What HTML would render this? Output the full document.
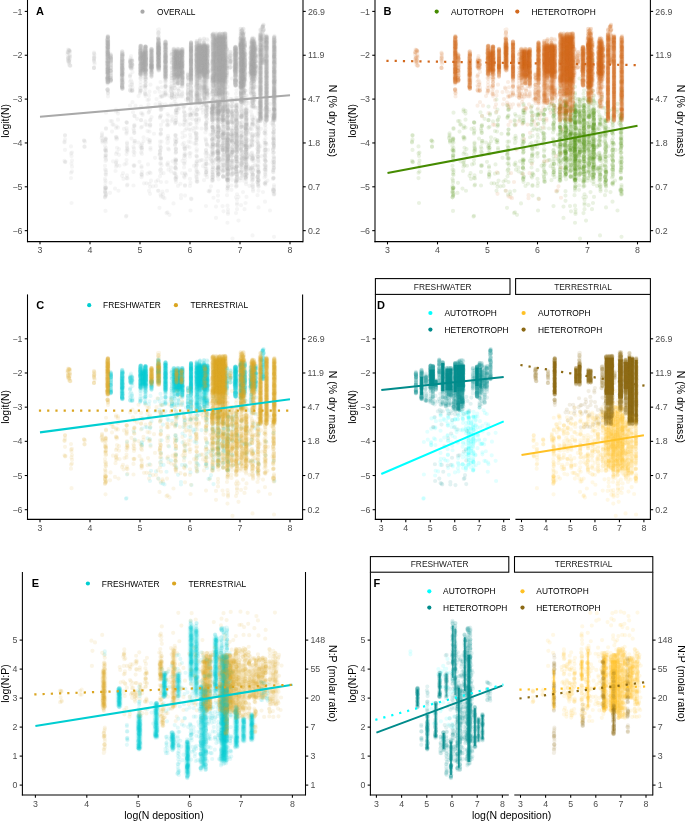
<!DOCTYPE html>
<html><head><meta charset="utf-8"><style>
html,body{margin:0;padding:0;background:#fff;}
svg{display:block;will-change:transform;}
text{font-family:"Liberation Sans", sans-serif;}
</style></head><body>
<svg width="685" height="821" viewBox="0 0 685 821">
<rect width="685" height="821" fill="#fff"/>
<defs><filter id="soft" x="-5%" y="-5%" width="110%" height="110%"><feGaussianBlur stdDeviation="0.9"/></filter><path id="nTH0" vector-effect="non-scaling-stroke" d="M360 224h0M358 213h0M356 212h0M357 206h0M360 191h0M358 211h0M408 229h0M436 223h0M435 231h0M435 198h0M436 259h0M436 158h0M435 187h0M435 242h0M435 186h0M436 263h0M435 258h0M436 208h0M436 213h0M435 253h0M436 286h0M523 192h0M523 190h0M523 186h0M537 232h0M537 181h0M538 229h0M537 213h0M537 222h0M538 212h0M537 228h0M536 181h0M536 232h0M537 174h0M537 228h0M583 200h0M583 228h0M583 217h0M631 189h0M628 234h0M630 238h0M629 220h0M629 216h0M645 153h0M660 228h0M647 276h0M658 227h0M669 208h0M653 222h0M658 189h0M667 230h0M646 278h0M659 184h0M647 150h0M654 253h0M646 164h0M671 178h0M645 213h0M646 235h0M670 176h0M671 168h0M666 172h0M659 156h0M666 288h0M646 189h0M671 164h0M659 188h0M645 173h0M660 217h0M666 204h0M660 259h0M652 245h0M659 177h0M670 289h0M659 261h0M665 173h0M646 179h0M664 201h0M665 194h0M666 231h0M658 210h0M670 246h0M645 254h0M670 220h0M660 214h0M660 174h0M666 244h0M669 214h0M669 271h0M671 205h0M645 216h0M647 275h0M645 270h0M660 203h0M671 175h0M659 195h0M659 287h0M659 227h0M652 278h0M670 184h0M660 243h0M658 177h0M667 240h0M666 260h0M664 158h0M669 170h0M645 259h0M654 192h0M671 157h0M646 218h0M671 187h0M646 196h0M659 196h0M666 197h0M646 282h0M665 267h0M659 274h0M654 180h0M671 213h0M660 239h0M647 267h0M665 258h0M658 282h0M665 224h0M665 303h0M664 306h0M660 326h0M653 320h0M666 298h0M646 319h0M652 292h0M671 307h0M646 300h0M654 307h0M653 293h0M651 334h0M658 324h0M653 329h0M666 338h0M644 334h0M704 275h0M705 222h0M702 181h0M704 216h0M704 196h0M707 171h0M706 269h0M702 179h0M703 166h0M706 221h0M704 243h0M708 237h0M708 266h0M701 195h0M707 264h0M708 176h0M705 228h0M703 241h0M704 175h0M705 147h0M702 264h0M705 141h0M707 195h0M703 258h0M702 248h0M706 236h0M706 168h0M701 284h0M708 242h0M707 148h0M708 226h0M704 174h0M706 153h0M705 168h0M706 285h0M704 224h0M702 271h0M703 214h0M703 218h0M702 288h0M726 218h0M728 170h0M724 196h0M729 191h0M728 238h0M723 211h0M727 229h0M728 242h0M725 240h0M726 249h0M728 238h0M728 239h0M728 222h0M728 248h0M729 188h0M725 278h0M728 265h0M726 316h0M729 300h0M728 267h0M725 305h0M741 152h0M741 310h0M741 159h0M741 182h0M741 336h0M741 261h0M741 185h0M741 228h0M741 260h0M741 163h0M741 155h0M741 185h0M741 262h0M741 271h0M741 281h0M741 240h0M741 274h0M741 282h0M741 286h0M741 275h0M741 323h0M741 207h0M741 312h0M741 192h0M741 229h0M741 216h0M741 277h0M741 196h0M741 202h0M753 219h0M753 341h0M753 251h0M753 266h0M753 234h0M753 162h0M753 346h0M753 305h0M753 313h0M753 334h0M753 161h0M753 215h0M753 228h0M753 260h0M753 218h0M753 243h0M753 305h0M753 324h0M753 225h0M753 296h0M753 173h0M753 341h0M753 332h0M753 202h0M753 234h0M769 207h0M769 220h0M769 160h0M769 221h0M769 222h0M769 168h0M768 262h0M769 212h0M769 192h0M769 200h0M769 280h0M769 197h0M769 278h0M768 276h0M768 218h0M768 324h0M768 239h0M769 190h0M769 164h0M769 207h0M769 209h0M769 277h0M768 201h0M768 290h0M768 227h0M769 249h0M680 207h0M606 337h0M647 340h0M604 298h0M605 346h0"/>
<path id="nTH1" vector-effect="non-scaling-stroke" d="M359 216h0M356 208h0M359 189h0M358 202h0M356 204h0M358 188h0M408 202h0M436 205h0M435 162h0M436 202h0M435 167h0M436 261h0M436 232h0M435 228h0M436 192h0M436 205h0M435 174h0M435 180h0M436 205h0M436 166h0M436 260h0M435 214h0M436 183h0M436 227h0M436 237h0M436 261h0M436 206h0M436 233h0M435 257h0M436 175h0M523 212h0M523 211h0M523 208h0M523 228h0M523 188h0M523 233h0M538 196h0M537 200h0M537 179h0M538 205h0M537 214h0M537 199h0M573 193h0M573 220h0M573 210h0M573 196h0M573 206h0M583 217h0M583 199h0M583 194h0M583 215h0M583 198h0M632 196h0M629 216h0M629 221h0M630 212h0M628 218h0M630 190h0M632 227h0M647 204h0M646 211h0M659 197h0M665 225h0M646 250h0M670 240h0M659 207h0M646 224h0M659 275h0M670 235h0M665 218h0M659 219h0M652 175h0M664 279h0M666 163h0M660 284h0M660 277h0M646 230h0M652 230h0M671 243h0M671 251h0M665 253h0M658 220h0M653 154h0M654 222h0M659 222h0M660 183h0M658 202h0M666 247h0M669 180h0M671 212h0M658 189h0M652 267h0M658 185h0M665 157h0M665 290h0M659 177h0M670 174h0M666 166h0M660 168h0M646 201h0M652 182h0M660 229h0M666 177h0M665 159h0M659 204h0M658 174h0M665 267h0M667 210h0M659 187h0M666 159h0M665 218h0M671 151h0M670 213h0M653 235h0M666 172h0M666 169h0M645 283h0M646 225h0M659 178h0M671 283h0M665 151h0M670 268h0M671 217h0M669 174h0M658 281h0M665 256h0M665 231h0M666 231h0M671 277h0M670 182h0M659 212h0M666 286h0M652 207h0M666 252h0M666 167h0M670 315h0M670 299h0M653 309h0M667 305h0M654 308h0M646 323h0M671 308h0M666 295h0M660 312h0M670 301h0M665 291h0M645 335h0M657 331h0M665 349h0M703 181h0M706 164h0M708 253h0M708 262h0M705 165h0M703 245h0M701 248h0M702 264h0M705 152h0M705 169h0M708 264h0M704 143h0M707 230h0M704 208h0M705 150h0M704 191h0M706 234h0M703 232h0M706 225h0M707 225h0M703 243h0M703 226h0M707 153h0M702 195h0M707 287h0M704 216h0M707 154h0M702 188h0M729 179h0M724 195h0M724 221h0M729 184h0M724 242h0M724 224h0M729 193h0M723 198h0M726 208h0M723 197h0M729 185h0M725 205h0M729 255h0M724 222h0M725 163h0M725 254h0M726 193h0M724 242h0M723 196h0M724 192h0M723 269h0M728 294h0M741 186h0M741 180h0M741 276h0M741 281h0M741 269h0M741 187h0M741 224h0M741 253h0M741 157h0M741 235h0M741 264h0M741 318h0M741 241h0M741 250h0M741 207h0M741 259h0M741 202h0M753 274h0M753 173h0M753 176h0M753 323h0M753 273h0M753 336h0M753 322h0M753 258h0M753 226h0M753 268h0M753 166h0M753 194h0M753 226h0M753 263h0M753 327h0M753 169h0M753 213h0M753 295h0M753 161h0M753 172h0M753 283h0M753 285h0M753 238h0M753 246h0M769 301h0M769 281h0M769 244h0M768 248h0M768 183h0M769 191h0M768 234h0M768 297h0M768 304h0M768 256h0M768 345h0M769 298h0M769 234h0M768 251h0M768 198h0M768 236h0M769 260h0M769 217h0M768 187h0M768 159h0M768 249h0M769 209h0M769 169h0M768 233h0M769 271h0M581 270h0M600 244h0M489 339h0"/>
<path id="nTH2" vector-effect="non-scaling-stroke" d="M357 206h0M408 196h0M409 216h0M436 247h0M435 257h0M435 241h0M435 238h0M436 176h0M435 252h0M436 180h0M436 231h0M435 170h0M435 183h0M436 196h0M435 193h0M435 257h0M436 172h0M435 255h0M436 218h0M436 231h0M435 165h0M435 220h0M435 279h0M523 204h0M523 213h0M537 198h0M537 184h0M537 174h0M536 189h0M538 219h0M537 231h0M538 234h0M536 223h0M537 224h0M538 210h0M536 219h0M536 231h0M537 182h0M538 226h0M536 235h0M573 226h0M573 206h0M573 194h0M573 204h0M573 202h0M573 212h0M583 221h0M583 219h0M583 222h0M629 203h0M631 188h0M631 206h0M630 188h0M670 265h0M665 229h0M652 240h0M666 182h0M671 214h0M670 223h0M671 214h0M671 258h0M647 269h0M666 170h0M645 267h0M653 168h0M659 218h0M671 193h0M658 266h0M647 172h0M670 159h0M646 266h0M670 280h0M645 220h0M660 160h0M670 234h0M646 289h0M659 227h0M670 180h0M658 244h0M653 282h0M670 271h0M664 203h0M666 241h0M646 195h0M665 207h0M669 249h0M664 244h0M660 180h0M660 167h0M646 258h0M671 240h0M659 290h0M666 270h0M670 150h0M652 151h0M646 186h0M659 219h0M645 249h0M666 256h0M671 268h0M653 270h0M671 283h0M658 162h0M652 236h0M658 233h0M665 179h0M647 244h0M659 185h0M665 252h0M666 227h0M654 187h0M665 242h0M670 274h0M665 203h0M647 165h0M666 304h0M652 305h0M666 322h0M666 327h0M665 322h0M665 317h0M666 298h0M666 324h0M660 307h0M647 328h0M646 313h0M666 314h0M657 330h0M652 340h0M658 321h0M644 330h0M658 336h0M665 345h0M665 334h0M652 323h0M705 288h0M705 203h0M702 235h0M707 191h0M705 177h0M701 154h0M707 251h0M706 185h0M704 276h0M703 217h0M707 201h0M701 196h0M706 264h0M703 206h0M705 208h0M701 159h0M704 182h0M704 272h0M702 264h0M702 163h0M701 223h0M708 260h0M705 270h0M707 151h0M705 209h0M702 156h0M703 222h0M702 293h0M702 300h0M702 282h0M702 303h0M708 308h0M723 206h0M727 206h0M727 212h0M728 236h0M728 188h0M725 260h0M726 241h0M724 162h0M728 173h0M724 248h0M727 246h0M725 215h0M723 216h0M724 169h0M726 190h0M723 223h0M726 168h0M729 252h0M727 230h0M727 214h0M728 289h0M729 292h0M727 304h0M725 310h0M725 303h0M726 265h0M741 195h0M741 201h0M741 294h0M741 278h0M741 163h0M741 274h0M741 340h0M741 218h0M741 163h0M741 205h0M741 240h0M741 230h0M741 166h0M741 330h0M741 200h0M741 312h0M741 191h0M741 274h0M741 305h0M741 344h0M753 159h0M753 249h0M753 335h0M753 211h0M753 252h0M753 248h0M753 326h0M753 184h0M753 307h0M753 253h0M753 216h0M753 261h0M753 311h0M753 198h0M753 300h0M753 331h0M753 304h0M753 167h0M753 244h0M753 182h0M753 337h0M753 185h0M753 162h0M768 275h0M768 287h0M769 314h0M769 184h0M768 204h0M769 255h0M769 194h0M768 175h0M768 191h0M769 281h0M769 293h0M768 294h0M768 252h0M769 257h0M769 333h0M768 219h0M769 283h0M768 205h0M769 173h0M769 328h0M769 255h0M768 321h0M768 237h0M563 350h0M629 309h0M639 290h0M634 315h0"/>
<path id="nTH3" vector-effect="non-scaling-stroke" d="M356 187h0M356 194h0M358 192h0M409 205h0M435 232h0M435 254h0M436 160h0M436 240h0M436 217h0M435 217h0M435 222h0M436 195h0M436 198h0M436 259h0M436 261h0M436 168h0M436 287h0M523 185h0M523 214h0M523 199h0M523 222h0M523 207h0M523 229h0M523 186h0M523 226h0M523 200h0M523 218h0M523 200h0M523 203h0M538 234h0M538 171h0M536 197h0M537 200h0M538 181h0M538 183h0M538 195h0M536 161h0M538 157h0M573 221h0M573 224h0M573 228h0M573 206h0M573 202h0M583 222h0M629 230h0M631 237h0M630 190h0M665 267h0M665 160h0M658 214h0M659 198h0M666 250h0M660 156h0M660 256h0M665 208h0M665 281h0M645 284h0M654 267h0M645 210h0M669 178h0M665 197h0M646 186h0M659 230h0M665 253h0M646 201h0M646 176h0M647 270h0M654 280h0M665 176h0M647 284h0M665 189h0M665 264h0M658 166h0M659 213h0M660 152h0M666 187h0M665 240h0M666 267h0M646 253h0M659 216h0M659 284h0M666 261h0M670 286h0M653 269h0M666 214h0M665 268h0M647 263h0M665 178h0M671 206h0M665 175h0M645 177h0M646 281h0M659 182h0M665 272h0M653 170h0M665 238h0M647 205h0M647 242h0M666 173h0M666 165h0M665 269h0M659 288h0M666 275h0M666 160h0M646 157h0M670 154h0M666 170h0M659 156h0M666 249h0M645 200h0M646 195h0M665 241h0M667 274h0M670 161h0M659 279h0M659 163h0M671 169h0M666 250h0M666 201h0M666 197h0M646 172h0M670 230h0M658 185h0M652 265h0M670 205h0M665 269h0M659 153h0M665 171h0M666 280h0M646 195h0M645 237h0M665 220h0M645 232h0M666 313h0M670 326h0M666 313h0M645 328h0M645 319h0M659 323h0M660 290h0M659 309h0M647 300h0M659 314h0M645 338h0M665 337h0M645 335h0M645 328h0M667 327h0M706 187h0M702 161h0M706 149h0M705 196h0M703 174h0M704 187h0M704 144h0M704 159h0M701 224h0M705 185h0M704 229h0M705 234h0M705 202h0M706 219h0M702 260h0M707 186h0M707 254h0M704 287h0M707 195h0M707 200h0M702 146h0M706 237h0M705 229h0M705 287h0M705 277h0M706 149h0M703 215h0M703 153h0M705 302h0M704 294h0M705 288h0M703 308h0M707 284h0M703 288h0M727 244h0M724 176h0M728 235h0M725 254h0M724 181h0M729 236h0M726 199h0M725 225h0M728 228h0M729 206h0M724 201h0M726 224h0M724 206h0M728 184h0M728 227h0M726 219h0M728 174h0M726 213h0M726 172h0M727 183h0M726 251h0M724 232h0M725 187h0M725 220h0M726 287h0M729 306h0M727 288h0M741 204h0M741 297h0M741 305h0M741 244h0M741 310h0M741 339h0M741 318h0M741 178h0M741 172h0M741 339h0M753 221h0M753 238h0M753 228h0M753 178h0M753 277h0M753 166h0M753 165h0M753 178h0M753 247h0M753 284h0M753 253h0M753 265h0M753 165h0M753 337h0M753 168h0M753 219h0M753 209h0M753 250h0M753 320h0M753 234h0M753 277h0M753 211h0M753 175h0M753 227h0M753 249h0M753 164h0M768 315h0M769 285h0M769 307h0M769 236h0M768 162h0M769 203h0M768 160h0M768 237h0M769 180h0M769 339h0M769 259h0M769 164h0M768 168h0M768 323h0M769 318h0M768 293h0M768 319h0M768 278h0M768 340h0M768 309h0M769 349h0M769 187h0M570 357h0M627 314h0M626 331h0M649 331h0M547 319h0M582 294h0M517 312h0"/>
<path id="nTH4" vector-effect="non-scaling-stroke" d="M408 229h0M408 213h0M435 233h0M436 174h0M436 165h0M435 221h0M436 239h0M435 189h0M436 252h0M436 250h0M435 265h0M436 161h0M435 189h0M435 218h0M435 164h0M435 161h0M523 196h0M523 186h0M523 221h0M523 218h0M538 174h0M537 183h0M536 173h0M537 209h0M536 172h0M537 148h0M573 215h0M573 201h0M583 211h0M583 220h0M583 192h0M583 195h0M583 227h0M629 182h0M628 183h0M630 214h0M631 188h0M632 206h0M630 199h0M629 196h0M630 198h0M671 211h0M665 212h0M659 187h0M665 181h0M665 163h0M671 208h0M653 286h0M658 207h0M670 247h0M660 206h0M646 205h0M660 264h0M658 182h0M670 170h0M666 255h0M645 246h0M652 198h0M659 180h0M646 181h0M665 187h0M666 267h0M653 289h0M670 174h0M646 276h0M665 172h0M660 150h0M671 207h0M666 171h0M659 247h0M658 179h0M665 182h0M666 248h0M665 258h0M660 211h0M665 263h0M670 155h0M671 203h0M660 283h0M646 155h0M666 165h0M653 229h0M660 268h0M660 198h0M660 188h0M665 238h0M660 259h0M670 161h0M665 155h0M670 180h0M647 178h0M666 226h0M669 172h0M660 172h0M665 244h0M659 205h0M670 251h0M646 190h0M666 276h0M659 175h0M666 154h0M653 166h0M652 273h0M665 251h0M646 193h0M645 185h0M670 176h0M660 279h0M647 176h0M646 216h0M659 236h0M667 150h0M659 186h0M665 206h0M670 161h0M659 154h0M653 182h0M666 264h0M653 156h0M666 182h0M665 180h0M666 256h0M659 286h0M665 284h0M666 220h0M666 184h0M666 284h0M666 213h0M660 305h0M647 316h0M665 319h0M671 316h0M665 327h0M667 349h0M652 331h0M645 329h0M665 327h0M645 341h0M665 322h0M665 346h0M666 324h0M657 336h0M644 332h0M646 345h0M708 258h0M702 267h0M703 195h0M703 171h0M704 203h0M707 176h0M702 185h0M701 174h0M707 210h0M702 216h0M704 250h0M703 188h0M708 162h0M708 268h0M702 190h0M706 161h0M703 166h0M708 168h0M704 150h0M704 201h0M706 234h0M702 219h0M703 204h0M703 164h0M703 204h0M703 300h0M702 285h0M707 303h0M704 302h0M729 215h0M726 163h0M726 253h0M725 241h0M727 207h0M723 236h0M728 247h0M727 184h0M724 179h0M725 191h0M725 172h0M727 226h0M727 184h0M727 162h0M726 239h0M725 175h0M724 224h0M728 175h0M727 184h0M726 250h0M727 259h0M725 182h0M725 185h0M724 293h0M741 245h0M741 192h0M741 263h0M741 216h0M741 335h0M741 255h0M741 217h0M741 289h0M741 270h0M741 290h0M741 316h0M741 290h0M741 341h0M741 187h0M741 232h0M741 173h0M741 253h0M741 221h0M741 289h0M741 306h0M741 201h0M741 208h0M741 321h0M741 161h0M753 350h0M753 323h0M753 172h0M753 277h0M753 189h0M753 227h0M753 173h0M753 175h0M753 329h0M753 183h0M753 227h0M753 232h0M753 300h0M753 178h0M753 223h0M753 240h0M753 284h0M753 263h0M753 237h0M753 325h0M753 316h0M753 266h0M769 259h0M769 344h0M768 321h0M768 342h0M769 261h0M768 165h0M769 265h0M769 196h0M769 323h0M768 171h0M768 246h0M768 259h0M769 215h0M769 200h0M768 192h0M768 283h0M768 168h0M768 203h0M768 244h0M768 265h0M769 181h0M769 298h0M681 214h0M682 201h0M625 306h0M580 358h0M608 327h0M563 315h0"/>
<path id="nTH5" vector-effect="non-scaling-stroke" d="M356 193h0M356 208h0M436 231h0M435 168h0M436 172h0M436 219h0M436 237h0M436 178h0M436 246h0M435 208h0M435 241h0M435 185h0M436 220h0M436 175h0M435 241h0M436 192h0M435 164h0M436 229h0M435 193h0M436 202h0M435 278h0M523 194h0M523 210h0M523 198h0M523 216h0M523 224h0M523 214h0M523 222h0M523 222h0M523 201h0M523 193h0M537 190h0M537 171h0M538 184h0M537 205h0M538 206h0M573 197h0M573 205h0M573 200h0M583 207h0M583 216h0M583 209h0M583 218h0M583 220h0M628 229h0M629 206h0M659 266h0M660 196h0M645 154h0M666 235h0M665 203h0M659 252h0M671 174h0M660 163h0M646 164h0M670 151h0M647 227h0M665 269h0M666 173h0M652 203h0M645 261h0M647 195h0M645 232h0M659 268h0M660 204h0M659 166h0M659 212h0M667 283h0M666 259h0M671 150h0M670 186h0M658 191h0M658 257h0M669 252h0M646 164h0M659 263h0M670 231h0M659 217h0M658 279h0M669 224h0M647 204h0M658 286h0M665 189h0M658 262h0M645 160h0M658 254h0M666 161h0M660 194h0M660 277h0M658 224h0M653 214h0M654 199h0M665 170h0M669 194h0M659 261h0M645 247h0M659 239h0M670 277h0M670 155h0M666 263h0M659 182h0M660 244h0M666 188h0M654 277h0M665 288h0M659 234h0M646 203h0M660 263h0M670 207h0M664 250h0M645 322h0M646 310h0M670 319h0M665 313h0M669 329h0M665 304h0M647 298h0M645 314h0M657 335h0M658 329h0M644 321h0M644 334h0M644 328h0M657 325h0M653 320h0M658 326h0M658 347h0M652 335h0M705 252h0M706 208h0M704 150h0M706 207h0M704 198h0M708 278h0M702 263h0M707 178h0M702 283h0M706 196h0M707 252h0M707 160h0M702 146h0M702 221h0M701 173h0M706 271h0M701 176h0M706 266h0M706 186h0M705 190h0M706 245h0M707 248h0M704 220h0M701 304h0M703 301h0M704 298h0M704 309h0M705 310h0M729 228h0M726 257h0M726 196h0M724 223h0M724 163h0M723 234h0M725 256h0M728 248h0M728 192h0M725 213h0M728 219h0M725 215h0M726 168h0M726 181h0M727 241h0M726 284h0M727 276h0M724 261h0M729 295h0M741 334h0M741 249h0M741 333h0M741 176h0M741 283h0M741 219h0M741 334h0M741 251h0M741 308h0M741 310h0M741 191h0M741 269h0M741 201h0M741 275h0M741 263h0M741 286h0M741 269h0M741 265h0M741 141h0M753 223h0M753 250h0M753 321h0M753 349h0M753 231h0M753 347h0M753 326h0M753 230h0M753 342h0M753 183h0M753 320h0M753 275h0M753 340h0M753 330h0M753 225h0M753 282h0M753 191h0M753 321h0M753 322h0M753 283h0M753 323h0M753 188h0M753 337h0M753 300h0M753 295h0M753 163h0M768 216h0M769 311h0M768 215h0M768 172h0M769 348h0M768 204h0M769 188h0M769 338h0M768 230h0M769 178h0M769 314h0M768 273h0M768 298h0M768 227h0M769 342h0M768 324h0M769 255h0M768 282h0M679 208h0M575 325h0M562 277h0M540 313h0M644 252h0M574 253h0M626 244h0M658 233h0M612 308h0"/>
<path id="nTH6" vector-effect="non-scaling-stroke" d="M359 195h0M360 199h0M359 191h0M358 195h0M358 217h0M409 220h0M436 228h0M436 158h0M436 194h0M436 171h0M436 198h0M435 234h0M436 252h0M435 216h0M436 156h0M436 207h0M436 224h0M435 223h0M435 175h0M436 242h0M435 200h0M436 182h0M435 261h0M523 231h0M523 203h0M523 221h0M523 193h0M537 206h0M537 183h0M538 189h0M538 197h0M573 191h0M573 227h0M573 217h0M573 220h0M573 192h0M573 220h0M573 201h0M583 227h0M583 225h0M583 206h0M629 225h0M630 180h0M659 186h0M665 222h0M666 154h0M664 175h0M652 196h0M647 215h0M660 245h0M646 181h0M667 221h0M658 157h0M666 279h0M670 234h0M647 178h0M645 256h0M659 222h0M665 181h0M665 248h0M646 175h0M665 281h0M665 169h0M666 162h0M666 238h0M659 268h0M652 288h0M645 219h0M666 247h0M645 181h0M647 281h0M647 241h0M666 231h0M665 162h0M670 249h0M671 200h0M653 194h0M666 276h0M659 212h0M659 260h0M665 211h0M645 230h0M670 159h0M665 186h0M660 192h0M654 194h0M646 243h0M660 165h0M654 222h0M658 231h0M667 277h0M665 202h0M670 200h0M645 256h0M666 234h0M659 235h0M660 280h0M653 225h0M665 252h0M653 178h0M645 235h0M659 234h0M658 182h0M652 248h0M654 215h0M660 205h0M659 237h0M660 159h0M670 242h0M659 257h0M665 182h0M671 266h0M654 239h0M666 252h0M646 151h0M669 260h0M659 210h0M647 197h0M666 249h0M645 228h0M665 231h0M659 246h0M652 317h0M671 304h0M646 312h0M658 316h0M646 325h0M670 290h0M670 305h0M654 323h0M647 327h0M665 329h0M669 300h0M657 340h0M645 349h0M665 343h0M652 328h0M645 339h0M703 208h0M703 262h0M708 255h0M707 239h0M706 250h0M707 155h0M702 215h0M704 220h0M704 149h0M706 261h0M701 161h0M705 253h0M705 256h0M707 140h0M708 260h0M702 186h0M706 276h0M704 171h0M704 218h0M703 275h0M706 271h0M703 200h0M708 218h0M727 222h0M724 172h0M724 178h0M724 243h0M728 188h0M727 238h0M728 197h0M726 243h0M727 169h0M725 163h0M724 207h0M728 192h0M726 167h0M728 174h0M725 167h0M725 234h0M726 195h0M724 222h0M727 182h0M729 177h0M723 217h0M728 189h0M724 191h0M725 181h0M729 214h0M727 228h0M729 180h0M728 258h0M729 172h0M729 302h0M725 309h0M727 320h0M741 225h0M741 349h0M741 160h0M741 185h0M741 336h0M741 290h0M741 309h0M741 315h0M741 312h0M741 193h0M741 184h0M741 162h0M741 299h0M741 341h0M741 251h0M741 270h0M741 302h0M741 248h0M741 307h0M741 196h0M741 350h0M741 330h0M741 317h0M753 287h0M753 189h0M753 347h0M753 171h0M753 294h0M753 290h0M753 237h0M753 266h0M753 202h0M753 258h0M753 275h0M753 346h0M753 317h0M753 310h0M753 183h0M753 239h0M753 233h0M769 334h0M768 241h0M768 285h0M769 228h0M768 310h0M768 244h0M769 209h0M769 279h0M768 200h0M769 230h0M769 339h0M769 158h0M768 322h0M768 203h0M768 290h0M768 209h0M769 292h0M769 264h0M768 206h0M769 182h0M657 262h0M652 303h0M618 345h0M578 322h0"/>
<path id="nTH7" vector-effect="non-scaling-stroke" d="M435 210h0M435 157h0M436 242h0M436 261h0M435 165h0M435 157h0M436 262h0M435 217h0M435 262h0M435 181h0M436 227h0M436 188h0M436 178h0M435 234h0M436 248h0M435 253h0M436 230h0M436 260h0M436 186h0M435 202h0M436 193h0M435 226h0M436 210h0M435 214h0M523 196h0M523 208h0M523 214h0M523 190h0M523 224h0M523 209h0M523 210h0M538 225h0M537 212h0M538 231h0M538 213h0M537 216h0M536 185h0M536 202h0M538 184h0M537 203h0M537 151h0M537 148h0M573 223h0M573 228h0M573 204h0M573 190h0M583 223h0M583 225h0M583 207h0M632 239h0M646 289h0M646 160h0M671 223h0M659 226h0M665 215h0M658 275h0M654 193h0M646 247h0M666 158h0M666 159h0M654 242h0M659 166h0M647 172h0M647 257h0M647 228h0M659 205h0M665 201h0M670 210h0M669 251h0M671 180h0M647 259h0M645 249h0M647 277h0M666 269h0M670 217h0M658 204h0M665 267h0M659 163h0M658 157h0M658 214h0M660 202h0M646 156h0M658 178h0M645 170h0M659 218h0M660 173h0M665 152h0M647 268h0M659 244h0M670 256h0M647 219h0M646 268h0M653 173h0M652 232h0M665 284h0M646 189h0M665 224h0M647 236h0M670 202h0M660 235h0M671 264h0M645 286h0M659 262h0M670 217h0M669 164h0M660 151h0M646 236h0M646 208h0M646 160h0M671 220h0M659 191h0M659 285h0M665 171h0M660 154h0M665 168h0M645 159h0M666 163h0M666 202h0M659 209h0M653 222h0M654 203h0M664 217h0M665 192h0M666 205h0M671 324h0M669 316h0M659 300h0M659 299h0M646 311h0M665 322h0M670 326h0M659 308h0M645 304h0M659 325h0M646 303h0M665 300h0M665 326h0M644 331h0M657 322h0M644 321h0M645 344h0M707 225h0M707 161h0M704 177h0M707 253h0M708 260h0M702 275h0M703 271h0M704 228h0M703 220h0M705 259h0M707 285h0M704 274h0M704 182h0M702 189h0M705 200h0M706 235h0M708 287h0M702 152h0M703 209h0M702 291h0M702 292h0M702 282h0M704 295h0M724 252h0M723 192h0M724 191h0M724 202h0M724 242h0M725 167h0M727 231h0M724 192h0M726 215h0M727 193h0M723 225h0M725 235h0M728 234h0M728 239h0M729 238h0M725 225h0M727 172h0M726 173h0M726 242h0M729 262h0M724 305h0M729 289h0M725 304h0M728 272h0M727 317h0M728 265h0M728 314h0M726 311h0M729 317h0M726 270h0M741 330h0M741 233h0M741 283h0M741 259h0M741 290h0M741 346h0M741 185h0M741 243h0M741 233h0M741 235h0M741 198h0M741 328h0M741 151h0M741 228h0M741 326h0M741 328h0M741 232h0M741 274h0M741 289h0M741 149h0M753 294h0M753 163h0M753 201h0M753 178h0M753 215h0M753 160h0M753 321h0M753 332h0M753 186h0M753 233h0M753 328h0M753 168h0M753 270h0M753 346h0M753 156h0M753 291h0M753 347h0M753 339h0M753 256h0M753 340h0M753 251h0M753 268h0M753 215h0M753 348h0M753 163h0M753 162h0M753 155h0M753 319h0M768 252h0M769 292h0M768 193h0M768 303h0M768 252h0M769 286h0M768 165h0M769 330h0M769 252h0M768 295h0M769 219h0M769 256h0M769 217h0M769 325h0M768 216h0M679 204h0M681 196h0M679 229h0M618 349h0M542 359h0M541 295h0M564 285h0"/>
<path id="nTH8" vector-effect="non-scaling-stroke" d="M358 189h0M360 203h0M359 210h0M408 207h0M408 209h0M408 194h0M435 237h0M435 229h0M436 255h0M435 231h0M435 238h0M436 159h0M435 194h0M436 246h0M435 196h0M436 255h0M436 183h0M435 254h0M435 279h0M436 278h0M436 294h0M523 207h0M523 217h0M523 190h0M523 212h0M523 211h0M538 224h0M537 213h0M538 180h0M538 189h0M536 208h0M537 222h0M536 184h0M537 227h0M536 192h0M537 180h0M538 208h0M538 176h0M537 232h0M537 173h0M536 225h0M537 180h0M537 170h0M537 221h0M537 182h0M536 142h0M536 162h0M538 141h0M537 148h0M536 152h0M573 204h0M583 224h0M583 218h0M583 227h0M583 223h0M583 219h0M628 221h0M631 225h0M631 206h0M669 198h0M660 181h0M665 181h0M670 166h0M659 175h0M659 256h0M669 230h0M654 245h0M666 227h0M669 241h0M666 270h0M660 228h0M669 279h0M647 203h0M653 173h0M660 195h0M665 186h0M670 159h0M670 173h0M665 230h0M671 177h0M665 238h0M646 173h0M666 266h0M665 271h0M658 211h0M659 275h0M666 159h0M647 160h0M647 167h0M654 204h0M647 215h0M653 195h0M665 151h0M658 286h0M659 151h0M660 176h0M658 195h0M659 178h0M666 227h0M646 185h0M654 198h0M669 170h0M670 164h0M659 230h0M645 222h0M666 250h0M658 198h0M665 282h0M647 178h0M645 251h0M660 216h0M653 208h0M665 270h0M654 166h0M670 241h0M660 186h0M669 170h0M646 189h0M670 245h0M665 267h0M666 265h0M658 309h0M646 293h0M660 327h0M666 292h0M670 297h0M645 317h0M665 328h0M665 302h0M653 345h0M653 323h0M666 339h0M657 326h0M657 340h0M665 322h0M656 327h0M704 211h0M702 201h0M706 275h0M703 159h0M708 194h0M704 181h0M707 231h0M707 256h0M702 284h0M702 269h0M705 288h0M705 152h0M702 196h0M701 178h0M707 167h0M703 207h0M707 199h0M702 158h0M708 228h0M704 284h0M706 169h0M705 283h0M701 255h0M704 148h0M706 234h0M706 202h0M705 204h0M703 294h0M702 293h0M702 293h0M724 198h0M728 214h0M728 204h0M725 227h0M725 216h0M726 184h0M724 167h0M727 248h0M729 228h0M726 220h0M724 217h0M727 195h0M726 250h0M723 186h0M724 239h0M724 247h0M725 284h0M725 285h0M727 278h0M741 192h0M741 319h0M741 253h0M741 201h0M741 177h0M741 183h0M741 215h0M741 301h0M741 333h0M741 267h0M741 346h0M741 345h0M741 341h0M741 344h0M753 274h0M753 242h0M753 170h0M753 311h0M753 274h0M753 204h0M753 210h0M753 161h0M753 207h0M753 282h0M753 289h0M753 207h0M753 195h0M753 218h0M753 245h0M753 269h0M753 211h0M753 158h0M753 304h0M768 204h0M769 257h0M768 307h0M769 198h0M768 258h0M768 337h0M769 243h0M769 170h0M769 287h0M769 213h0M768 246h0M768 290h0M768 238h0M768 273h0M769 293h0M769 295h0M769 263h0M768 244h0M769 332h0M769 323h0M769 268h0M768 284h0M769 212h0M769 183h0M681 206h0M679 200h0M659 257h0M631 272h0M545 294h0M635 324h0M628 245h0M633 316h0M511 293h0"/>
<path id="nTH9" vector-effect="non-scaling-stroke" d="M356 215h0M359 209h0M361 224h0M360 205h0M358 222h0M408 211h0M436 177h0M435 194h0M436 158h0M435 191h0M436 256h0M436 215h0M435 213h0M436 257h0M435 167h0M436 177h0M436 165h0M435 165h0M436 183h0M436 239h0M435 178h0M436 216h0M436 158h0M435 220h0M436 259h0M436 255h0M436 160h0M523 222h0M523 213h0M523 191h0M523 234h0M536 228h0M537 225h0M537 192h0M537 199h0M537 225h0M537 182h0M537 195h0M538 235h0M536 228h0M583 194h0M583 195h0M629 214h0M630 236h0M660 217h0M654 153h0M659 231h0M669 208h0M671 245h0M645 288h0M666 167h0M659 154h0M659 183h0M666 153h0M666 235h0M665 208h0M660 161h0M666 163h0M658 233h0M660 277h0M646 268h0M666 160h0M665 277h0M671 195h0M667 278h0M666 226h0M669 181h0M670 286h0M646 211h0M671 214h0M671 215h0M658 202h0M671 185h0M665 196h0M658 268h0M659 230h0M646 248h0M646 256h0M665 181h0M647 199h0M659 209h0M665 162h0M646 153h0M660 237h0M666 156h0M645 265h0M670 213h0M658 234h0M665 195h0M666 303h0M665 328h0M653 322h0M653 310h0M666 317h0M654 328h0M665 300h0M670 306h0M653 305h0M645 302h0M659 306h0M645 338h0M645 349h0M652 323h0M644 343h0M644 342h0M666 349h0M658 331h0M644 328h0M701 140h0M706 194h0M702 196h0M701 187h0M705 253h0M706 220h0M705 271h0M708 188h0M703 207h0M704 183h0M702 288h0M707 224h0M703 288h0M705 227h0M705 248h0M702 210h0M702 213h0M706 152h0M704 233h0M707 269h0M706 222h0M703 289h0M704 208h0M704 233h0M701 195h0M702 203h0M707 224h0M707 297h0M707 305h0M708 283h0M724 254h0M723 180h0M727 197h0M726 233h0M725 205h0M724 221h0M725 180h0M724 172h0M727 205h0M727 195h0M727 169h0M726 217h0M726 254h0M725 200h0M724 178h0M726 308h0M727 293h0M728 285h0M741 312h0M741 343h0M741 273h0M741 321h0M741 188h0M741 153h0M741 154h0M741 347h0M741 166h0M741 296h0M741 315h0M741 316h0M741 324h0M741 220h0M741 253h0M741 154h0M741 343h0M741 242h0M741 274h0M741 341h0M741 260h0M741 177h0M741 334h0M741 239h0M741 229h0M741 308h0M753 306h0M753 169h0M753 162h0M753 271h0M753 212h0M753 310h0M753 159h0M753 289h0M753 170h0M753 270h0M753 221h0M753 204h0M753 181h0M753 261h0M753 248h0M753 160h0M753 255h0M753 176h0M753 168h0M769 333h0M768 228h0M769 221h0M769 169h0M768 281h0M769 239h0M769 163h0M769 223h0M768 303h0M768 274h0M768 181h0M768 227h0M768 266h0M769 226h0M769 220h0M769 156h0M769 250h0M769 161h0M769 156h0M769 291h0M769 236h0M768 250h0M769 189h0M769 276h0M768 326h0M768 224h0M682 210h0M598 257h0M584 283h0M497 293h0M515 319h0"/>
<path id="nTH10" vector-effect="non-scaling-stroke" d="M355 193h0M358 189h0M358 214h0M408 229h0M436 230h0M436 166h0M435 172h0M435 250h0M435 240h0M435 194h0M436 202h0M436 231h0M436 172h0M436 198h0M436 250h0M436 159h0M436 164h0M436 176h0M523 215h0M523 212h0M523 228h0M523 222h0M523 221h0M523 202h0M538 182h0M537 216h0M538 188h0M536 212h0M536 182h0M573 214h0M573 192h0M573 208h0M573 205h0M573 219h0M583 199h0M629 187h0M631 238h0M671 273h0M665 226h0M659 251h0M665 185h0M646 187h0M658 165h0M659 185h0M660 193h0M659 195h0M671 229h0M666 164h0M646 168h0M645 217h0M653 167h0M671 287h0M646 283h0M666 171h0M646 190h0M652 278h0M659 181h0M660 279h0M667 209h0M660 160h0M653 275h0M654 246h0M669 162h0M666 275h0M671 153h0M646 180h0M660 194h0M647 207h0M665 235h0M645 192h0M666 177h0M659 247h0M670 160h0M646 252h0M660 289h0M659 209h0M665 168h0M660 274h0M665 175h0M659 231h0M647 152h0M658 153h0M658 174h0M645 231h0M659 161h0M666 194h0M659 234h0M665 172h0M665 249h0M653 271h0M653 289h0M670 256h0M665 191h0M659 253h0M671 180h0M659 279h0M646 258h0M646 255h0M664 270h0M659 207h0M665 158h0M646 254h0M670 218h0M666 234h0M660 232h0M671 259h0M671 200h0M652 197h0M666 243h0M665 165h0M666 320h0M659 294h0M665 330h0M666 324h0M659 327h0M671 298h0M671 296h0M660 301h0M654 305h0M671 323h0M665 307h0M644 348h0M644 346h0M666 335h0M645 329h0M645 321h0M653 344h0M645 347h0M706 222h0M702 185h0M701 216h0M702 140h0M703 173h0M708 284h0M701 262h0M702 190h0M706 214h0M702 179h0M702 209h0M706 235h0M705 149h0M701 151h0M704 238h0M701 238h0M705 190h0M705 185h0M708 187h0M707 200h0M702 261h0M701 207h0M705 178h0M705 163h0M707 257h0M707 207h0M702 157h0M705 284h0M703 167h0M704 158h0M707 298h0M705 303h0M723 248h0M726 182h0M723 229h0M727 163h0M725 160h0M723 246h0M723 242h0M728 219h0M727 221h0M725 187h0M727 229h0M725 224h0M724 215h0M725 185h0M729 208h0M724 179h0M724 232h0M728 234h0M728 163h0M726 225h0M723 196h0M728 253h0M723 250h0M724 259h0M723 234h0M727 239h0M724 251h0M724 219h0M729 255h0M728 232h0M727 242h0M725 215h0M727 259h0M723 166h0M726 203h0M727 317h0M723 260h0M726 303h0M728 314h0M725 307h0M725 274h0M724 318h0M741 223h0M741 154h0M741 215h0M741 347h0M741 164h0M741 259h0M741 161h0M741 345h0M741 235h0M741 277h0M741 156h0M741 349h0M741 198h0M741 231h0M741 151h0M741 315h0M741 237h0M741 215h0M741 189h0M741 281h0M741 169h0M741 188h0M741 304h0M741 166h0M741 342h0M741 154h0M741 196h0M741 300h0M741 144h0M753 308h0M753 228h0M753 180h0M753 165h0M753 279h0M753 240h0M753 249h0M753 187h0M753 339h0M753 347h0M753 319h0M753 213h0M753 180h0M753 284h0M769 228h0M769 319h0M769 208h0M769 273h0M768 292h0M768 174h0M768 295h0M768 263h0M769 238h0M769 212h0M769 269h0M768 183h0M768 180h0M768 197h0M768 278h0M768 213h0M768 291h0M593 351h0M597 252h0M651 282h0M533 300h0"/>
<path id="nTH11" vector-effect="non-scaling-stroke" d="M436 261h0M436 174h0M435 238h0M436 175h0M435 202h0M435 207h0M436 217h0M435 188h0M435 183h0M436 168h0M436 197h0M436 225h0M436 177h0M436 188h0M436 203h0M435 278h0M523 200h0M523 208h0M523 210h0M523 187h0M523 208h0M523 204h0M523 191h0M537 217h0M538 175h0M537 204h0M537 228h0M537 225h0M537 191h0M536 194h0M538 166h0M573 210h0M573 216h0M573 195h0M583 228h0M583 200h0M583 196h0M628 183h0M630 183h0M645 153h0M665 158h0M665 190h0M660 277h0M646 216h0M658 287h0M666 182h0M665 284h0M671 192h0M665 259h0M658 256h0M666 253h0M652 263h0M646 215h0M646 203h0M671 250h0M666 213h0M665 164h0M647 155h0M666 241h0M647 177h0M665 285h0M660 196h0M659 250h0M665 269h0M666 257h0M654 215h0M666 236h0M671 229h0M670 172h0M665 163h0M670 252h0M654 169h0M659 190h0M670 214h0M647 230h0M665 174h0M652 183h0M660 167h0M669 217h0M646 274h0M670 221h0M646 228h0M658 283h0M666 163h0M645 158h0M669 279h0M659 158h0M660 246h0M669 264h0M671 174h0M646 212h0M665 244h0M669 151h0M659 183h0M660 231h0M660 221h0M666 218h0M658 230h0M665 202h0M654 184h0M647 245h0M646 274h0M669 240h0M670 236h0M645 256h0M666 257h0M670 312h0M659 329h0M659 303h0M659 314h0M670 295h0M671 309h0M646 316h0M659 296h0M645 348h0M658 332h0M644 323h0M645 331h0M658 346h0M703 194h0M704 155h0M708 287h0M707 184h0M701 240h0M707 249h0M705 262h0M705 154h0M706 202h0M702 198h0M707 234h0M707 286h0M707 266h0M702 184h0M707 200h0M702 288h0M701 229h0M702 198h0M707 140h0M708 286h0M706 288h0M708 162h0M703 278h0M706 265h0M706 153h0M703 200h0M701 162h0M703 263h0M702 292h0M704 295h0M705 294h0M707 292h0M705 294h0M702 284h0M706 302h0M727 243h0M728 192h0M726 257h0M729 223h0M727 232h0M729 175h0M723 171h0M723 212h0M724 219h0M724 197h0M727 192h0M728 258h0M725 253h0M725 255h0M725 184h0M727 221h0M729 168h0M723 255h0M729 177h0M726 177h0M729 194h0M725 179h0M726 196h0M726 301h0M724 314h0M729 286h0M726 276h0M727 316h0M741 217h0M741 302h0M741 217h0M741 331h0M741 157h0M741 323h0M741 319h0M741 280h0M741 201h0M741 289h0M741 344h0M741 285h0M741 317h0M741 186h0M741 164h0M741 257h0M741 258h0M741 212h0M741 307h0M741 226h0M753 342h0M753 285h0M753 287h0M753 249h0M753 230h0M753 200h0M753 171h0M753 313h0M753 349h0M753 249h0M753 204h0M753 158h0M753 343h0M753 248h0M769 250h0M768 291h0M769 185h0M769 297h0M769 235h0M768 178h0M768 165h0M768 260h0M768 234h0M768 162h0M768 287h0M768 311h0M768 324h0M768 243h0M768 349h0M768 338h0M768 236h0M769 240h0M769 201h0M768 310h0M680 214h0M557 358h0M644 259h0M535 274h0M502 332h0"/>
<path id="nTH12" vector-effect="non-scaling-stroke" d="M436 173h0M435 204h0M436 179h0M436 205h0M436 199h0M436 233h0M436 183h0M435 251h0M435 199h0M435 173h0M436 282h0M523 186h0M523 189h0M523 221h0M523 209h0M523 213h0M523 187h0M523 188h0M523 214h0M523 207h0M523 199h0M523 191h0M523 208h0M523 215h0M523 227h0M538 176h0M538 192h0M538 227h0M537 195h0M537 219h0M537 227h0M536 212h0M538 185h0M538 204h0M536 176h0M536 164h0M573 201h0M573 209h0M583 195h0M583 219h0M583 195h0M631 200h0M632 208h0M666 247h0M671 180h0M665 271h0M653 253h0M665 178h0M652 178h0M652 289h0M664 153h0M670 215h0M665 232h0M664 218h0M670 151h0M670 278h0M659 265h0M666 166h0M671 283h0M665 168h0M659 211h0M671 225h0M654 278h0M658 173h0M670 262h0M652 164h0M646 255h0M645 214h0M670 275h0M670 195h0M646 255h0M646 218h0M665 251h0M647 206h0M647 203h0M647 200h0M666 238h0M652 270h0M653 155h0M660 280h0M646 200h0M665 260h0M658 191h0M658 175h0M660 237h0M671 216h0M659 283h0M659 213h0M646 228h0M645 239h0M671 232h0M671 251h0M645 235h0M652 243h0M670 195h0M660 245h0M670 290h0M665 238h0M645 223h0M652 272h0M665 252h0M671 285h0M647 248h0M653 150h0M664 193h0M670 263h0M647 197h0M666 238h0M658 312h0M647 296h0M665 316h0M666 300h0M646 327h0M653 328h0M658 305h0M653 313h0M666 312h0M670 316h0M652 307h0M666 306h0M647 316h0M666 306h0M653 323h0M658 291h0M653 297h0M660 321h0M656 329h0M658 327h0M644 323h0M652 322h0M656 327h0M704 158h0M706 218h0M701 145h0M702 245h0M707 203h0M707 162h0M705 270h0M702 175h0M703 276h0M702 241h0M707 245h0M703 183h0M701 263h0M702 262h0M703 275h0M704 222h0M703 158h0M705 267h0M706 280h0M702 152h0M708 148h0M705 251h0M704 191h0M703 269h0M704 240h0M704 217h0M701 306h0M703 288h0M729 221h0M727 199h0M727 167h0M724 202h0M723 198h0M729 246h0M728 162h0M727 213h0M726 194h0M728 182h0M727 186h0M725 165h0M729 215h0M723 206h0M724 210h0M729 200h0M728 247h0M726 240h0M727 192h0M728 235h0M724 218h0M723 169h0M725 243h0M726 210h0M726 295h0M725 283h0M741 154h0M741 169h0M741 231h0M741 301h0M741 285h0M741 236h0M741 324h0M741 298h0M741 313h0M741 240h0M741 311h0M741 279h0M741 336h0M741 164h0M741 287h0M741 277h0M741 306h0M741 250h0M741 153h0M741 325h0M741 166h0M741 228h0M741 342h0M741 301h0M741 333h0M741 240h0M741 211h0M741 262h0M741 142h0M753 182h0M753 174h0M753 219h0M753 174h0M753 255h0M753 172h0M753 318h0M753 238h0M753 308h0M753 289h0M753 340h0M753 261h0M753 273h0M753 185h0M753 300h0M753 319h0M753 280h0M753 241h0M753 216h0M753 158h0M753 282h0M753 280h0M753 292h0M768 175h0M768 217h0M768 184h0M768 264h0M768 186h0M768 343h0M768 270h0M768 289h0M768 200h0M769 223h0M769 338h0M769 208h0M769 325h0M768 232h0M769 220h0M562 312h0M600 285h0M485 307h0"/>
<path id="nTH13" vector-effect="non-scaling-stroke" d="M360 223h0M355 198h0M409 198h0M408 206h0M435 170h0M435 159h0M435 209h0M435 201h0M435 207h0M435 179h0M435 214h0M435 181h0M435 254h0M435 261h0M435 251h0M435 208h0M436 247h0M523 206h0M523 220h0M523 199h0M523 215h0M523 231h0M523 203h0M538 215h0M536 172h0M537 187h0M537 210h0M537 206h0M536 222h0M537 222h0M536 181h0M573 224h0M573 221h0M583 193h0M583 208h0M583 215h0M629 194h0M631 228h0M645 283h0M659 189h0M666 259h0M646 179h0M659 261h0M666 282h0M646 175h0M653 201h0M671 246h0M645 260h0M669 215h0M646 254h0M645 283h0M665 183h0M646 266h0M671 182h0M666 197h0M665 247h0M658 267h0M659 171h0M658 194h0M660 259h0M669 246h0M670 273h0M659 273h0M660 173h0M670 268h0M660 165h0M670 243h0M645 154h0M659 182h0M646 199h0M645 169h0M658 289h0M665 256h0M647 172h0M670 225h0M645 238h0M660 178h0M658 273h0M659 183h0M671 266h0M653 231h0M660 256h0M645 225h0M658 153h0M665 248h0M666 201h0M645 214h0M670 276h0M659 227h0M645 236h0M654 163h0M659 206h0M647 292h0M647 306h0M660 298h0M647 307h0M669 313h0M670 327h0M666 299h0M671 307h0M660 313h0M664 292h0M660 324h0M658 322h0M670 315h0M645 307h0M657 331h0M665 338h0M658 321h0M657 345h0M665 348h0M657 350h0M705 265h0M701 215h0M703 195h0M705 252h0M705 181h0M708 279h0M704 271h0M706 155h0M704 144h0M705 204h0M703 230h0M707 166h0M708 288h0M708 253h0M707 235h0M702 223h0M706 268h0M706 237h0M706 243h0M701 194h0M704 245h0M707 248h0M701 269h0M703 157h0M704 298h0M702 290h0M707 293h0M706 288h0M728 221h0M725 204h0M729 243h0M728 170h0M727 166h0M728 179h0M728 181h0M725 236h0M728 206h0M726 251h0M727 221h0M725 171h0M724 207h0M723 183h0M728 243h0M725 190h0M728 195h0M725 198h0M727 254h0M727 190h0M724 255h0M725 186h0M729 272h0M725 307h0M724 302h0M726 309h0M741 317h0M741 326h0M741 235h0M741 341h0M741 192h0M741 247h0M741 279h0M741 341h0M741 347h0M741 343h0M741 347h0M741 288h0M741 232h0M741 240h0M741 177h0M741 212h0M741 238h0M741 327h0M741 341h0M741 340h0M741 350h0M741 329h0M741 255h0M741 197h0M753 221h0M753 303h0M753 319h0M753 208h0M753 270h0M753 323h0M753 274h0M753 216h0M753 331h0M753 200h0M753 181h0M753 293h0M753 278h0M753 185h0M753 338h0M753 326h0M753 238h0M753 197h0M753 341h0M753 298h0M769 346h0M769 290h0M769 338h0M768 160h0M769 344h0M769 262h0M769 285h0M768 262h0M769 238h0M769 302h0M769 217h0M769 193h0M769 218h0M769 244h0M768 178h0M769 311h0M769 226h0M769 246h0M768 287h0M768 227h0M768 203h0M769 326h0M769 257h0M768 259h0M768 218h0M768 191h0M769 287h0M680 219h0M658 237h0M636 330h0M558 292h0M515 302h0M491 315h0M570 300h0M480 315h0"/>
<path id="nFH0" vector-effect="non-scaling-stroke" d="M441 201h0M442 248h0M442 247h0M465 218h0M464 263h0M464 252h0M464 215h0M465 261h0M464 244h0M465 209h0M464 212h0M464 273h0M465 239h0M464 264h0M465 201h0M465 205h0M465 273h0M482 218h0M483 213h0M480 214h0M485 229h0M484 222h0M480 228h0M484 281h0M481 272h0M501 230h0M500 196h0M502 217h0M501 205h0M510 181h0M512 213h0M501 178h0M510 224h0M512 224h0M510 211h0M512 210h0M510 233h0M511 200h0M501 181h0M510 192h0M502 190h0M510 217h0M501 230h0M512 210h0M510 187h0M500 201h0M510 184h0M510 219h0M512 289h0M511 255h0M511 276h0M523 229h0M523 228h0M523 238h0M537 175h0M536 205h0M537 221h0M536 195h0M538 229h0M538 193h0M551 181h0M551 233h0M551 172h0M551 180h0M551 205h0M551 236h0M551 174h0M551 227h0M551 206h0M551 170h0M551 270h0M564 208h0M564 234h0M564 209h0M563 264h0M583 254h0M576 221h0M585 250h0M585 204h0M585 243h0M575 217h0M577 214h0M575 216h0M584 261h0M569 255h0M567 222h0M569 199h0M568 194h0M569 217h0M585 189h0M569 201h0M585 235h0M575 251h0M584 226h0M576 189h0M567 229h0M568 230h0M585 186h0M575 249h0M567 264h0M569 198h0M569 289h0M576 260h0M584 266h0M596 254h0M596 291h0M596 267h0M602 219h0M602 255h0M602 226h0M602 239h0M602 242h0M602 211h0M602 177h0M602 216h0M602 237h0M602 249h0M602 247h0M602 200h0M602 231h0M602 190h0M602 242h0M602 182h0M602 225h0M602 253h0M602 178h0M602 250h0M602 294h0M614 176h0M634 225h0M619 202h0M620 233h0M628 225h0M635 221h0M628 178h0M619 214h0M619 247h0M634 195h0M635 223h0M635 180h0M614 219h0M614 184h0M629 208h0M628 236h0M619 194h0M634 184h0M613 177h0M613 221h0M619 227h0M618 237h0M620 212h0M613 201h0M628 212h0M619 206h0M613 199h0M629 211h0M620 247h0M618 243h0M629 201h0M614 227h0M620 240h0M629 224h0M635 209h0M620 179h0M629 248h0M613 179h0M614 186h0M634 244h0M619 222h0M619 188h0M628 207h0M634 246h0M628 212h0M614 262h0M627 274h0M634 288h0M615 288h0M619 293h0M620 167h0M628 172h0M690 202h0M691 200h0M691 230h0M691 233h0M691 228h0M691 205h0M692 224h0M692 260h0M691 261h0M690 190h0M691 200h0M692 210h0M691 242h0M691 226h0M690 259h0M690 258h0M674 239h0M702 252h0M711 239h0M701 252h0M703 183h0M702 221h0M702 245h0M709 231h0M701 230h0M701 180h0M701 187h0M701 186h0M701 234h0M709 232h0M701 272h0M722 202h0M723 229h0M723 210h0M723 214h0M723 232h0M722 218h0M722 222h0M732 205h0M730 244h0M731 210h0M721 218h0M731 214h0M732 180h0M732 255h0M722 287h0M747 153h0M746 143h0M744 148h0M744 160h0M747 209h0M745 134h0M747 196h0M511 358h0M571 471h0M520 516h0M646 424h0M521 267h0M647 270h0M604 281h0M668 272h0"/>
<path id="nFH1" vector-effect="non-scaling-stroke" d="M441 235h0M441 251h0M442 234h0M442 212h0M464 267h0M464 231h0M465 197h0M464 272h0M465 216h0M464 219h0M464 209h0M464 216h0M464 246h0M465 229h0M464 191h0M482 224h0M484 213h0M482 231h0M485 238h0M501 193h0M502 185h0M511 180h0M501 188h0M512 205h0M502 230h0M512 201h0M501 221h0M512 194h0M512 245h0M512 195h0M511 216h0M512 204h0M502 245h0M501 237h0M500 195h0M510 245h0M502 201h0M500 235h0M510 195h0M511 233h0M501 179h0M512 201h0M510 194h0M501 278h0M511 269h0M511 244h0M523 249h0M523 228h0M538 172h0M537 166h0M537 188h0M536 198h0M551 192h0M551 215h0M551 218h0M551 212h0M551 235h0M551 232h0M551 204h0M551 253h0M551 230h0M551 234h0M551 193h0M551 247h0M551 246h0M551 217h0M551 238h0M551 177h0M551 218h0M551 243h0M551 258h0M551 272h0M551 286h0M563 198h0M575 208h0M569 227h0M575 218h0M584 186h0M584 240h0M577 240h0M577 242h0M584 229h0M575 226h0M584 189h0M569 258h0M575 254h0M576 230h0M567 186h0M569 206h0M575 209h0M577 221h0M585 251h0M569 275h0M569 265h0M602 242h0M602 225h0M602 259h0M602 210h0M602 188h0M602 174h0M602 236h0M602 208h0M602 196h0M602 254h0M602 173h0M602 234h0M602 238h0M602 245h0M602 209h0M602 236h0M602 305h0M629 250h0M634 183h0M627 243h0M628 215h0M615 195h0M629 226h0M635 196h0M620 237h0M619 222h0M635 232h0M619 213h0M634 211h0M635 200h0M634 213h0M620 176h0M634 181h0M628 178h0M614 201h0M629 236h0M634 225h0M628 205h0M619 200h0M628 241h0M627 190h0M614 176h0M614 211h0M620 211h0M628 180h0M629 200h0M629 198h0M620 208h0M620 197h0M618 181h0M619 220h0M634 175h0M628 192h0M614 175h0M614 231h0M620 193h0M635 221h0M620 178h0M627 224h0M614 195h0M620 234h0M634 221h0M619 244h0M620 239h0M635 224h0M620 214h0M633 241h0M615 190h0M614 226h0M629 294h0M620 266h0M613 291h0M620 251h0M614 258h0M629 298h0M620 285h0M619 304h0M634 163h0M628 167h0M691 258h0M690 263h0M690 181h0M690 187h0M690 236h0M691 237h0M691 182h0M690 234h0M692 217h0M691 194h0M692 188h0M692 232h0M691 186h0M691 189h0M692 188h0M674 225h0M711 198h0M701 227h0M710 171h0M711 243h0M710 230h0M709 210h0M709 214h0M711 246h0M709 207h0M710 196h0M710 216h0M702 243h0M702 198h0M701 177h0M702 262h0M710 281h0M702 294h0M731 239h0M721 239h0M722 247h0M723 217h0M721 195h0M731 201h0M721 221h0M731 231h0M721 193h0M732 235h0M723 287h0M721 278h0M744 165h0M747 140h0M745 213h0M747 140h0M747 218h0M745 142h0M746 146h0M747 141h0M744 212h0M747 197h0M746 204h0M748 170h0M747 131h0M748 165h0M640 508h0M503 274h0M519 283h0"/>
<path id="nFH2" vector-effect="non-scaling-stroke" d="M441 215h0M441 204h0M441 235h0M441 203h0M464 240h0M464 220h0M464 228h0M464 269h0M464 268h0M464 238h0M465 197h0M465 268h0M465 276h0M464 196h0M484 228h0M485 222h0M480 225h0M484 262h0M480 260h0M511 207h0M511 210h0M511 223h0M501 190h0M511 194h0M510 243h0M501 206h0M512 240h0M511 191h0M512 189h0M511 192h0M511 210h0M510 219h0M510 215h0M510 189h0M500 238h0M510 196h0M512 231h0M512 205h0M510 197h0M501 240h0M512 214h0M502 179h0M500 242h0M510 227h0M511 180h0M502 239h0M502 218h0M510 215h0M511 239h0M502 254h0M501 268h0M502 252h0M523 243h0M523 245h0M523 238h0M536 167h0M537 194h0M536 176h0M536 161h0M537 197h0M538 212h0M536 172h0M551 195h0M551 244h0M551 227h0M551 211h0M551 224h0M551 171h0M551 176h0M551 218h0M551 193h0M551 289h0M551 271h0M564 297h0M563 217h0M564 252h0M564 275h0M583 248h0M585 220h0M568 190h0M568 221h0M577 224h0M585 239h0M568 242h0M569 220h0M584 263h0M584 224h0M568 228h0M584 223h0M568 187h0M585 216h0M576 249h0M568 252h0M584 258h0M585 196h0M568 235h0M583 219h0M577 226h0M576 223h0M576 258h0M585 196h0M568 206h0M584 218h0M585 191h0M596 303h0M596 299h0M602 202h0M602 182h0M602 224h0M602 171h0M602 201h0M602 239h0M602 209h0M602 224h0M602 188h0M602 243h0M602 222h0M602 199h0M602 244h0M602 217h0M602 277h0M602 274h0M602 293h0M602 296h0M602 300h0M635 236h0M618 243h0M619 237h0M629 202h0M629 210h0M613 198h0M614 236h0M613 206h0M634 191h0M628 188h0M628 239h0M635 191h0M635 204h0M628 202h0M628 177h0M629 230h0M619 197h0M620 177h0M619 222h0M620 241h0M634 195h0M620 210h0M628 245h0M628 223h0M615 185h0M627 185h0M629 182h0M613 209h0M620 215h0M628 194h0M628 217h0M635 234h0M619 226h0M629 188h0M615 235h0M619 202h0M614 178h0M619 231h0M619 202h0M633 229h0M634 241h0M629 203h0M620 249h0M634 221h0M628 207h0M620 209h0M634 242h0M628 199h0M619 269h0M628 258h0M618 288h0M620 270h0M613 171h0M681 212h0M681 200h0M681 215h0M692 199h0M691 219h0M692 242h0M691 224h0M692 202h0M692 218h0M691 238h0M692 226h0M691 215h0M692 256h0M692 202h0M690 234h0M691 186h0M691 256h0M691 230h0M692 184h0M691 192h0M692 244h0M691 209h0M674 241h0M674 229h0M710 230h0M709 247h0M709 244h0M703 240h0M701 176h0M702 249h0M703 249h0M702 272h0M732 226h0M722 232h0M731 188h0M730 222h0M731 207h0M722 227h0M730 238h0M722 273h0M746 205h0M748 214h0M746 217h0M747 189h0M747 216h0M584 469h0M539 308h0M637 430h0M543 273h0M510 289h0M551 312h0"/>
<path id="nFH3" vector-effect="non-scaling-stroke" d="M442 219h0M441 256h0M442 207h0M464 228h0M464 269h0M464 195h0M464 211h0M464 256h0M464 228h0M481 216h0M482 217h0M484 219h0M483 223h0M483 226h0M484 213h0M485 274h0M482 202h0M481 282h0M501 187h0M500 188h0M511 234h0M510 190h0M511 222h0M511 185h0M501 242h0M500 223h0M500 227h0M501 236h0M511 188h0M500 224h0M500 204h0M510 233h0M512 196h0M511 189h0M501 187h0M510 191h0M511 235h0M511 191h0M510 238h0M512 205h0M512 210h0M512 197h0M511 215h0M511 207h0M511 184h0M500 197h0M510 240h0M512 233h0M501 213h0M511 189h0M510 203h0M502 244h0M511 261h0M511 269h0M523 227h0M523 224h0M523 225h0M538 179h0M538 165h0M537 187h0M551 233h0M551 238h0M551 201h0M551 176h0M551 181h0M551 235h0M551 214h0M551 214h0M551 190h0M551 220h0M551 210h0M551 221h0M551 235h0M551 176h0M551 184h0M551 243h0M551 196h0M584 244h0M575 222h0M584 216h0M584 252h0M576 236h0M585 190h0M576 197h0M585 257h0M576 201h0M568 207h0M585 214h0M577 255h0M575 213h0M584 247h0M585 199h0M585 198h0M576 228h0M585 193h0M575 262h0M584 245h0M585 228h0M584 200h0M585 224h0M577 280h0M585 271h0M569 268h0M596 245h0M596 252h0M596 268h0M596 300h0M596 250h0M596 281h0M602 173h0M602 180h0M602 197h0M602 175h0M602 245h0M602 235h0M602 234h0M602 229h0M602 197h0M602 179h0M602 171h0M602 198h0M602 211h0M602 186h0M602 191h0M602 307h0M602 290h0M602 265h0M635 178h0M619 233h0M619 188h0M614 188h0M629 226h0M634 229h0M628 194h0M620 192h0M614 242h0M613 192h0M615 238h0M620 236h0M619 232h0M620 209h0M635 179h0M629 203h0M621 218h0M619 195h0M635 249h0M615 218h0M613 193h0M634 232h0M628 234h0M620 246h0M629 184h0M628 175h0M619 193h0M620 239h0M629 190h0M614 198h0M614 209h0M619 209h0M613 212h0M634 187h0M615 247h0M627 183h0M634 238h0M620 211h0M629 247h0M628 218h0M634 227h0M629 209h0M613 196h0M628 177h0M619 187h0M619 206h0M619 184h0M629 196h0M620 213h0M635 239h0M620 187h0M629 191h0M619 224h0M613 222h0M619 220h0M634 283h0M619 298h0M635 296h0M620 309h0M620 305h0M613 286h0M629 299h0M620 164h0M619 171h0M681 227h0M692 226h0M691 225h0M690 240h0M690 200h0M692 257h0M691 199h0M691 247h0M692 196h0M691 241h0M674 217h0M674 232h0M674 231h0M674 245h0M710 208h0M709 253h0M701 207h0M701 179h0M703 206h0M701 258h0M702 252h0M702 258h0M702 172h0M702 173h0M710 177h0M711 221h0M702 184h0M702 236h0M709 202h0M709 254h0M722 220h0M723 240h0M723 193h0M722 229h0M722 200h0M721 207h0M730 184h0M723 193h0M723 227h0M723 209h0M732 200h0M731 236h0M731 185h0M731 228h0M722 194h0M723 228h0M748 183h0M745 146h0M745 218h0M745 146h0M744 163h0M547 469h0M549 526h0M578 289h0M595 287h0M547 285h0"/>
<path id="nFH4" vector-effect="non-scaling-stroke" d="M442 219h0M441 220h0M442 222h0M441 260h0M442 216h0M442 256h0M464 268h0M465 245h0M465 200h0M464 200h0M465 222h0M465 274h0M465 233h0M465 241h0M464 245h0M480 216h0M482 227h0M482 224h0M484 223h0M480 279h0M502 239h0M510 191h0M500 209h0M510 238h0M510 183h0M511 199h0M512 221h0M501 203h0M510 228h0M502 201h0M501 244h0M501 230h0M510 209h0M510 222h0M501 194h0M510 237h0M512 235h0M511 209h0M501 189h0M511 208h0M510 193h0M510 231h0M500 193h0M510 229h0M500 244h0M502 222h0M501 227h0M502 201h0M510 212h0M510 251h0M501 261h0M510 245h0M500 275h0M523 227h0M523 242h0M537 161h0M537 200h0M537 208h0M551 250h0M551 176h0M551 249h0M551 227h0M551 205h0M551 213h0M551 231h0M551 216h0M551 268h0M551 259h0M563 252h0M564 197h0M585 243h0M585 258h0M584 219h0M585 265h0M567 255h0M575 229h0M576 218h0M584 186h0M575 193h0M568 256h0M577 245h0M577 247h0M568 212h0M569 252h0M568 250h0M584 201h0M584 258h0M584 225h0M584 191h0M567 207h0M584 261h0M583 204h0M584 192h0M596 251h0M596 278h0M596 282h0M596 267h0M596 309h0M602 253h0M602 257h0M602 240h0M602 257h0M602 219h0M602 227h0M602 217h0M602 185h0M602 243h0M602 249h0M602 235h0M602 224h0M602 310h0M602 287h0M620 178h0M614 207h0M613 233h0M629 183h0M628 235h0M628 229h0M634 220h0M619 239h0M619 217h0M613 196h0M614 221h0M629 212h0M613 229h0M629 202h0M615 197h0M614 222h0M619 191h0M627 184h0M615 187h0M629 201h0M628 231h0M619 205h0M627 214h0M620 238h0M628 209h0M629 191h0M629 231h0M629 244h0M613 201h0M620 246h0M614 185h0M614 249h0M613 191h0M613 212h0M619 191h0M620 197h0M614 189h0M619 183h0M629 230h0M614 216h0M620 209h0M613 247h0M619 222h0M635 202h0M619 205h0M628 283h0M635 279h0M619 270h0M613 254h0M619 271h0M628 298h0M614 303h0M635 166h0M614 171h0M681 228h0M681 192h0M692 194h0M690 230h0M691 228h0M690 222h0M692 237h0M691 248h0M690 225h0M692 199h0M692 188h0M691 235h0M691 264h0M690 257h0M691 235h0M691 267h0M691 235h0M691 240h0M691 236h0M691 182h0M692 259h0M690 200h0M691 221h0M690 208h0M691 222h0M692 233h0M691 260h0M674 251h0M674 260h0M674 259h0M703 225h0M702 210h0M710 227h0M709 201h0M709 210h0M710 193h0M703 192h0M710 190h0M710 212h0M702 197h0M702 233h0M702 202h0M703 221h0M702 176h0M721 230h0M731 213h0M731 184h0M722 265h0M744 136h0M744 189h0M747 179h0M747 155h0M746 163h0M589 448h0M642 499h0M624 287h0M550 292h0M542 319h0"/>
<path id="nFH5" vector-effect="non-scaling-stroke" d="M442 259h0M442 256h0M442 201h0M441 201h0M441 229h0M442 207h0M464 271h0M464 205h0M465 200h0M465 210h0M465 272h0M464 224h0M464 249h0M465 265h0M464 258h0M480 215h0M482 229h0M485 213h0M483 266h0M501 185h0M502 207h0M501 230h0M510 189h0M502 244h0M502 184h0M501 210h0M511 220h0M501 209h0M511 215h0M501 224h0M510 197h0M502 189h0M501 233h0M511 185h0M510 228h0M501 185h0M510 215h0M511 207h0M500 189h0M511 209h0M511 236h0M510 220h0M510 212h0M502 196h0M510 238h0M502 179h0M511 227h0M510 204h0M500 252h0M501 240h0M502 281h0M523 229h0M523 229h0M523 241h0M523 239h0M523 222h0M536 203h0M536 193h0M538 224h0M551 191h0M551 210h0M551 169h0M551 223h0M551 214h0M551 203h0M551 215h0M551 186h0M551 173h0M551 200h0M551 237h0M551 225h0M551 234h0M551 255h0M551 250h0M551 235h0M551 209h0M563 258h0M576 191h0M585 249h0M568 246h0M577 186h0M575 218h0M584 236h0M584 192h0M585 226h0M583 230h0M576 241h0M569 229h0M575 209h0M584 257h0M569 250h0M584 192h0M584 213h0M577 241h0M568 232h0M584 201h0M585 232h0M569 222h0M577 242h0M567 227h0M585 207h0M568 185h0M583 218h0M577 250h0M585 253h0M584 222h0M585 238h0M568 186h0M575 265h0M583 229h0M585 203h0M585 226h0M584 214h0M585 247h0M577 196h0M569 269h0M577 281h0M585 266h0M575 290h0M596 297h0M596 295h0M602 212h0M602 204h0M602 220h0M602 216h0M602 235h0M602 187h0M602 232h0M602 211h0M602 178h0M602 231h0M602 191h0M602 211h0M602 181h0M602 215h0M602 214h0M602 255h0M602 176h0M602 222h0M602 262h0M602 275h0M602 280h0M602 274h0M629 194h0M619 176h0M620 238h0M619 216h0M614 248h0M619 203h0M615 232h0M619 199h0M628 249h0M634 225h0M628 239h0M635 188h0M620 204h0M629 187h0M620 176h0M618 228h0M619 225h0M628 178h0M635 220h0M629 204h0M614 186h0M619 202h0M628 245h0M628 198h0M628 189h0M628 209h0M634 234h0M619 209h0M629 208h0M628 192h0M629 236h0M628 239h0M620 199h0M619 204h0M615 242h0M619 184h0M629 239h0M620 218h0M629 228h0M635 228h0M635 212h0M635 179h0M629 230h0M618 244h0M614 279h0M634 291h0M628 274h0M635 253h0M620 290h0M629 299h0M613 304h0M614 167h0M681 212h0M681 198h0M681 201h0M681 193h0M690 208h0M691 268h0M691 206h0M691 241h0M691 257h0M690 224h0M691 226h0M691 197h0M692 195h0M691 188h0M691 207h0M690 235h0M690 230h0M691 211h0M692 248h0M691 235h0M690 262h0M690 185h0M690 246h0M692 216h0M701 236h0M701 176h0M701 193h0M710 249h0M702 200h0M702 199h0M701 252h0M710 180h0M702 183h0M709 249h0M709 217h0M702 252h0M709 210h0M709 268h0M702 261h0M711 291h0M710 267h0M701 287h0M732 199h0M723 221h0M722 212h0M732 214h0M746 180h0M747 184h0M745 199h0M748 187h0M660 311h0M635 287h0M536 276h0M573 295h0M623 280h0M577 320h0M626 272h0"/>
<path id="nFH6" vector-effect="non-scaling-stroke" d="M441 249h0M441 197h0M442 200h0M442 237h0M441 259h0M442 244h0M441 235h0M442 208h0M442 236h0M442 212h0M442 248h0M464 210h0M464 204h0M465 234h0M465 229h0M464 233h0M465 210h0M465 263h0M464 205h0M464 271h0M464 226h0M465 237h0M464 244h0M465 271h0M481 225h0M482 223h0M480 225h0M484 220h0M483 222h0M480 280h0M501 232h0M501 229h0M500 184h0M501 215h0M501 198h0M512 220h0M511 184h0M502 232h0M511 181h0M510 221h0M511 186h0M510 212h0M510 244h0M502 236h0M512 210h0M511 225h0M510 244h0M501 206h0M510 189h0M502 196h0M511 212h0M510 227h0M511 214h0M510 220h0M511 232h0M511 192h0M511 199h0M512 254h0M502 243h0M523 221h0M523 222h0M537 174h0M538 216h0M537 196h0M536 189h0M536 228h0M551 198h0M551 202h0M551 226h0M551 244h0M551 186h0M551 224h0M551 217h0M551 214h0M551 249h0M564 288h0M564 292h0M568 213h0M584 236h0M575 214h0M575 211h0M569 262h0M584 202h0M584 264h0M569 256h0M575 222h0M576 206h0M575 185h0M568 225h0M585 188h0M569 221h0M585 250h0M569 294h0M575 288h0M596 300h0M596 286h0M596 245h0M596 280h0M596 242h0M602 199h0M602 206h0M602 244h0M602 207h0M602 210h0M602 218h0M602 193h0M602 182h0M602 247h0M602 210h0M602 211h0M602 238h0M602 204h0M602 189h0M602 247h0M602 174h0M602 246h0M602 232h0M602 200h0M602 219h0M614 194h0M635 250h0M635 219h0M634 192h0M635 193h0M629 177h0M620 184h0M635 196h0M629 220h0M613 188h0M620 222h0M629 200h0M634 239h0M628 214h0M614 212h0M614 241h0M627 187h0M614 206h0M620 179h0M628 189h0M613 180h0M629 218h0M619 197h0M634 203h0M628 244h0M613 201h0M628 187h0M620 230h0M627 192h0M629 206h0M619 210h0M628 205h0M628 217h0M614 224h0M629 235h0M628 206h0M614 216h0M627 245h0M628 244h0M613 221h0M628 190h0M614 189h0M619 198h0M614 265h0M619 299h0M613 271h0M620 308h0M628 306h0M628 295h0M614 275h0M619 251h0M628 280h0M620 304h0M614 289h0M614 174h0M620 164h0M681 215h0M681 217h0M692 234h0M691 225h0M692 188h0M691 270h0M690 237h0M692 189h0M690 191h0M691 183h0M692 229h0M691 193h0M691 242h0M692 237h0M690 262h0M691 249h0M690 192h0M690 218h0M691 267h0M691 186h0M692 262h0M690 258h0M690 197h0M691 261h0M690 213h0M692 246h0M674 186h0M674 217h0M674 226h0M709 218h0M710 242h0M701 218h0M710 206h0M709 237h0M710 229h0M701 207h0M710 255h0M702 301h0M731 207h0M732 235h0M722 218h0M732 247h0M732 214h0M731 205h0M723 238h0M732 204h0M730 233h0M721 216h0M723 257h0M746 176h0M746 214h0M746 205h0M519 467h0M546 351h0M597 359h0M574 319h0M592 301h0"/>
<path id="nFH7" vector-effect="non-scaling-stroke" d="M442 238h0M442 228h0M442 210h0M441 251h0M441 236h0M464 232h0M464 248h0M465 233h0M465 200h0M464 224h0M464 253h0M465 232h0M465 241h0M482 218h0M481 211h0M480 247h0M481 207h0M482 217h0M510 186h0M511 242h0M511 236h0M502 180h0M512 201h0M511 192h0M501 186h0M501 240h0M501 221h0M511 207h0M511 219h0M511 224h0M510 199h0M511 205h0M510 228h0M501 208h0M501 229h0M512 244h0M510 207h0M502 228h0M510 212h0M511 228h0M512 242h0M511 269h0M523 234h0M537 224h0M536 174h0M537 171h0M538 201h0M536 168h0M537 163h0M551 215h0M551 204h0M551 173h0M551 180h0M551 171h0M551 202h0M551 192h0M551 205h0M551 208h0M551 211h0M551 204h0M551 197h0M551 169h0M551 260h0M551 262h0M564 277h0M563 274h0M564 290h0M564 229h0M569 242h0M577 256h0M567 206h0M568 235h0M568 226h0M577 245h0M568 232h0M585 254h0M585 263h0M568 215h0M576 222h0M584 239h0M568 219h0M585 186h0M585 237h0M583 259h0M576 223h0M576 264h0M575 262h0M585 294h0M596 244h0M596 289h0M602 200h0M602 202h0M602 184h0M602 240h0M602 197h0M602 215h0M602 231h0M602 188h0M602 242h0M602 174h0M602 179h0M602 283h0M602 291h0M602 292h0M628 243h0M619 197h0M628 200h0M619 182h0M614 178h0M620 224h0M619 212h0M634 227h0M619 184h0M634 180h0M628 208h0M619 188h0M629 186h0M614 177h0M619 228h0M613 186h0M629 241h0M627 206h0M614 215h0M629 240h0M620 185h0M619 244h0M629 189h0M613 250h0M627 229h0M629 248h0M628 226h0M628 178h0M619 180h0M613 209h0M628 232h0M613 200h0M633 233h0M620 239h0M613 227h0M628 241h0M619 218h0M628 209h0M620 202h0M634 214h0M628 203h0M614 205h0M618 219h0M628 187h0M614 202h0M629 243h0M619 280h0M613 293h0M634 293h0M614 265h0M620 302h0M615 308h0M635 287h0M619 279h0M627 171h0M613 171h0M681 215h0M690 218h0M691 255h0M691 235h0M692 194h0M691 235h0M691 266h0M692 200h0M692 211h0M691 181h0M691 239h0M690 252h0M691 206h0M691 214h0M690 193h0M691 230h0M691 240h0M702 228h0M701 207h0M709 213h0M709 194h0M701 234h0M703 255h0M710 221h0M709 189h0M702 244h0M701 263h0M709 282h0M711 281h0M702 264h0M730 204h0M721 220h0M722 181h0M721 217h0M722 182h0M721 239h0M731 240h0M732 202h0M723 225h0M722 213h0M732 224h0M732 272h0M722 276h0M747 143h0M745 137h0M747 211h0M603 528h0M613 442h0M612 319h0M561 282h0"/>
<path id="nFH8" vector-effect="non-scaling-stroke" d="M441 201h0M442 257h0M442 215h0M442 208h0M465 197h0M464 276h0M465 226h0M465 269h0M464 214h0M465 267h0M465 224h0M464 237h0M465 198h0M464 230h0M464 202h0M464 217h0M464 240h0M465 223h0M465 228h0M464 242h0M465 195h0M464 192h0M464 192h0M465 230h0M510 206h0M502 220h0M512 182h0M512 197h0M501 204h0M501 182h0M511 196h0M510 203h0M502 220h0M510 186h0M512 221h0M501 237h0M511 189h0M502 241h0M512 181h0M511 206h0M511 199h0M511 212h0M512 221h0M511 210h0M512 221h0M510 211h0M511 237h0M500 180h0M501 281h0M512 251h0M523 226h0M537 167h0M537 187h0M551 201h0M551 204h0M551 249h0M551 244h0M551 247h0M551 183h0M551 200h0M551 241h0M551 188h0M551 239h0M551 191h0M551 214h0M551 205h0M551 231h0M551 184h0M551 170h0M551 221h0M551 215h0M551 169h0M551 272h0M564 292h0M563 247h0M568 197h0M576 194h0M585 252h0M575 218h0M568 227h0M575 189h0M583 231h0M584 191h0M584 214h0M577 263h0M585 208h0M585 204h0M576 186h0M584 235h0M568 239h0M585 229h0M577 217h0M577 234h0M585 210h0M569 260h0M576 250h0M569 244h0M585 235h0M584 290h0M602 258h0M602 237h0M602 192h0M602 223h0M602 218h0M602 235h0M602 252h0M602 201h0M602 219h0M602 210h0M602 213h0M602 172h0M602 244h0M602 232h0M602 188h0M602 241h0M602 245h0M602 239h0M602 200h0M602 285h0M602 265h0M602 284h0M602 289h0M629 235h0M619 180h0M620 214h0M636 237h0M620 227h0M614 214h0M635 238h0M619 202h0M629 179h0M620 193h0M620 204h0M634 228h0M635 245h0M613 197h0M629 187h0M614 204h0M629 208h0M614 216h0M615 200h0M618 175h0M620 220h0M634 239h0M619 184h0M613 239h0M620 177h0M613 190h0M629 214h0M620 206h0M634 211h0M628 209h0M628 208h0M634 242h0M628 201h0M635 224h0M628 236h0M629 202h0M628 246h0M628 177h0M619 184h0M620 211h0M614 240h0M628 221h0M619 230h0M619 238h0M620 195h0M614 257h0M619 251h0M627 292h0M615 254h0M628 163h0M690 182h0M691 254h0M690 207h0M690 187h0M691 181h0M691 214h0M691 262h0M691 229h0M690 212h0M692 225h0M691 248h0M691 208h0M692 227h0M691 209h0M692 219h0M692 248h0M691 256h0M691 236h0M692 203h0M691 184h0M692 260h0M692 268h0M690 183h0M674 235h0M701 173h0M710 208h0M710 242h0M702 252h0M710 196h0M709 200h0M701 172h0M709 179h0M710 215h0M702 236h0M709 258h0M710 221h0M709 236h0M709 174h0M710 224h0M731 189h0M723 233h0M730 184h0M731 199h0M731 249h0M721 242h0M721 251h0M744 165h0M747 172h0M744 186h0M746 167h0M746 192h0M747 211h0M745 160h0M747 159h0M746 168h0M745 185h0M746 135h0M746 217h0M619 441h0M570 275h0M530 284h0M544 294h0"/>
<path id="nFH9" vector-effect="non-scaling-stroke" d="M442 199h0M442 224h0M441 205h0M442 204h0M442 214h0M441 248h0M441 247h0M442 248h0M465 262h0M464 265h0M464 272h0M465 201h0M465 194h0M465 246h0M464 216h0M464 237h0M465 191h0M464 215h0M465 203h0M464 223h0M464 221h0M464 230h0M485 221h0M480 221h0M485 221h0M480 211h0M481 223h0M482 225h0M484 280h0M481 244h0M501 242h0M502 212h0M510 182h0M511 212h0M511 179h0M511 184h0M502 236h0M510 191h0M511 194h0M502 206h0M511 206h0M511 197h0M500 195h0M510 230h0M510 239h0M511 220h0M501 209h0M510 255h0M511 252h0M523 246h0M523 226h0M538 224h0M537 224h0M537 198h0M536 222h0M551 170h0M551 226h0M551 222h0M551 169h0M551 218h0M551 176h0M551 203h0M551 184h0M551 252h0M551 204h0M551 172h0M551 174h0M551 212h0M551 208h0M551 170h0M551 212h0M551 209h0M551 241h0M551 200h0M551 278h0M563 228h0M563 228h0M563 297h0M584 199h0M585 245h0M569 219h0M575 200h0M584 209h0M584 251h0M576 263h0M585 213h0M585 212h0M583 247h0M569 193h0M576 234h0M576 206h0M569 200h0M575 228h0M585 225h0M576 211h0M584 234h0M569 224h0M585 242h0M584 257h0M583 250h0M577 224h0M569 192h0M569 231h0M584 233h0M575 212h0M584 249h0M577 235h0M584 226h0M596 290h0M596 260h0M602 217h0M602 231h0M602 189h0M602 245h0M602 255h0M602 213h0M602 251h0M602 249h0M602 209h0M602 219h0M602 171h0M602 214h0M602 245h0M602 302h0M602 310h0M620 184h0M628 236h0M613 226h0M620 207h0M615 198h0M614 227h0M628 189h0M615 241h0M620 189h0M619 238h0M614 243h0M628 238h0M619 198h0M628 184h0M634 184h0M614 198h0M615 237h0M634 245h0M614 191h0M629 242h0M629 234h0M634 200h0M628 222h0M620 250h0M614 217h0M619 215h0M634 215h0M620 248h0M634 240h0M614 187h0M620 234h0M619 197h0M628 180h0M620 208h0M618 221h0M629 198h0M620 302h0M633 288h0M619 251h0M629 299h0M627 262h0M620 305h0M620 257h0M628 275h0M620 305h0M613 168h0M681 219h0M690 228h0M691 185h0M691 248h0M691 244h0M691 250h0M690 185h0M691 248h0M692 205h0M692 269h0M691 251h0M691 196h0M692 222h0M691 210h0M691 224h0M691 263h0M674 223h0M674 186h0M710 256h0M710 177h0M711 199h0M709 249h0M702 221h0M701 206h0M710 255h0M701 182h0M702 254h0M703 172h0M702 176h0M710 235h0M709 236h0M701 247h0M702 181h0M702 185h0M722 208h0M730 194h0M721 239h0M722 223h0M732 228h0M721 244h0M722 243h0M721 245h0M722 231h0M732 188h0M731 216h0M721 283h0M747 143h0M745 152h0M744 160h0M746 133h0M746 215h0M748 213h0M744 210h0M746 175h0M553 489h0M573 391h0M590 338h0M650 369h0M542 292h0"/>
<path id="nFH10" vector-effect="non-scaling-stroke" d="M441 206h0M441 235h0M442 257h0M464 219h0M464 235h0M465 243h0M465 211h0M464 260h0M465 277h0M465 244h0M464 205h0M464 203h0M465 205h0M464 272h0M465 213h0M465 233h0M481 211h0M480 249h0M484 210h0M512 235h0M502 238h0M511 223h0M501 188h0M511 190h0M501 207h0M512 215h0M510 222h0M511 234h0M501 199h0M511 218h0M511 242h0M511 200h0M511 209h0M512 227h0M512 182h0M511 189h0M510 213h0M511 186h0M511 231h0M501 193h0M511 185h0M511 187h0M502 200h0M501 219h0M502 225h0M501 182h0M510 223h0M510 238h0M510 194h0M501 244h0M500 209h0M501 244h0M502 249h0M502 248h0M511 241h0M500 286h0M510 287h0M523 243h0M523 244h0M523 239h0M537 163h0M536 177h0M538 190h0M536 186h0M537 205h0M551 200h0M551 234h0M551 239h0M551 232h0M551 229h0M551 244h0M551 247h0M551 214h0M551 183h0M551 231h0M551 176h0M551 185h0M551 210h0M551 230h0M551 206h0M563 209h0M563 211h0M564 239h0M564 192h0M584 256h0M584 209h0M568 203h0M577 231h0M585 221h0M568 219h0M585 261h0M577 257h0M568 220h0M576 265h0M568 238h0M585 239h0M576 198h0M568 230h0M576 249h0M575 244h0M583 231h0M568 251h0M568 192h0M568 191h0M576 226h0M576 217h0M575 209h0M577 276h0M577 294h0M568 293h0M585 261h0M596 273h0M596 245h0M596 299h0M602 189h0M602 211h0M602 219h0M602 180h0M602 247h0M602 246h0M602 191h0M602 253h0M602 174h0M602 240h0M602 231h0M602 190h0M602 200h0M602 231h0M602 241h0M602 198h0M602 174h0M602 190h0M602 259h0M602 249h0M602 305h0M602 284h0M602 264h0M602 275h0M628 219h0M629 175h0M629 190h0M613 217h0M620 243h0M615 199h0M619 193h0M634 244h0M628 181h0M620 243h0M620 192h0M636 250h0M615 224h0M620 240h0M619 184h0M636 185h0M627 213h0M628 235h0M629 176h0M628 221h0M634 217h0M629 235h0M629 236h0M629 188h0M636 238h0M614 220h0M620 249h0M628 227h0M619 224h0M635 193h0M614 184h0M629 236h0M634 198h0M619 194h0M628 246h0M629 233h0M613 218h0M620 299h0M613 290h0M615 290h0M614 272h0M634 281h0M619 294h0M613 270h0M634 288h0M615 298h0M620 269h0M620 276h0M619 267h0M619 257h0M614 285h0M635 298h0M614 173h0M628 173h0M619 172h0M690 198h0M691 267h0M692 181h0M691 251h0M692 190h0M692 183h0M691 221h0M692 222h0M690 205h0M690 223h0M692 241h0M692 194h0M691 246h0M690 199h0M690 246h0M691 269h0M691 248h0M690 225h0M692 255h0M691 199h0M691 208h0M691 221h0M690 268h0M692 183h0M690 259h0M691 247h0M691 198h0M674 245h0M674 208h0M674 200h0M702 200h0M702 182h0M702 210h0M701 181h0M710 215h0M709 198h0M710 180h0M710 205h0M710 201h0M701 184h0M701 182h0M710 223h0M703 236h0M723 200h0M722 235h0M723 218h0M730 187h0M721 240h0M723 220h0M731 224h0M731 224h0M722 229h0M722 237h0M723 263h0M744 212h0M747 130h0M747 169h0M748 141h0M744 141h0M745 207h0M558 415h0M647 525h0M582 526h0M582 519h0M539 283h0M618 309h0"/>
<path id="nFH11" vector-effect="non-scaling-stroke" d="M441 253h0M442 254h0M442 221h0M441 242h0M442 229h0M464 242h0M465 276h0M465 195h0M465 257h0M464 199h0M465 263h0M464 208h0M464 276h0M482 229h0M483 231h0M482 257h0M512 244h0M501 216h0M510 233h0M511 243h0M510 183h0M511 232h0M501 194h0M510 206h0M501 199h0M501 210h0M501 194h0M502 183h0M511 212h0M510 187h0M501 221h0M511 222h0M502 197h0M501 182h0M510 182h0M510 188h0M501 179h0M511 206h0M511 187h0M512 215h0M501 213h0M511 193h0M510 202h0M510 207h0M501 199h0M502 232h0M501 219h0M510 185h0M510 212h0M511 192h0M512 207h0M512 206h0M510 283h0M510 273h0M500 283h0M523 239h0M523 249h0M523 240h0M537 214h0M538 198h0M537 170h0M536 177h0M538 229h0M551 214h0M551 207h0M551 200h0M551 181h0M551 227h0M551 236h0M551 173h0M551 246h0M551 200h0M551 181h0M551 214h0M551 230h0M551 215h0M551 247h0M551 174h0M551 250h0M551 199h0M564 218h0M563 296h0M568 204h0M584 240h0M576 207h0M577 248h0M567 252h0M568 243h0M569 217h0M585 194h0M584 211h0M585 218h0M569 244h0M584 222h0M584 201h0M575 246h0M585 193h0M585 219h0M576 230h0M569 202h0M577 234h0M585 240h0M585 250h0M585 263h0M585 268h0M596 299h0M602 209h0M602 234h0M602 222h0M602 257h0M602 204h0M602 236h0M602 177h0M602 191h0M602 234h0M602 181h0M602 172h0M602 183h0M602 192h0M602 256h0M602 237h0M602 237h0M602 170h0M602 209h0M602 239h0M602 217h0M602 264h0M627 198h0M634 233h0M628 209h0M619 247h0M628 250h0M628 180h0M620 179h0M628 246h0M628 211h0M634 250h0M619 186h0M619 235h0M620 189h0M615 217h0M634 195h0M634 237h0M634 217h0M628 198h0M628 185h0M620 183h0M619 184h0M613 181h0M620 180h0M620 203h0M629 239h0M629 235h0M635 189h0M628 213h0M613 208h0M619 179h0M628 240h0M614 195h0M620 186h0M627 217h0M620 240h0M620 186h0M629 233h0M620 205h0M613 232h0M618 250h0M619 247h0M633 180h0M633 259h0M628 276h0M614 269h0M621 258h0M620 273h0M628 270h0M619 167h0M692 195h0M691 255h0M691 185h0M690 237h0M692 259h0M690 246h0M691 201h0M691 267h0M690 265h0M691 256h0M691 199h0M692 260h0M692 263h0M690 258h0M691 269h0M690 215h0M691 216h0M690 265h0M691 234h0M692 220h0M674 206h0M674 193h0M711 259h0M702 235h0M701 216h0M702 170h0M710 171h0M702 185h0M710 250h0M710 258h0M709 212h0M710 174h0M701 223h0M701 181h0M710 222h0M701 219h0M710 253h0M701 217h0M701 191h0M709 172h0M701 272h0M702 300h0M722 187h0M722 238h0M723 239h0M723 216h0M732 224h0M731 228h0M732 225h0M722 237h0M732 180h0M723 200h0M722 184h0M723 237h0M732 225h0M721 196h0M722 263h0M745 187h0M747 168h0M748 202h0M747 200h0M745 181h0M542 522h0M514 359h0M583 312h0M647 456h0M518 329h0"/>
<path id="nFH12" vector-effect="non-scaling-stroke" d="M442 207h0M442 212h0M442 255h0M441 252h0M441 236h0M465 215h0M464 217h0M464 208h0M464 245h0M465 275h0M464 258h0M464 229h0M481 214h0M482 222h0M485 279h0M501 224h0M511 210h0M510 213h0M501 234h0M510 210h0M512 191h0M510 244h0M512 235h0M510 219h0M512 220h0M511 231h0M512 224h0M502 237h0M511 180h0M510 204h0M510 213h0M500 208h0M510 204h0M502 187h0M500 224h0M502 202h0M502 228h0M510 202h0M510 237h0M510 250h0M511 261h0M523 224h0M523 229h0M538 198h0M536 196h0M551 234h0M551 200h0M551 226h0M551 188h0M551 203h0M551 236h0M551 191h0M551 187h0M551 191h0M551 285h0M551 287h0M564 288h0M563 282h0M564 240h0M576 198h0M585 256h0M576 256h0M567 198h0M577 247h0M568 246h0M585 195h0M585 259h0M569 252h0M585 212h0M576 236h0M584 230h0M583 206h0M567 211h0M585 241h0M577 251h0M583 235h0M585 196h0M585 221h0M584 248h0M575 243h0M576 216h0M575 224h0M576 257h0M577 221h0M584 272h0M584 268h0M585 287h0M576 264h0M596 304h0M596 268h0M596 273h0M596 301h0M602 207h0M602 228h0M602 191h0M602 252h0M602 248h0M602 204h0M602 192h0M602 252h0M602 253h0M602 184h0M602 205h0M602 175h0M602 213h0M602 298h0M615 206h0M613 230h0M619 190h0M620 195h0M628 195h0M628 189h0M615 213h0M635 194h0M619 180h0M620 187h0M634 199h0M628 179h0M629 236h0M620 244h0M628 217h0M635 191h0M628 235h0M614 216h0M620 200h0M619 197h0M634 244h0M627 207h0M620 217h0M629 209h0M619 184h0M635 236h0M619 230h0M628 235h0M614 244h0M613 214h0M614 193h0M614 223h0M633 250h0M620 216h0M628 205h0M614 180h0M627 179h0M613 234h0M614 233h0M635 190h0M628 187h0M629 208h0M629 240h0M615 192h0M614 202h0M628 239h0M627 240h0M619 234h0M628 291h0M629 287h0M615 296h0M620 279h0M628 289h0M621 302h0M620 262h0M635 275h0M619 257h0M629 301h0M629 258h0M629 309h0M628 274h0M615 293h0M619 256h0M620 252h0M629 302h0M628 171h0M690 202h0M692 208h0M691 214h0M690 234h0M691 260h0M691 220h0M690 225h0M691 224h0M690 196h0M691 241h0M691 260h0M691 182h0M691 264h0M691 189h0M691 215h0M691 244h0M692 195h0M691 201h0M691 243h0M691 204h0M691 219h0M692 185h0M690 267h0M674 230h0M674 189h0M674 210h0M702 219h0M702 182h0M701 207h0M709 181h0M702 176h0M702 247h0M709 203h0M702 237h0M710 224h0M701 258h0M709 196h0M709 225h0M702 238h0M710 221h0M702 240h0M702 291h0M701 275h0M703 292h0M701 294h0M732 241h0M732 231h0M722 192h0M722 228h0M731 225h0M723 235h0M721 204h0M731 191h0M731 199h0M722 229h0M723 270h0M722 286h0M744 214h0M746 182h0M744 216h0M744 194h0M746 164h0M748 167h0M746 134h0M637 510h0M585 377h0M544 312h0M546 524h0M537 509h0M531 312h0M665 290h0M652 282h0M622 274h0M541 261h0M653 315h0M601 268h0M518 292h0M561 272h0M587 318h0"/>
<path id="nFH13" vector-effect="non-scaling-stroke" d="M442 230h0M442 226h0M442 226h0M442 237h0M441 204h0M442 241h0M441 257h0M442 231h0M465 210h0M465 240h0M465 254h0M465 201h0M464 237h0M464 272h0M464 205h0M464 198h0M482 211h0M480 219h0M480 269h0M484 267h0M485 282h0M512 207h0M510 203h0M501 242h0M501 213h0M502 187h0M502 216h0M501 189h0M511 187h0M512 220h0M510 221h0M511 214h0M511 198h0M511 208h0M510 203h0M510 221h0M511 191h0M510 201h0M511 203h0M502 199h0M501 202h0M510 236h0M502 178h0M511 181h0M511 215h0M511 263h0M523 241h0M523 233h0M523 248h0M523 229h0M523 228h0M523 228h0M536 213h0M538 185h0M537 184h0M537 194h0M538 218h0M551 252h0M551 245h0M551 186h0M551 238h0M551 195h0M551 176h0M551 192h0M551 241h0M551 252h0M551 243h0M551 214h0M551 239h0M551 187h0M551 237h0M551 232h0M551 290h0M563 272h0M563 245h0M563 199h0M564 216h0M563 200h0M563 271h0M569 231h0M568 222h0M575 252h0M576 193h0M569 207h0M576 232h0M577 218h0M567 187h0M568 192h0M585 198h0M584 265h0M575 244h0M567 210h0M567 216h0M585 255h0M577 257h0M584 236h0M575 252h0M569 215h0M569 187h0M585 197h0M575 263h0M568 283h0M596 285h0M596 298h0M596 251h0M602 257h0M602 238h0M602 185h0M602 212h0M602 246h0M602 199h0M602 189h0M602 199h0M602 208h0M602 237h0M602 193h0M602 179h0M602 220h0M602 216h0M602 272h0M602 296h0M602 286h0M602 294h0M602 272h0M602 262h0M602 283h0M620 181h0M615 241h0M620 198h0M620 189h0M634 215h0M614 241h0M628 184h0M620 210h0M634 225h0M621 215h0M613 213h0M619 175h0M627 240h0M614 221h0M628 186h0M614 224h0M629 181h0M628 227h0M620 244h0M629 218h0M615 223h0M614 203h0M619 239h0M619 218h0M614 203h0M619 195h0M629 194h0M620 206h0M613 246h0M615 209h0M615 215h0M613 209h0M619 202h0M627 209h0M635 203h0M615 228h0M615 220h0M629 216h0M620 245h0M614 210h0M615 231h0M634 210h0M629 247h0M634 221h0M629 271h0M619 309h0M629 292h0M629 287h0M619 275h0M629 291h0M635 280h0M613 299h0M620 276h0M635 305h0M620 252h0M614 293h0M628 162h0M681 227h0M692 269h0M691 240h0M691 234h0M691 221h0M691 237h0M692 217h0M690 197h0M691 183h0M691 243h0M690 257h0M691 218h0M690 230h0M691 211h0M691 244h0M692 258h0M691 219h0M692 259h0M691 198h0M674 240h0M674 203h0M674 201h0M674 215h0M674 224h0M709 232h0M701 210h0M710 242h0M701 179h0M701 227h0M702 190h0M703 185h0M701 220h0M710 226h0M702 275h0M721 227h0M721 184h0M722 232h0M731 226h0M731 239h0M731 203h0M722 192h0M723 242h0M732 186h0M721 206h0M747 210h0M746 135h0M745 177h0M747 207h0M745 201h0M747 156h0M611 365h0M601 321h0M569 307h0M637 320h0M509 270h0"/>
<path id="nTA0" vector-effect="non-scaling-stroke" d="M351 443h0M364 440h0M425 399h0M432 391h0M431 429h0M474 474h0M489 451h0M489 400h0M503 472h0M502 317h0M502 422h0M540 435h0M540 447h0M540 397h0M572 343h0M572 489h0M570 439h0M588 476h0M588 400h0M589 341h0M600 324h0M600 431h0M613 386h0M613 393h0M613 345h0M631 453h0M632 331h0M632 442h0M645 466h0M645 392h0M646 374h0M645 322h0M657 462h0M655 431h0M656 465h0M657 330h0M657 410h0M655 417h0M656 431h0M656 326h0M656 532h0M656 336h0M666 378h0M665 405h0M667 375h0M666 438h0M666 374h0M667 436h0M667 399h0M665 435h0M676 338h0M674 404h0M674 407h0M675 421h0M674 474h0M675 330h0M675 457h0M676 391h0M675 422h0M675 430h0M674 319h0M676 478h0M676 393h0M675 485h0M675 405h0M675 497h0M676 323h0M674 424h0M683 331h0M684 395h0M684 454h0M684 456h0M685 420h0M683 353h0M685 409h0M685 338h0M693 416h0M692 377h0M693 467h0M693 387h0M692 432h0M693 403h0M692 316h0M694 394h0M694 537h0M694 529h0M692 302h0M693 399h0M693 430h0M703 330h0M702 384h0M703 404h0M703 439h0M703 408h0M702 468h0M703 333h0M703 405h0M712 367h0M712 460h0M712 333h0M712 457h0M711 421h0M713 409h0M713 333h0M713 363h0M712 364h0M711 305h0M711 478h0M726 433h0M724 360h0M725 611h0M737 498h0M737 470h0M735 370h0M735 372h0M735 478h0M735 386h0M737 417h0M750 360h0M751 379h0M750 410h0M750 353h0M766 350h0M767 413h0M767 334h0M767 401h0M768 506h0M768 432h0M766 423h0M507 396h0M539 427h0M737 410h0M713 335h0M452 454h0M622 320h0M499 443h0M440 514h0M681 300h0M665 433h0M716 393h0M670 408h0M661 445h0M689 417h0M711 437h0M674 455h0M668 432h0M724 436h0M709 406h0M711 385h0M701 387h0M711 481h0M657 308h0M708 433h0M724 381h0"/>
<path id="nTA1" vector-effect="non-scaling-stroke" d="M350 416h0M362 480h0M364 422h0M424 386h0M431 441h0M430 452h0M432 473h0M431 389h0M432 412h0M431 486h0M432 440h0M432 462h0M431 394h0M431 555h0M453 392h0M475 416h0M473 366h0M489 377h0M487 466h0M504 416h0M503 478h0M504 425h0M542 489h0M556 384h0M556 413h0M572 440h0M572 336h0M571 448h0M570 403h0M570 354h0M589 429h0M590 348h0M613 430h0M612 348h0M633 370h0M644 420h0M646 472h0M646 409h0M645 371h0M646 415h0M645 477h0M645 476h0M656 360h0M657 312h0M657 326h0M655 343h0M655 443h0M655 390h0M655 404h0M657 352h0M657 444h0M656 445h0M656 453h0M667 452h0M666 321h0M665 450h0M666 329h0M667 451h0M667 379h0M675 461h0M676 481h0M676 442h0M676 419h0M676 436h0M676 443h0M674 424h0M676 350h0M676 352h0M674 414h0M674 322h0M674 418h0M674 440h0M675 543h0M674 457h0M676 422h0M676 442h0M674 478h0M674 400h0M683 465h0M684 385h0M685 343h0M685 416h0M693 453h0M692 398h0M692 367h0M693 398h0M692 348h0M692 466h0M694 412h0M694 447h0M692 389h0M692 288h0M692 524h0M692 297h0M692 500h0M694 383h0M702 386h0M704 431h0M702 377h0M713 321h0M713 331h0M711 431h0M711 467h0M711 432h0M713 447h0M713 405h0M711 466h0M711 362h0M711 432h0M711 377h0M711 479h0M713 470h0M711 370h0M713 331h0M713 398h0M712 416h0M713 404h0M711 417h0M726 478h0M725 469h0M724 428h0M724 456h0M725 437h0M724 477h0M737 454h0M736 432h0M736 362h0M735 489h0M737 409h0M737 467h0M735 397h0M750 470h0M749 428h0M751 462h0M749 461h0M749 394h0M751 414h0M750 337h0M768 406h0M768 442h0M768 500h0M766 377h0M766 348h0M768 334h0M767 467h0M767 301h0M766 390h0M768 458h0M768 501h0M590 496h0M469 449h0M706 309h0M763 338h0M454 391h0M565 347h0M515 470h0M515 373h0M729 342h0M581 493h0M694 365h0M646 309h0M698 412h0M651 374h0M711 340h0M698 407h0M686 389h0M701 364h0M645 441h0M662 352h0M673 409h0M709 551h0M697 523h0"/>
<path id="nTA2" vector-effect="non-scaling-stroke" d="M362 408h0M430 504h0M430 415h0M432 514h0M432 399h0M454 388h0M475 495h0M488 428h0M487 497h0M519 493h0M521 347h0M541 381h0M554 390h0M571 480h0M588 456h0M600 498h0M614 489h0M612 390h0M632 364h0M632 393h0M631 367h0M632 544h0M632 359h0M633 314h0M633 327h0M646 389h0M644 341h0M646 365h0M657 369h0M656 315h0M655 418h0M657 386h0M656 458h0M657 383h0M657 374h0M656 520h0M656 366h0M656 288h0M667 475h0M665 381h0M667 372h0M666 389h0M666 254h0M665 416h0M676 338h0M675 343h0M674 424h0M674 335h0M674 341h0M674 345h0M676 414h0M674 447h0M675 360h0M675 442h0M674 412h0M676 357h0M674 353h0M675 440h0M674 410h0M675 286h0M684 419h0M685 419h0M683 316h0M683 431h0M684 349h0M683 427h0M683 445h0M685 373h0M684 389h0M684 395h0M684 332h0M683 300h0M694 479h0M694 334h0M694 372h0M694 343h0M693 431h0M694 320h0M694 342h0M694 379h0M694 421h0M693 341h0M692 336h0M694 443h0M694 464h0M693 396h0M692 400h0M694 298h0M692 335h0M693 454h0M693 336h0M694 484h0M693 280h0M704 429h0M703 353h0M702 437h0M703 394h0M703 338h0M704 357h0M704 475h0M702 394h0M703 451h0M703 306h0M704 439h0M702 415h0M712 389h0M711 472h0M712 389h0M712 377h0M712 454h0M713 348h0M711 388h0M712 444h0M711 332h0M713 414h0M712 400h0M712 380h0M711 391h0M713 432h0M711 436h0M711 339h0M725 434h0M736 496h0M735 405h0M737 372h0M737 409h0M736 381h0M736 407h0M736 406h0M736 425h0M735 407h0M735 454h0M736 455h0M751 495h0M749 417h0M751 476h0M749 377h0M767 380h0M766 343h0M768 444h0M739 309h0M735 414h0M483 390h0M642 427h0M502 348h0M660 464h0M536 485h0M456 365h0M687 378h0M532 498h0M625 324h0M678 384h0M652 437h0M656 428h0M674 443h0M729 295h0M679 408h0M708 399h0M651 375h0M680 387h0M641 436h0M724 387h0M645 456h0"/>
<path id="nTA3" vector-effect="non-scaling-stroke" d="M362 468h0M389 408h0M424 390h0M423 389h0M430 397h0M431 491h0M475 413h0M473 439h0M473 426h0M489 359h0M503 456h0M542 461h0M542 437h0M540 463h0M540 418h0M540 341h0M554 358h0M571 481h0M571 458h0M572 460h0M572 421h0M572 327h0M571 484h0M588 328h0M599 344h0M612 456h0M614 442h0M614 379h0M613 471h0M612 379h0M612 472h0M613 353h0M631 390h0M633 338h0M632 324h0M645 470h0M646 411h0M645 364h0M646 410h0M656 423h0M657 376h0M656 400h0M657 336h0M656 477h0M657 386h0M655 366h0M657 483h0M657 375h0M657 441h0M657 458h0M666 446h0M666 440h0M666 383h0M667 404h0M667 403h0M665 407h0M667 327h0M667 408h0M665 442h0M667 393h0M665 544h0M666 287h0M674 347h0M674 479h0M675 462h0M675 428h0M676 336h0M676 349h0M675 437h0M676 425h0M675 421h0M676 325h0M676 380h0M675 328h0M674 411h0M676 468h0M676 362h0M675 462h0M683 412h0M684 334h0M684 333h0M683 352h0M683 367h0M683 397h0M685 400h0M683 365h0M684 415h0M685 415h0M684 315h0M694 405h0M694 351h0M694 330h0M693 405h0M693 391h0M694 481h0M693 401h0M692 379h0M693 454h0M693 367h0M692 409h0M694 551h0M694 517h0M694 386h0M704 461h0M704 463h0M704 421h0M704 450h0M704 341h0M702 542h0M713 331h0M712 399h0M713 414h0M712 347h0M712 360h0M713 450h0M711 537h0M711 407h0M711 364h0M712 394h0M724 340h0M726 472h0M724 396h0M725 344h0M724 430h0M726 496h0M725 500h0M726 495h0M725 316h0M737 466h0M737 405h0M736 484h0M751 424h0M750 372h0M751 432h0M751 489h0M751 358h0M751 442h0M750 404h0M767 448h0M767 386h0M767 363h0M767 359h0M766 335h0M766 507h0M766 359h0M766 509h0M768 396h0M767 479h0M595 408h0M702 446h0M628 485h0M651 405h0M695 386h0M536 509h0M554 509h0M489 338h0M736 442h0M693 393h0M430 393h0M646 445h0M708 326h0M654 358h0M674 401h0M653 380h0M689 403h0M651 421h0M646 419h0M663 410h0M697 447h0M651 439h0M728 441h0M722 367h0M723 403h0M647 379h0M672 389h0M644 399h0"/>
<path id="nTA4" vector-effect="non-scaling-stroke" d="M425 395h0M430 512h0M430 482h0M432 418h0M431 433h0M432 331h0M454 411h0M452 447h0M454 421h0M487 409h0M488 361h0M489 422h0M504 466h0M502 365h0M519 374h0M541 378h0M541 378h0M571 436h0M572 437h0M590 332h0M614 388h0M614 325h0M612 348h0M633 422h0M631 323h0M633 472h0M645 315h0M644 391h0M645 369h0M645 359h0M645 484h0M645 467h0M655 468h0M656 315h0M657 436h0M655 303h0M655 384h0M656 435h0M655 306h0M656 456h0M657 301h0M665 385h0M665 387h0M665 379h0M667 389h0M666 456h0M666 336h0M667 420h0M665 438h0M675 391h0M676 455h0M674 452h0M674 403h0M675 455h0M676 413h0M674 359h0M674 395h0M674 350h0M675 365h0M675 485h0M675 458h0M676 489h0M676 471h0M676 367h0M676 562h0M683 371h0M683 380h0M685 422h0M683 497h0M684 336h0M693 361h0M694 399h0M694 351h0M692 436h0M693 356h0M693 379h0M692 327h0M694 427h0M694 416h0M694 541h0M694 313h0M692 458h0M692 399h0M692 381h0M703 417h0M702 415h0M711 323h0M711 354h0M711 404h0M712 470h0M712 424h0M711 331h0M711 349h0M713 357h0M711 416h0M713 461h0M712 348h0M713 336h0M712 328h0M712 398h0M711 372h0M712 354h0M713 369h0M713 375h0M713 472h0M726 346h0M724 369h0M725 356h0M726 483h0M724 387h0M736 422h0M737 375h0M737 492h0M737 350h0M751 455h0M750 534h0M749 450h0M767 346h0M767 404h0M768 518h0M766 354h0M768 279h0M766 353h0M766 416h0M629 449h0M731 381h0M684 456h0M667 383h0M445 358h0M763 355h0M701 454h0M705 472h0M441 350h0M707 335h0M751 399h0M626 453h0M456 347h0M641 381h0M659 381h0M695 408h0M709 435h0M730 450h0M654 435h0M704 399h0M688 360h0M663 435h0M720 459h0M708 374h0M688 355h0M539 548h0M555 558h0"/>
<path id="nTA5" vector-effect="non-scaling-stroke" d="M349 441h0M349 399h0M350 383h0M430 510h0M432 428h0M474 399h0M473 480h0M487 420h0M521 415h0M521 469h0M540 424h0M541 417h0M570 405h0M571 349h0M572 398h0M589 479h0M600 482h0M600 333h0M613 414h0M614 366h0M612 377h0M631 358h0M631 340h0M644 323h0M646 349h0M646 403h0M655 321h0M657 434h0M655 425h0M655 346h0M657 323h0M657 308h0M656 304h0M657 471h0M656 432h0M656 396h0M657 355h0M657 381h0M657 318h0M667 333h0M667 357h0M667 438h0M667 323h0M666 477h0M665 391h0M667 450h0M674 323h0M676 452h0M675 387h0M675 422h0M674 474h0M674 396h0M676 410h0M674 469h0M676 426h0M675 447h0M674 481h0M675 347h0M676 403h0M674 323h0M674 346h0M676 390h0M674 408h0M674 338h0M676 380h0M676 552h0M675 469h0M676 386h0M674 332h0M676 354h0M674 383h0M675 345h0M683 349h0M683 424h0M685 379h0M683 442h0M684 484h0M694 343h0M694 387h0M693 365h0M693 466h0M692 316h0M693 401h0M694 410h0M692 343h0M692 348h0M694 393h0M693 317h0M692 466h0M694 341h0M692 326h0M693 364h0M692 488h0M694 405h0M692 302h0M692 483h0M693 437h0M703 362h0M704 464h0M704 382h0M704 319h0M704 341h0M703 447h0M704 338h0M702 286h0M713 424h0M713 390h0M711 402h0M712 337h0M711 376h0M711 437h0M711 478h0M712 462h0M711 360h0M713 442h0M712 445h0M712 456h0M711 381h0M713 376h0M712 359h0M711 391h0M724 438h0M724 406h0M726 452h0M735 352h0M736 485h0M737 440h0M736 348h0M736 421h0M735 437h0M735 413h0M737 482h0M751 373h0M750 460h0M750 417h0M751 366h0M751 416h0M768 444h0M768 408h0M768 509h0M766 466h0M726 500h0M497 399h0M508 492h0M494 345h0M614 415h0M597 336h0M658 363h0M444 374h0M518 509h0M625 439h0M528 379h0M705 381h0M568 469h0M505 336h0M700 356h0M648 423h0M680 395h0M714 361h0M665 413h0M693 383h0M677 441h0M720 369h0M665 381h0M652 462h0M662 385h0M649 390h0M681 421h0M674 396h0M723 402h0M692 372h0M667 461h0M645 381h0M697 577h0M602 527h0"/>
<path id="nTA6" vector-effect="non-scaling-stroke" d="M349 397h0M390 397h0M432 417h0M431 503h0M430 524h0M454 451h0M452 425h0M473 379h0M503 453h0M541 324h0M540 406h0M540 476h0M555 360h0M572 483h0M570 469h0M613 429h0M633 403h0M632 315h0M633 463h0M646 428h0M646 333h0M646 454h0M645 420h0M646 486h0M645 319h0M646 365h0M656 458h0M656 402h0M655 423h0M657 367h0M656 435h0M657 387h0M657 458h0M665 382h0M665 344h0M667 452h0M676 366h0M674 404h0M676 403h0M675 333h0M674 313h0M674 482h0M675 445h0M675 326h0M674 388h0M675 465h0M676 403h0M676 464h0M676 434h0M675 298h0M675 390h0M683 458h0M685 382h0M683 392h0M683 329h0M683 394h0M683 326h0M694 335h0M694 333h0M692 419h0M692 472h0M692 348h0M694 472h0M692 442h0M693 453h0M693 353h0M692 367h0M694 420h0M694 416h0M692 331h0M692 486h0M692 458h0M692 408h0M694 470h0M693 454h0M694 345h0M692 411h0M704 435h0M702 394h0M704 328h0M702 480h0M702 302h0M702 370h0M702 274h0M704 447h0M704 302h0M713 361h0M711 421h0M711 324h0M711 443h0M713 344h0M711 367h0M713 358h0M711 458h0M712 494h0M712 415h0M711 396h0M711 396h0M711 281h0M712 424h0M726 353h0M726 510h0M735 477h0M735 369h0M736 494h0M735 452h0M735 396h0M735 465h0M735 463h0M737 334h0M751 451h0M751 399h0M750 323h0M751 440h0M750 431h0M768 406h0M768 361h0M767 394h0M766 506h0M766 345h0M767 431h0M768 511h0M767 376h0M727 301h0M705 398h0M546 517h0M458 414h0M719 463h0M557 461h0M756 416h0M601 336h0M507 387h0M655 437h0M671 445h0M688 404h0M707 363h0M672 394h0M677 355h0M656 371h0M676 430h0M673 412h0M724 336h0M724 405h0M672 368h0M649 366h0M693 390h0M669 415h0M646 405h0"/>
<path id="nTA7" vector-effect="non-scaling-stroke" d="M362 424h0M431 502h0M452 444h0M452 366h0M474 372h0M473 447h0M540 420h0M555 350h0M555 400h0M556 397h0M556 445h0M571 443h0M572 314h0M572 325h0M570 396h0M589 425h0M590 416h0M590 371h0M588 410h0M613 334h0M613 419h0M613 477h0M613 465h0M613 465h0M632 397h0M632 339h0M644 330h0M645 411h0M644 478h0M644 409h0M646 372h0M657 364h0M655 349h0M657 334h0M657 390h0M656 419h0M656 408h0M655 450h0M665 415h0M667 347h0M665 455h0M667 556h0M665 341h0M676 472h0M676 468h0M674 447h0M675 415h0M676 437h0M674 398h0M674 464h0M675 304h0M675 504h0M674 459h0M676 399h0M674 438h0M674 418h0M676 433h0M683 445h0M683 387h0M684 395h0M685 341h0M685 372h0M694 313h0M694 400h0M694 335h0M694 399h0M692 460h0M693 366h0M693 368h0M692 414h0M694 454h0M693 349h0M692 354h0M692 417h0M692 327h0M693 336h0M693 436h0M692 415h0M702 434h0M703 344h0M703 456h0M703 386h0M704 344h0M702 338h0M702 429h0M703 336h0M703 425h0M711 412h0M713 395h0M713 406h0M711 427h0M712 371h0M711 377h0M713 420h0M712 410h0M712 406h0M711 431h0M712 480h0M713 346h0M712 483h0M712 314h0M712 369h0M713 418h0M713 523h0M712 425h0M711 433h0M711 438h0M713 358h0M724 422h0M725 477h0M726 473h0M735 347h0M736 437h0M749 492h0M750 437h0M751 458h0M749 479h0M767 516h0M767 399h0M766 482h0M767 462h0M768 614h0M768 422h0M601 356h0M597 397h0M742 368h0M632 431h0M444 350h0M456 333h0M765 444h0M679 450h0M530 434h0M633 425h0M658 420h0M661 410h0M662 407h0M674 435h0M720 406h0M661 369h0M726 435h0M694 435h0M702 418h0M687 372h0M716 376h0M719 433h0M709 447h0"/>
<path id="nTA8" vector-effect="non-scaling-stroke" d="M364 465h0M364 454h0M363 430h0M388 394h0M432 467h0M432 518h0M453 440h0M520 358h0M554 449h0M571 382h0M572 413h0M571 331h0M572 420h0M572 476h0M588 446h0M590 408h0M589 316h0M612 378h0M633 320h0M632 417h0M633 353h0M633 344h0M645 383h0M644 312h0M644 382h0M644 442h0M644 363h0M645 404h0M655 421h0M655 475h0M655 409h0M656 423h0M655 458h0M655 405h0M667 334h0M667 346h0M665 403h0M667 324h0M667 378h0M666 303h0M666 359h0M666 302h0M665 401h0M674 408h0M674 418h0M676 431h0M676 484h0M676 442h0M674 342h0M676 367h0M676 392h0M676 471h0M676 438h0M675 354h0M685 356h0M684 473h0M685 401h0M685 448h0M683 430h0M683 402h0M685 396h0M684 441h0M685 459h0M684 413h0M685 381h0M683 426h0M693 485h0M692 392h0M693 375h0M693 480h0M692 313h0M692 432h0M693 326h0M694 421h0M693 387h0M692 453h0M692 404h0M693 432h0M692 461h0M693 386h0M694 476h0M692 345h0M704 400h0M702 465h0M702 323h0M703 337h0M704 403h0M702 339h0M702 373h0M712 440h0M711 390h0M713 450h0M711 334h0M713 411h0M712 479h0M711 440h0M712 366h0M712 445h0M713 448h0M711 298h0M713 436h0M711 311h0M712 445h0M724 487h0M725 405h0M725 359h0M725 385h0M737 485h0M735 450h0M735 431h0M735 379h0M737 366h0M737 446h0M737 349h0M737 509h0M737 461h0M736 477h0M751 450h0M750 450h0M750 346h0M768 369h0M768 450h0M768 393h0M768 400h0M768 437h0M767 480h0M723 424h0M722 427h0M456 327h0M653 334h0M446 442h0M755 486h0M447 358h0M526 499h0M713 307h0M611 331h0M457 509h0M686 468h0M441 491h0M675 389h0M706 421h0M702 425h0M666 417h0M650 383h0M645 461h0M679 451h0M664 406h0M685 416h0M760 554h0"/>
<path id="nTA9" vector-effect="non-scaling-stroke" d="M432 366h0M431 427h0M432 502h0M431 471h0M432 421h0M489 396h0M488 453h0M503 471h0M502 412h0M572 414h0M571 456h0M599 410h0M614 483h0M612 447h0M633 354h0M631 473h0M631 300h0M633 459h0M646 335h0M645 322h0M644 414h0M645 320h0M644 391h0M656 473h0M657 365h0M657 418h0M657 327h0M657 367h0M657 387h0M655 315h0M667 478h0M667 464h0M665 406h0M667 350h0M667 325h0M676 370h0M674 412h0M674 316h0M674 442h0M674 342h0M675 439h0M676 460h0M674 392h0M675 393h0M674 415h0M674 375h0M676 499h0M674 350h0M683 347h0M685 420h0M684 439h0M685 353h0M684 341h0M684 306h0M683 338h0M692 392h0M694 410h0M694 414h0M693 319h0M692 471h0M694 442h0M692 457h0M692 346h0M693 374h0M692 372h0M692 429h0M692 362h0M694 370h0M703 404h0M704 353h0M704 443h0M702 305h0M703 338h0M703 362h0M702 297h0M711 429h0M713 349h0M711 461h0M713 354h0M713 342h0M711 326h0M712 376h0M711 434h0M713 353h0M713 323h0M713 426h0M713 416h0M713 418h0M712 458h0M712 331h0M713 380h0M711 351h0M726 356h0M724 346h0M725 472h0M724 470h0M737 486h0M737 465h0M735 349h0M737 432h0M737 384h0M736 349h0M737 547h0M736 401h0M735 519h0M751 466h0M751 381h0M768 343h0M767 391h0M711 301h0M710 366h0M593 367h0M718 457h0M633 447h0M747 344h0M539 314h0M475 420h0M642 439h0M727 397h0M693 401h0M717 454h0M703 411h0M687 428h0M710 427h0M654 383h0M702 403h0M681 426h0M645 421h0M702 384h0M667 377h0M689 388h0M553 560h0M567 538h0"/>
<path id="nTA10" vector-effect="non-scaling-stroke" d="M350 382h0M363 537h0M363 447h0M424 378h0M425 395h0M430 514h0M431 391h0M431 507h0M431 518h0M432 368h0M452 386h0M487 451h0M487 368h0M488 413h0M504 474h0M541 410h0M542 337h0M542 446h0M589 351h0M589 429h0M590 471h0M590 442h0M589 413h0M589 353h0M600 381h0M601 423h0M612 400h0M614 432h0M632 361h0M645 345h0M645 386h0M644 394h0M644 344h0M646 403h0M645 379h0M644 275h0M645 375h0M657 371h0M655 419h0M655 406h0M657 440h0M656 360h0M657 406h0M655 349h0M657 427h0M657 471h0M657 370h0M667 320h0M665 387h0M667 387h0M665 467h0M667 411h0M665 348h0M665 363h0M674 334h0M674 387h0M675 396h0M676 414h0M675 315h0M676 378h0M675 340h0M676 326h0M675 380h0M674 472h0M674 370h0M676 464h0M674 422h0M674 414h0M676 318h0M676 391h0M675 429h0M684 308h0M684 460h0M684 421h0M685 470h0M684 317h0M693 420h0M694 442h0M692 397h0M693 366h0M692 461h0M693 361h0M692 424h0M694 488h0M693 376h0M692 334h0M694 473h0M694 470h0M692 321h0M693 365h0M694 371h0M692 497h0M703 449h0M704 300h0M702 341h0M702 314h0M704 442h0M703 444h0M704 334h0M704 306h0M702 412h0M704 262h0M703 364h0M704 383h0M711 373h0M713 476h0M712 343h0M712 359h0M713 373h0M713 372h0M711 455h0M713 472h0M713 476h0M713 455h0M712 381h0M713 472h0M712 473h0M711 212h0M725 379h0M726 383h0M725 485h0M725 392h0M725 441h0M725 460h0M726 437h0M726 462h0M726 506h0M724 467h0M737 486h0M736 474h0M737 401h0M751 462h0M751 491h0M751 416h0M766 353h0M767 343h0M768 388h0M766 439h0M768 508h0M767 481h0M767 422h0M768 435h0M766 509h0M768 456h0M768 385h0M513 492h0M622 439h0M598 369h0M743 430h0M467 482h0M459 452h0M519 394h0M759 324h0M486 330h0M511 351h0M585 441h0M604 332h0M562 465h0M590 498h0M675 464h0M679 394h0M664 463h0M656 307h0M702 404h0M714 327h0M705 428h0M718 410h0M680 429h0"/>
<path id="nTA11" vector-effect="non-scaling-stroke" d="M388 395h0M430 417h0M432 503h0M430 524h0M431 434h0M430 499h0M432 438h0M430 461h0M430 500h0M431 522h0M452 388h0M453 362h0M475 481h0M473 353h0M520 349h0M520 399h0M554 348h0M571 414h0M590 434h0M588 435h0M600 462h0M601 554h0M613 357h0M614 336h0M632 357h0M632 353h0M644 330h0M644 485h0M644 487h0M645 323h0M644 432h0M656 376h0M657 312h0M657 310h0M657 345h0M657 456h0M655 363h0M657 455h0M657 425h0M656 385h0M666 343h0M666 426h0M666 369h0M666 417h0M666 396h0M665 341h0M666 345h0M666 386h0M665 319h0M666 477h0M676 380h0M676 330h0M676 416h0M676 327h0M675 353h0M675 431h0M674 393h0M676 438h0M676 490h0M675 330h0M675 434h0M675 325h0M676 436h0M676 409h0M676 411h0M676 328h0M676 558h0M675 414h0M676 428h0M674 401h0M674 390h0M683 475h0M685 334h0M684 422h0M684 469h0M683 322h0M684 391h0M685 618h0M684 345h0M684 416h0M684 253h0M683 380h0M685 301h0M683 430h0M693 368h0M692 377h0M693 361h0M693 337h0M694 372h0M694 358h0M692 442h0M692 350h0M694 375h0M692 433h0M692 410h0M693 407h0M694 434h0M694 498h0M692 560h0M692 383h0M704 393h0M702 342h0M702 466h0M702 307h0M703 327h0M703 299h0M704 438h0M703 274h0M711 406h0M712 433h0M713 421h0M712 343h0M712 366h0M712 392h0M713 470h0M713 426h0M712 357h0M711 455h0M713 345h0M713 362h0M712 423h0M725 474h0M724 496h0M724 481h0M724 395h0M735 426h0M736 390h0M736 431h0M735 390h0M735 365h0M735 428h0M737 361h0M737 419h0M751 351h0M766 401h0M768 372h0M767 452h0M768 377h0M766 462h0M767 413h0M766 415h0M732 358h0M715 430h0M468 368h0M628 311h0M464 475h0M750 353h0M565 442h0M639 511h0M668 379h0M518 301h0M737 328h0M451 464h0M718 365h0M700 486h0M516 449h0M753 403h0M450 504h0M768 342h0M705 435h0M701 415h0M721 379h0M688 456h0M657 394h0M672 296h0M663 383h0M722 328h0M699 354h0M703 389h0M652 545h0"/>
<path id="nTA12" vector-effect="non-scaling-stroke" d="M389 409h0M424 382h0M431 521h0M452 328h0M474 411h0M473 353h0M489 362h0M520 324h0M542 435h0M540 427h0M540 343h0M542 411h0M588 330h0M589 359h0M601 370h0M612 382h0M633 449h0M631 376h0M631 459h0M646 402h0M645 426h0M645 352h0M645 303h0M657 329h0M655 349h0M657 314h0M655 332h0M655 332h0M657 461h0M655 398h0M655 375h0M657 323h0M656 411h0M667 373h0M666 379h0M666 412h0M667 336h0M665 353h0M666 389h0M665 381h0M674 443h0M675 417h0M675 417h0M675 353h0M676 329h0M676 421h0M674 324h0M675 471h0M676 431h0M676 337h0M674 486h0M674 378h0M674 388h0M676 316h0M676 331h0M675 310h0M675 484h0M675 349h0M674 419h0M675 503h0M674 432h0M676 430h0M675 272h0M683 329h0M684 449h0M685 307h0M685 409h0M683 385h0M685 302h0M683 377h0M692 361h0M692 490h0M693 357h0M694 454h0M694 470h0M694 407h0M694 338h0M693 471h0M694 320h0M693 348h0M692 311h0M693 359h0M693 418h0M694 355h0M704 447h0M702 304h0M704 304h0M703 312h0M703 455h0M704 386h0M703 396h0M702 399h0M713 383h0M713 434h0M713 325h0M711 333h0M711 384h0M713 409h0M711 367h0M712 451h0M712 352h0M711 387h0M713 353h0M712 329h0M711 468h0M712 328h0M712 489h0M713 356h0M713 292h0M724 456h0M724 353h0M736 382h0M737 500h0M735 320h0M751 422h0M750 493h0M749 377h0M749 438h0M749 400h0M751 472h0M751 442h0M767 410h0M767 260h0M697 328h0M733 380h0M466 469h0M719 498h0M760 311h0M545 511h0M608 452h0M587 320h0M641 408h0M585 387h0M708 486h0M677 451h0M659 317h0M642 448h0M651 387h0M677 401h0M722 460h0M678 452h0M701 447h0M693 419h0M691 446h0M702 378h0M729 383h0M692 441h0M559 564h0"/>
<path id="nTA13" vector-effect="non-scaling-stroke" d="M350 392h0M350 444h0M430 407h0M473 376h0M474 354h0M474 407h0M473 418h0M488 377h0M502 348h0M542 379h0M542 370h0M541 518h0M541 316h0M571 457h0M570 391h0M572 391h0M601 398h0M599 424h0M613 452h0M613 393h0M613 487h0M633 423h0M631 424h0M645 392h0M644 336h0M646 397h0M645 326h0M645 461h0M655 320h0M655 336h0M657 471h0M657 352h0M657 346h0M656 510h0M667 342h0M666 355h0M665 297h0M674 365h0M676 312h0M675 429h0M675 379h0M676 447h0M675 312h0M675 354h0M675 322h0M676 437h0M674 451h0M675 341h0M674 318h0M676 410h0M676 448h0M675 419h0M676 428h0M674 424h0M675 403h0M675 351h0M676 330h0M676 500h0M675 289h0M674 519h0M675 400h0M674 457h0M675 582h0M676 444h0M674 363h0M675 509h0M685 316h0M683 381h0M683 472h0M683 456h0M683 454h0M684 372h0M685 326h0M683 507h0M693 430h0M694 358h0M693 396h0M694 410h0M692 488h0M692 343h0M693 403h0M693 437h0M692 388h0M692 381h0M694 388h0M694 478h0M704 435h0M702 319h0M702 364h0M711 455h0M712 416h0M712 426h0M713 368h0M712 458h0M711 362h0M712 454h0M713 356h0M713 402h0M713 331h0M711 363h0M711 406h0M712 325h0M711 473h0M713 337h0M711 455h0M713 304h0M712 414h0M724 357h0M726 462h0M737 415h0M737 466h0M737 473h0M736 365h0M735 479h0M750 428h0M751 454h0M751 389h0M768 496h0M767 389h0M767 369h0M766 359h0M659 325h0M645 363h0M685 421h0M590 520h0M759 329h0M706 512h0M518 398h0M741 408h0M571 448h0M452 324h0M746 512h0M744 326h0M501 408h0M458 427h0M704 419h0M650 405h0M660 437h0M705 473h0M716 426h0M698 402h0M661 371h0M701 480h0M645 402h0M648 395h0M652 571h0"/>
<path id="nFA0" vector-effect="non-scaling-stroke" d="M543 451h0M557 338h0M615 466h0M658 336h0M657 433h0M656 461h0M677 366h0M675 356h0M677 365h0M677 481h0M686 470h0M686 337h0M693 358h0M693 328h0M713 355h0M736 462h0M564 340h0M718 309h0"/>
<path id="nFA1" vector-effect="non-scaling-stroke" d="M520 394h0M543 323h0M542 369h0M557 389h0M573 397h0M572 439h0M602 334h0M633 437h0M646 477h0M656 440h0M656 420h0M658 438h0M656 377h0M658 367h0M656 379h0M667 363h0M677 461h0M675 394h0M677 432h0M676 396h0M684 439h0M686 384h0M695 383h0M727 458h0M720 409h0M634 403h0M532 488h0M606 366h0M735 489h0M684 329h0"/>
<path id="nFA2" vector-effect="non-scaling-stroke" d="M490 395h0M503 405h0M520 500h0M571 457h0M589 338h0M590 413h0M615 324h0M632 326h0M632 313h0M647 446h0M647 316h0M658 415h0M656 405h0M657 373h0M657 369h0M677 369h0M677 314h0M693 420h0M714 371h0M752 401h0M767 375h0M767 457h0M730 362h0M692 319h0"/>
<path id="nFA3" vector-effect="non-scaling-stroke" d="M542 469h0M572 399h0M601 388h0M613 479h0M633 447h0M645 429h0M645 472h0M656 386h0M658 377h0M658 440h0M658 314h0M666 464h0M676 383h0M677 471h0M675 392h0M675 399h0M677 328h0M736 354h0M738 378h0M576 498h0M504 411h0"/>
<path id="nFA4" vector-effect="non-scaling-stroke" d="M504 411h0M541 460h0M573 478h0M615 488h0M632 416h0M634 319h0M658 345h0M657 331h0M657 386h0M656 361h0M668 348h0M675 458h0M727 429h0M515 391h0M709 408h0M668 378h0"/>
<path id="nFA5" vector-effect="non-scaling-stroke" d="M474 402h0M505 333h0M522 486h0M521 359h0M572 311h0M590 384h0M613 404h0M613 462h0M645 365h0M647 395h0M656 437h0M656 467h0M668 381h0M668 406h0M666 346h0M676 383h0M677 330h0M675 485h0M694 382h0M713 438h0M712 407h0M612 335h0M617 470h0M700 302h0M699 394h0M587 358h0M721 457h0"/>
<path id="nFA6" vector-effect="non-scaling-stroke" d="M555 334h0M590 469h0M613 336h0M633 365h0M632 332h0M645 423h0M647 317h0M646 479h0M658 455h0M656 434h0M666 375h0M668 429h0M666 402h0M676 461h0M675 429h0M676 366h0M685 355h0M738 350h0M723 317h0M634 406h0M609 401h0"/>
<path id="nFA7" vector-effect="non-scaling-stroke" d="M488 372h0M541 339h0M543 397h0M542 434h0M556 451h0M571 382h0M571 423h0M572 440h0M601 491h0M600 336h0M615 324h0M634 346h0M647 438h0M658 397h0M657 332h0M656 317h0M658 406h0M656 334h0M668 364h0M667 348h0M666 417h0M667 342h0M676 404h0M675 374h0M675 417h0M686 366h0M684 397h0M769 516h0M623 367h0M504 402h0M523 341h0M608 373h0"/>
<path id="nFA8" vector-effect="non-scaling-stroke" d="M520 362h0M647 370h0M656 330h0M657 471h0M666 476h0M667 362h0M676 406h0M675 438h0M675 358h0M675 453h0M686 352h0M686 327h0M713 432h0M645 365h0M585 403h0M575 331h0M674 414h0M542 325h0M473 566h0"/>
<path id="nFA9" vector-effect="non-scaling-stroke" d="M589 347h0M634 336h0M632 467h0M656 415h0M658 330h0M656 377h0M657 454h0M666 413h0M676 393h0M676 359h0M675 409h0M676 408h0M705 408h0M751 441h0M723 395h0M562 456h0"/>
<path id="nFA10" vector-effect="non-scaling-stroke" d="M474 497h0M521 411h0M571 354h0M573 331h0M591 426h0M634 478h0M646 376h0M647 346h0M656 422h0M668 421h0M675 329h0M677 352h0M675 484h0M472 568h0"/>
<path id="nFA11" vector-effect="non-scaling-stroke" d="M572 348h0M601 357h0M633 467h0M647 322h0M645 408h0M656 345h0M657 434h0M657 424h0M656 327h0M658 394h0M668 427h0M668 449h0M667 400h0M675 450h0M676 326h0M675 382h0M676 441h0M694 378h0M654 404h0M700 398h0M731 320h0M727 348h0"/>
<path id="nFA12" vector-effect="non-scaling-stroke" d="M572 325h0M571 384h0M573 353h0M614 449h0M633 335h0M645 484h0M646 357h0M656 468h0M658 316h0M656 397h0M656 309h0M658 373h0M657 419h0M656 327h0M656 355h0M668 434h0M666 428h0M667 462h0M677 435h0M676 393h0M676 485h0M685 399h0M703 360h0M713 406h0M624 313h0M738 467h0"/>
<path id="nFA13" vector-effect="non-scaling-stroke" d="M504 363h0M602 337h0M632 467h0M632 368h0M656 316h0M656 363h0M657 423h0M657 449h0M667 393h0M676 340h0M676 461h0M685 340h0M685 441h0M703 341h0M517 331h0M592 473h0M698 464h0"/><rect id="nk0" x="433.5" y="166.0" width="4.0" height="95.0"/>
<rect id="nk1" x="521.0" y="187.0" width="4.0" height="43.0"/>
<rect id="nk2" x="534.0" y="176.0" width="6.0" height="54.0"/>
<rect id="nk3" x="645.0" y="155.0" width="28.0" height="109.0"/>
<rect id="nk4" x="649.0" y="264.0" width="20.0" height="31.0"/>
<rect id="nk5" x="699.0" y="160.0" width="11.0" height="115.0"/>
<rect id="nk6" x="721.0" y="168.0" width="10.0" height="80.0"/>
<rect id="nk7" x="723.0" y="248.0" width="6.0" height="32.0"/>
<rect id="nk8" x="739.0" y="152.0" width="4.0" height="193.0"/>
<rect id="nk9" x="751.0" y="155.0" width="4.0" height="190.0"/>
<rect id="nk10" x="766.5" y="162.0" width="4.0" height="183.0"/>
<rect id="nk11" x="462.5" y="211.0" width="4.0" height="53.0"/>
<rect id="nk12" x="500.0" y="190.0" width="13.0" height="48.0"/>
<rect id="nk13" x="521.0" y="220.0" width="4.0" height="20.0"/>
<rect id="nk14" x="549.0" y="171.0" width="4.0" height="82.0"/>
<rect id="nk15" x="566.0" y="187.0" width="20.0" height="64.0"/>
<rect id="nk16" x="600.0" y="176.0" width="4.0" height="80.0"/>
<rect id="nk17" x="611.0" y="176.0" width="26.0" height="67.0"/>
<rect id="nk18" x="611.0" y="243.0" width="6.0" height="67.0"/>
<rect id="nk19" x="625.0" y="243.0" width="10.0" height="47.0"/>
<rect id="nk20" x="688.0" y="184.0" width="6.0" height="54.0"/>
<rect id="nk21" x="704.0" y="185.0" width="4.0" height="60.0"/>
<rect id="nk22" x="571.5" y="190.0" width="3.0" height="38.0"/>
<rect id="nk23" x="581.5" y="190.0" width="3.0" height="38.0"/><clipPath id="cA"><rect x="28.00" y="0.00" width="274.50" height="241.10"/></clipPath><clipPath id="cB"><rect x="375.50" y="0.00" width="274.40" height="241.10"/></clipPath><clipPath id="cC"><rect x="28.00" y="294.40" width="274.10" height="224.50"/></clipPath><clipPath id="cDF"><rect x="375.90" y="294.40" width="133.60" height="224.50"/></clipPath><clipPath id="cDT"><rect x="516.10" y="294.40" width="133.80" height="224.50"/></clipPath></defs>
<g clip-path="url(#cA)"><g filter="url(#soft)"><g transform="matrix(0.50000,0,0,0.43850,-110.000,-32.450)"><use href="#nk0" fill="#A9A9A9" fill-opacity="0.9"/><use href="#nk1" fill="#A9A9A9" fill-opacity="0.85"/><use href="#nk2" fill="#A9A9A9" fill-opacity="0.85"/><use href="#nk3" fill="#A9A9A9" fill-opacity="0.92"/><use href="#nk4" fill="#A9A9A9" fill-opacity="0.5"/><use href="#nk5" fill="#A9A9A9" fill-opacity="0.88"/><use href="#nk6" fill="#A9A9A9" fill-opacity="0.88"/><use href="#nk7" fill="#A9A9A9" fill-opacity="0.4"/><use href="#nk8" fill="#A9A9A9" fill-opacity="0.95"/><use href="#nk9" fill="#A9A9A9" fill-opacity="0.95"/><use href="#nk10" fill="#A9A9A9" fill-opacity="0.95"/><use href="#nk22" fill="#A9A9A9" fill-opacity="0.7"/><use href="#nk23" fill="#A9A9A9" fill-opacity="0.7"/><use href="#nk11" fill="#A9A9A9" fill-opacity="0.85"/><use href="#nk12" fill="#A9A9A9" fill-opacity="0.88"/><use href="#nk13" fill="#A9A9A9" fill-opacity="0.7"/><use href="#nk14" fill="#A9A9A9" fill-opacity="0.88"/><use href="#nk15" fill="#A9A9A9" fill-opacity="0.85"/><use href="#nk16" fill="#A9A9A9" fill-opacity="0.88"/><use href="#nk17" fill="#A9A9A9" fill-opacity="0.88"/><use href="#nk18" fill="#A9A9A9" fill-opacity="0.7"/><use href="#nk19" fill="#A9A9A9" fill-opacity="0.7"/><use href="#nk20" fill="#A9A9A9" fill-opacity="0.85"/><use href="#nk21" fill="#A9A9A9" fill-opacity="0.6"/></g></g><g transform="matrix(0.50000,0,0,0.43850,-110.000,-32.450)" fill="none" stroke-width="4.2" stroke-linecap="round" stroke-opacity="0.115"><use href="#nTA0" stroke="#A9A9A9"/><use href="#nFA0" stroke="#A9A9A9"/><use href="#nTH0" stroke="#A9A9A9"/><use href="#nFH0" stroke="#A9A9A9"/><use href="#nTA1" stroke="#A9A9A9"/><use href="#nFA1" stroke="#A9A9A9"/><use href="#nTH1" stroke="#A9A9A9"/><use href="#nFH1" stroke="#A9A9A9"/><use href="#nTA2" stroke="#A9A9A9"/><use href="#nFA2" stroke="#A9A9A9"/><use href="#nTH2" stroke="#A9A9A9"/><use href="#nFH2" stroke="#A9A9A9"/><use href="#nTA3" stroke="#A9A9A9"/><use href="#nFA3" stroke="#A9A9A9"/><use href="#nTH3" stroke="#A9A9A9"/><use href="#nFH3" stroke="#A9A9A9"/><use href="#nTA4" stroke="#A9A9A9"/><use href="#nFA4" stroke="#A9A9A9"/><use href="#nTH4" stroke="#A9A9A9"/><use href="#nFH4" stroke="#A9A9A9"/><use href="#nTA5" stroke="#A9A9A9"/><use href="#nFA5" stroke="#A9A9A9"/><use href="#nTH5" stroke="#A9A9A9"/><use href="#nFH5" stroke="#A9A9A9"/><use href="#nTA6" stroke="#A9A9A9"/><use href="#nFA6" stroke="#A9A9A9"/><use href="#nTH6" stroke="#A9A9A9"/><use href="#nFH6" stroke="#A9A9A9"/><use href="#nTA7" stroke="#A9A9A9"/><use href="#nFA7" stroke="#A9A9A9"/><use href="#nTH7" stroke="#A9A9A9"/><use href="#nFH7" stroke="#A9A9A9"/><use href="#nTA8" stroke="#A9A9A9"/><use href="#nFA8" stroke="#A9A9A9"/><use href="#nTH8" stroke="#A9A9A9"/><use href="#nFH8" stroke="#A9A9A9"/><use href="#nTA9" stroke="#A9A9A9"/><use href="#nFA9" stroke="#A9A9A9"/><use href="#nTH9" stroke="#A9A9A9"/><use href="#nFH9" stroke="#A9A9A9"/><use href="#nTA10" stroke="#A9A9A9"/><use href="#nFA10" stroke="#A9A9A9"/><use href="#nTH10" stroke="#A9A9A9"/><use href="#nFH10" stroke="#A9A9A9"/><use href="#nTA11" stroke="#A9A9A9"/><use href="#nFA11" stroke="#A9A9A9"/><use href="#nTH11" stroke="#A9A9A9"/><use href="#nFH11" stroke="#A9A9A9"/><use href="#nTA12" stroke="#A9A9A9"/><use href="#nFA12" stroke="#A9A9A9"/><use href="#nTH12" stroke="#A9A9A9"/><use href="#nFH12" stroke="#A9A9A9"/><use href="#nTA13" stroke="#A9A9A9"/><use href="#nFA13" stroke="#A9A9A9"/><use href="#nTH13" stroke="#A9A9A9"/><use href="#nFH13" stroke="#A9A9A9"/></g></g>
<g clip-path="url(#cB)"><g filter="url(#soft)"><g transform="matrix(0.50000,0,0,0.43850,237.500,-32.450)"><use href="#nk0" fill="#D2691E" fill-opacity="0.9"/><use href="#nk1" fill="#D2691E" fill-opacity="0.85"/><use href="#nk2" fill="#D2691E" fill-opacity="0.85"/><use href="#nk3" fill="#D2691E" fill-opacity="0.92"/><use href="#nk4" fill="#D2691E" fill-opacity="0.5"/><use href="#nk5" fill="#D2691E" fill-opacity="0.88"/><use href="#nk6" fill="#D2691E" fill-opacity="0.88"/><use href="#nk7" fill="#D2691E" fill-opacity="0.4"/><use href="#nk8" fill="#D2691E" fill-opacity="0.95"/><use href="#nk9" fill="#D2691E" fill-opacity="0.95"/><use href="#nk10" fill="#D2691E" fill-opacity="0.95"/><use href="#nk22" fill="#D2691E" fill-opacity="0.7"/><use href="#nk23" fill="#D2691E" fill-opacity="0.7"/><use href="#nk11" fill="#D2691E" fill-opacity="0.85"/><use href="#nk12" fill="#D2691E" fill-opacity="0.88"/><use href="#nk13" fill="#D2691E" fill-opacity="0.7"/><use href="#nk14" fill="#D2691E" fill-opacity="0.88"/><use href="#nk15" fill="#D2691E" fill-opacity="0.85"/><use href="#nk16" fill="#D2691E" fill-opacity="0.88"/><use href="#nk17" fill="#D2691E" fill-opacity="0.88"/><use href="#nk18" fill="#D2691E" fill-opacity="0.7"/><use href="#nk19" fill="#D2691E" fill-opacity="0.7"/><use href="#nk20" fill="#D2691E" fill-opacity="0.85"/><use href="#nk21" fill="#D2691E" fill-opacity="0.6"/></g></g><g transform="matrix(0.50000,0,0,0.43850,237.500,-32.450)" fill="none" stroke-width="4.2" stroke-linecap="round" stroke-opacity="0.115"><use href="#nTA0" stroke="#458B00"/><use href="#nTA1" stroke="#458B00"/><use href="#nTA2" stroke="#458B00"/><use href="#nTA3" stroke="#458B00"/><use href="#nTA4" stroke="#458B00"/><use href="#nTA5" stroke="#458B00"/><use href="#nTA6" stroke="#458B00"/><use href="#nTA7" stroke="#458B00"/><use href="#nTA8" stroke="#458B00"/><use href="#nTA9" stroke="#458B00"/><use href="#nTA10" stroke="#458B00"/><use href="#nTA11" stroke="#458B00"/><use href="#nTA12" stroke="#458B00"/><use href="#nTA13" stroke="#458B00"/><use href="#nFA0" stroke="#458B00"/><use href="#nFA1" stroke="#458B00"/><use href="#nFA2" stroke="#458B00"/><use href="#nFA3" stroke="#458B00"/><use href="#nFA4" stroke="#458B00"/><use href="#nFA5" stroke="#458B00"/><use href="#nFA6" stroke="#458B00"/><use href="#nFA7" stroke="#458B00"/><use href="#nFA8" stroke="#458B00"/><use href="#nFA9" stroke="#458B00"/><use href="#nFA10" stroke="#458B00"/><use href="#nFA11" stroke="#458B00"/><use href="#nFA12" stroke="#458B00"/><use href="#nFA13" stroke="#458B00"/><use href="#nTH0" stroke="#D2691E"/><use href="#nTH1" stroke="#D2691E"/><use href="#nTH2" stroke="#D2691E"/><use href="#nTH3" stroke="#D2691E"/><use href="#nTH4" stroke="#D2691E"/><use href="#nTH5" stroke="#D2691E"/><use href="#nTH6" stroke="#D2691E"/><use href="#nTH7" stroke="#D2691E"/><use href="#nTH8" stroke="#D2691E"/><use href="#nTH9" stroke="#D2691E"/><use href="#nTH10" stroke="#D2691E"/><use href="#nTH11" stroke="#D2691E"/><use href="#nTH12" stroke="#D2691E"/><use href="#nTH13" stroke="#D2691E"/><use href="#nFH0" stroke="#D2691E"/><use href="#nFH1" stroke="#D2691E"/><use href="#nFH2" stroke="#D2691E"/><use href="#nFH3" stroke="#D2691E"/><use href="#nFH4" stroke="#D2691E"/><use href="#nFH5" stroke="#D2691E"/><use href="#nFH6" stroke="#D2691E"/><use href="#nFH7" stroke="#D2691E"/><use href="#nFH8" stroke="#D2691E"/><use href="#nFH9" stroke="#D2691E"/><use href="#nFH10" stroke="#D2691E"/><use href="#nFH11" stroke="#D2691E"/><use href="#nFH12" stroke="#D2691E"/><use href="#nFH13" stroke="#D2691E"/></g></g>
<g clip-path="url(#cC)"><g filter="url(#soft)"><g transform="matrix(0.50000,0,0,0.34180,-110.000,304.620)"><use href="#nk11" fill="#00CED1" fill-opacity="0.85"/><use href="#nk12" fill="#00CED1" fill-opacity="0.88"/><use href="#nk13" fill="#00CED1" fill-opacity="0.7"/><use href="#nk14" fill="#00CED1" fill-opacity="0.88"/><use href="#nk15" fill="#00CED1" fill-opacity="0.85"/><use href="#nk16" fill="#00CED1" fill-opacity="0.88"/><use href="#nk17" fill="#00CED1" fill-opacity="0.88"/><use href="#nk18" fill="#00CED1" fill-opacity="0.7"/><use href="#nk19" fill="#00CED1" fill-opacity="0.7"/><use href="#nk20" fill="#00CED1" fill-opacity="0.85"/><use href="#nk21" fill="#00CED1" fill-opacity="0.6"/><use href="#nk0" fill="#DAA520" fill-opacity="0.9"/><use href="#nk1" fill="#DAA520" fill-opacity="0.85"/><use href="#nk2" fill="#DAA520" fill-opacity="0.85"/><use href="#nk3" fill="#DAA520" fill-opacity="0.92"/><use href="#nk4" fill="#DAA520" fill-opacity="0.5"/><use href="#nk5" fill="#DAA520" fill-opacity="0.88"/><use href="#nk6" fill="#DAA520" fill-opacity="0.88"/><use href="#nk7" fill="#DAA520" fill-opacity="0.4"/><use href="#nk8" fill="#DAA520" fill-opacity="0.95"/><use href="#nk9" fill="#DAA520" fill-opacity="0.95"/><use href="#nk10" fill="#DAA520" fill-opacity="0.95"/><use href="#nk22" fill="#DAA520" fill-opacity="0.7"/><use href="#nk23" fill="#DAA520" fill-opacity="0.7"/></g></g><g transform="matrix(0.50000,0,0,0.34180,-110.000,304.620)" fill="none" stroke-width="4.2" stroke-linecap="round" stroke-opacity="0.115"><use href="#nFA0" stroke="#00CED1"/><use href="#nFA1" stroke="#00CED1"/><use href="#nFA2" stroke="#00CED1"/><use href="#nFA3" stroke="#00CED1"/><use href="#nFA4" stroke="#00CED1"/><use href="#nFA5" stroke="#00CED1"/><use href="#nFA6" stroke="#00CED1"/><use href="#nFA7" stroke="#00CED1"/><use href="#nFA8" stroke="#00CED1"/><use href="#nFA9" stroke="#00CED1"/><use href="#nFA10" stroke="#00CED1"/><use href="#nFA11" stroke="#00CED1"/><use href="#nFA12" stroke="#00CED1"/><use href="#nFA13" stroke="#00CED1"/><use href="#nFH0" stroke="#00CED1"/><use href="#nFH1" stroke="#00CED1"/><use href="#nFH2" stroke="#00CED1"/><use href="#nFH3" stroke="#00CED1"/><use href="#nFH4" stroke="#00CED1"/><use href="#nFH5" stroke="#00CED1"/><use href="#nFH6" stroke="#00CED1"/><use href="#nFH7" stroke="#00CED1"/><use href="#nFH8" stroke="#00CED1"/><use href="#nFH9" stroke="#00CED1"/><use href="#nFH10" stroke="#00CED1"/><use href="#nFH11" stroke="#00CED1"/><use href="#nFH12" stroke="#00CED1"/><use href="#nFH13" stroke="#00CED1"/><use href="#nTA0" stroke="#DAA520"/><use href="#nTA1" stroke="#DAA520"/><use href="#nTA2" stroke="#DAA520"/><use href="#nTA3" stroke="#DAA520"/><use href="#nTA4" stroke="#DAA520"/><use href="#nTA5" stroke="#DAA520"/><use href="#nTA6" stroke="#DAA520"/><use href="#nTA7" stroke="#DAA520"/><use href="#nTA8" stroke="#DAA520"/><use href="#nTA9" stroke="#DAA520"/><use href="#nTA10" stroke="#DAA520"/><use href="#nTA11" stroke="#DAA520"/><use href="#nTA12" stroke="#DAA520"/><use href="#nTA13" stroke="#DAA520"/><use href="#nTH0" stroke="#DAA520"/><use href="#nTH1" stroke="#DAA520"/><use href="#nTH2" stroke="#DAA520"/><use href="#nTH3" stroke="#DAA520"/><use href="#nTH4" stroke="#DAA520"/><use href="#nTH5" stroke="#DAA520"/><use href="#nTH6" stroke="#DAA520"/><use href="#nTH7" stroke="#DAA520"/><use href="#nTH8" stroke="#DAA520"/><use href="#nTH9" stroke="#DAA520"/><use href="#nTH10" stroke="#DAA520"/><use href="#nTH11" stroke="#DAA520"/><use href="#nTH12" stroke="#DAA520"/><use href="#nTH13" stroke="#DAA520"/></g></g>
<g clip-path="url(#cDF)"><g><g transform="matrix(0.24480,0,0,0.34180,307.860,304.620)"><rect x="458.5" y="211.0" width="12.0" height="53.0" fill="#008B8B" fill-opacity="0.85"/><rect x="496.0" y="190.0" width="21.0" height="48.0" fill="#008B8B" fill-opacity="0.88"/><rect x="517.0" y="220.0" width="12.0" height="20.0" fill="#008B8B" fill-opacity="0.7"/><rect x="545.0" y="171.0" width="12.0" height="82.0" fill="#008B8B" fill-opacity="0.88"/><rect x="562.0" y="187.0" width="28.0" height="64.0" fill="#008B8B" fill-opacity="0.85"/><rect x="596.0" y="176.0" width="12.0" height="80.0" fill="#008B8B" fill-opacity="0.88"/><rect x="607.0" y="176.0" width="34.0" height="67.0" fill="#008B8B" fill-opacity="0.88"/><rect x="607.0" y="243.0" width="14.0" height="67.0" fill="#008B8B" fill-opacity="0.7"/><rect x="621.0" y="243.0" width="18.0" height="47.0" fill="#008B8B" fill-opacity="0.7"/><rect x="684.0" y="184.0" width="14.0" height="54.0" fill="#008B8B" fill-opacity="0.85"/><rect x="700.0" y="185.0" width="12.0" height="60.0" fill="#008B8B" fill-opacity="0.6"/></g></g><g transform="matrix(0.24480,0,0,0.34180,307.860,304.620)" fill="none" stroke-width="4.2" stroke-linecap="round" stroke-opacity="0.115"><use href="#nFA0" stroke="#00FFFF"/><use href="#nFA1" stroke="#00FFFF"/><use href="#nFA2" stroke="#00FFFF"/><use href="#nFA3" stroke="#00FFFF"/><use href="#nFA4" stroke="#00FFFF"/><use href="#nFA5" stroke="#00FFFF"/><use href="#nFA6" stroke="#00FFFF"/><use href="#nFA7" stroke="#00FFFF"/><use href="#nFA8" stroke="#00FFFF"/><use href="#nFA9" stroke="#00FFFF"/><use href="#nFA10" stroke="#00FFFF"/><use href="#nFA11" stroke="#00FFFF"/><use href="#nFA12" stroke="#00FFFF"/><use href="#nFA13" stroke="#00FFFF"/><use href="#nFH0" stroke="#008B8B"/><use href="#nFH1" stroke="#008B8B"/><use href="#nFH2" stroke="#008B8B"/><use href="#nFH3" stroke="#008B8B"/><use href="#nFH4" stroke="#008B8B"/><use href="#nFH5" stroke="#008B8B"/><use href="#nFH6" stroke="#008B8B"/><use href="#nFH7" stroke="#008B8B"/><use href="#nFH8" stroke="#008B8B"/><use href="#nFH9" stroke="#008B8B"/><use href="#nFH10" stroke="#008B8B"/><use href="#nFH11" stroke="#008B8B"/><use href="#nFH12" stroke="#008B8B"/><use href="#nFH13" stroke="#008B8B"/></g></g>
<g clip-path="url(#cDT)"><g><g transform="matrix(0.24480,0,0,0.34180,448.060,304.620)"><rect x="429.5" y="166.0" width="12.0" height="95.0" fill="#8B6914" fill-opacity="0.9"/><rect x="517.0" y="187.0" width="12.0" height="43.0" fill="#8B6914" fill-opacity="0.85"/><rect x="530.0" y="176.0" width="14.0" height="54.0" fill="#8B6914" fill-opacity="0.85"/><rect x="641.0" y="155.0" width="36.0" height="109.0" fill="#8B6914" fill-opacity="0.92"/><rect x="645.0" y="264.0" width="28.0" height="31.0" fill="#8B6914" fill-opacity="0.5"/><rect x="695.0" y="160.0" width="19.0" height="115.0" fill="#8B6914" fill-opacity="0.88"/><rect x="717.0" y="168.0" width="18.0" height="80.0" fill="#8B6914" fill-opacity="0.88"/><rect x="719.0" y="248.0" width="14.0" height="32.0" fill="#8B6914" fill-opacity="0.4"/><rect x="735.0" y="152.0" width="12.0" height="193.0" fill="#8B6914" fill-opacity="0.95"/><rect x="747.0" y="155.0" width="12.0" height="190.0" fill="#8B6914" fill-opacity="0.95"/><rect x="762.5" y="162.0" width="12.0" height="183.0" fill="#8B6914" fill-opacity="0.95"/><rect x="567.5" y="190.0" width="11.0" height="38.0" fill="#8B6914" fill-opacity="0.7"/><rect x="577.5" y="190.0" width="11.0" height="38.0" fill="#8B6914" fill-opacity="0.7"/></g></g><g transform="matrix(0.24480,0,0,0.34180,448.060,304.620)" fill="none" stroke-width="4.2" stroke-linecap="round" stroke-opacity="0.115"><use href="#nTA0" stroke="#FFC125"/><use href="#nTA1" stroke="#FFC125"/><use href="#nTA2" stroke="#FFC125"/><use href="#nTA3" stroke="#FFC125"/><use href="#nTA4" stroke="#FFC125"/><use href="#nTA5" stroke="#FFC125"/><use href="#nTA6" stroke="#FFC125"/><use href="#nTA7" stroke="#FFC125"/><use href="#nTA8" stroke="#FFC125"/><use href="#nTA9" stroke="#FFC125"/><use href="#nTA10" stroke="#FFC125"/><use href="#nTA11" stroke="#FFC125"/><use href="#nTA12" stroke="#FFC125"/><use href="#nTA13" stroke="#FFC125"/><use href="#nTH0" stroke="#8B6914"/><use href="#nTH1" stroke="#8B6914"/><use href="#nTH2" stroke="#8B6914"/><use href="#nTH3" stroke="#8B6914"/><use href="#nTH4" stroke="#8B6914"/><use href="#nTH5" stroke="#8B6914"/><use href="#nTH6" stroke="#8B6914"/><use href="#nTH7" stroke="#8B6914"/><use href="#nTH8" stroke="#8B6914"/><use href="#nTH9" stroke="#8B6914"/><use href="#nTH10" stroke="#8B6914"/><use href="#nTH11" stroke="#8B6914"/><use href="#nTH12" stroke="#8B6914"/><use href="#nTH13" stroke="#8B6914"/></g></g>
<defs><path id="mFH0" vector-effect="non-scaling-stroke" d="M463 -276h0M462 -300h0M464 -291h0M464 -291h0M462 -324h0M464 -280h0M464 -310h0M478 -203h0M500 -192h0M504 -237h0M503 -145h0M503 -128h0M501 -238h0M504 -191h0M501 -140h0M504 -208h0M500 -153h0M501 -127h0M533 -201h0M535 -216h0M534 -205h0M537 -268h0M535 -211h0M534 -210h0M534 -172h0M535 -197h0M551 -380h0M550 -350h0M551 -337h0M551 -321h0M551 -357h0M552 -314h0M556 -131h0M557 -119h0M565 -166h0M565 -154h0M569 -138h0M567 -171h0M566 -158h0M576 -372h0M577 -306h0M579 -320h0M578 -376h0M579 -329h0M579 -321h0M577 -377h0M579 -138h0M579 -108h0M595 -86h0M596 -106h0M595 -46h0M597 -109h0M595 -95h0M597 -67h0M602 -556h0M602 -417h0M602 -364h0M604 -397h0M603 -476h0M604 -176h0M602 -161h0M613 -496h0M614 -400h0M614 -371h0M613 -429h0M613 -447h0M613 -419h0M632 -324h0M622 -285h0M631 -94h0M623 -264h0M631 -291h0M623 -97h0M632 -107h0M622 -284h0M623 -163h0M623 -315h0M622 -210h0M622 -296h0M622 -337h0M622 -226h0M632 -234h0M632 -331h0M651 -439h0M652 -439h0M653 -436h0M650 -376h0M668 -76h0M671 -117h0M667 -310h0M666 -194h0M673 -471h0M667 -529h0M671 -401h0M673 -366h0M671 -100h0M672 -426h0M667 -195h0M661 -266h0M667 -459h0M662 -494h0M671 -275h0M666 -505h0M673 -168h0M673 -503h0M672 -188h0M662 -293h0M663 -268h0M662 -226h0M662 -299h0M663 -323h0M662 -284h0M673 -219h0M666 -160h0M672 -267h0M661 -337h0M672 -185h0M666 -250h0M667 -157h0M662 -215h0M672 -180h0M662 -209h0M663 -317h0M662 -253h0M667 -210h0M662 -180h0M666 -271h0M673 -295h0M666 -175h0M671 -185h0M673 -259h0M673 -315h0M672 -160h0M672 -203h0M672 -272h0M662 -159h0M671 -192h0M663 -285h0M663 -221h0M672 -332h0M663 -328h0M672 -196h0M662 -313h0M672 -333h0M691 -134h0M693 -196h0M690 -151h0M689 -179h0M690 -158h0M689 -187h0M706 -151h0M704 -200h0M721 -234h0M722 -213h0M721 -234h0M721 -190h0M721 -240h0M721 -159h0M721 -208h0M638 -294h0M571 -207h0M611 -131h0M642 -425h0M677 -378h0M639 -233h0M645 -185h0M673 -434h0M666 -115h0M602 -443h0M666 -398h0M639 -343h0M649 -230h0M680 -297h0M669 -243h0M656 -176h0M642 -269h0M649 -164h0M630 -236h0M680 -169h0M631 -105h0M637 -301h0M649 -252h0M636 -113h0M642 -332h0"/>
<path id="mFH1" vector-effect="non-scaling-stroke" d="M464 -328h0M463 -289h0M464 -299h0M463 -335h0M464 -312h0M478 -208h0M478 -185h0M501 -201h0M502 -161h0M501 -140h0M502 -179h0M502 -173h0M503 -149h0M501 -163h0M503 -157h0M503 -175h0M500 -129h0M502 -275h0M502 -340h0M535 -273h0M534 -279h0M537 -191h0M535 -210h0M535 -173h0M535 -208h0M550 -304h0M553 -360h0M553 -386h0M552 -336h0M552 -340h0M551 -373h0M551 -360h0M553 -125h0M555 -144h0M556 -159h0M553 -118h0M569 -152h0M567 -139h0M566 -168h0M568 -142h0M568 -151h0M569 -129h0M567 -182h0M565 -180h0M568 -163h0M567 -168h0M576 -333h0M576 -366h0M577 -73h0M578 -44h0M596 -46h0M596 -62h0M596 -98h0M595 -150h0M595 -62h0M595 -93h0M603 -423h0M602 -513h0M603 -386h0M604 -481h0M614 -485h0M612 -400h0M631 -255h0M622 -332h0M632 -155h0M621 -238h0M631 -183h0M630 -219h0M622 -216h0M633 -147h0M632 -57h0M630 -150h0M622 -280h0M631 -324h0M632 -285h0M632 -55h0M632 -172h0M630 -306h0M633 -224h0M623 -335h0M623 -278h0M623 -308h0M631 -199h0M652 -371h0M652 -447h0M653 -385h0M649 -382h0M653 -470h0M650 -348h0M651 -441h0M653 -506h0M652 -430h0M651 -482h0M666 -170h0M672 -315h0M672 -469h0M673 -265h0M661 -370h0M661 -156h0M673 -152h0M673 -397h0M661 -108h0M663 -540h0M662 -144h0M662 -250h0M663 -534h0M662 -387h0M663 -538h0M672 -479h0M671 -464h0M662 -181h0M666 -163h0M667 -228h0M666 -308h0M672 -438h0M672 -86h0M671 -406h0M662 -483h0M661 -278h0M661 -239h0M666 -234h0M673 -329h0M672 -216h0M661 -308h0M662 -259h0M667 -254h0M673 -163h0M662 -165h0M663 -222h0M672 -234h0M661 -212h0M666 -246h0M661 -220h0M673 -225h0M672 -327h0M662 -242h0M666 -228h0M671 -295h0M667 -235h0M672 -227h0M663 -322h0M671 -171h0M673 -257h0M672 -318h0M671 -247h0M663 -259h0M692 -218h0M691 -167h0M690 -185h0M689 -129h0M689 -248h0M692 -138h0M693 -131h0M689 -254h0M706 -160h0M706 -225h0M704 -157h0M720 -234h0M720 -165h0M722 -213h0M722 -210h0M740 -353h0M750 -301h0M623 -321h0M639 -175h0M655 -266h0M651 -307h0M633 -430h0M632 -189h0M627 -443h0M613 -135h0M631 -89h0M613 -447h0M621 -323h0M612 -236h0M615 -86h0M680 -200h0M619 -263h0M644 -238h0M636 -264h0M656 -328h0M655 -255h0M656 -149h0M656 -184h0M649 -314h0M636 -288h0M631 -216h0"/>
<path id="mFH2" vector-effect="non-scaling-stroke" d="M463 -285h0M463 -269h0M464 -293h0M462 -318h0M464 -270h0M462 -273h0M463 -312h0M502 -175h0M504 -190h0M503 -175h0M503 -221h0M502 -183h0M533 -177h0M534 -162h0M537 -236h0M537 -164h0M535 -206h0M536 -246h0M535 -257h0M535 -174h0M537 -199h0M536 -278h0M536 -284h0M535 -208h0M534 -203h0M551 -337h0M551 -365h0M555 -146h0M569 -144h0M569 -157h0M566 -165h0M577 -338h0M576 -354h0M577 -145h0M577 -168h0M596 -92h0M596 -59h0M597 -89h0M597 -44h0M595 -150h0M595 -67h0M595 -110h0M603 -499h0M602 -377h0M602 -544h0M603 -431h0M603 -399h0M602 -455h0M602 -498h0M602 -172h0M604 -154h0M613 -467h0M613 -517h0M612 -368h0M613 -559h0M612 -323h0M614 -470h0M623 -194h0M623 -332h0M630 -132h0M622 -239h0M623 -250h0M622 -230h0M631 -309h0M622 -110h0M622 -318h0M632 -115h0M621 -58h0M622 -80h0M623 -135h0M622 -270h0M631 -160h0M632 -198h0M652 -362h0M649 -326h0M649 -409h0M651 -426h0M651 -501h0M649 -519h0M653 -342h0M653 -459h0M672 -435h0M672 -265h0M667 -229h0M662 -510h0M663 -472h0M661 -540h0M673 -500h0M661 -500h0M662 -192h0M667 -350h0M666 -354h0M661 -455h0M663 -111h0M666 -268h0M671 -370h0M673 -291h0M666 -537h0M662 -410h0M667 -410h0M662 -342h0M673 -466h0M661 -270h0M663 -316h0M666 -338h0M661 -151h0M671 -216h0M672 -154h0M663 -187h0M662 -271h0M667 -154h0M672 -325h0M662 -239h0M663 -229h0M661 -315h0M662 -274h0M689 -268h0M692 -245h0M693 -228h0M690 -234h0M690 -263h0M706 -217h0M704 -229h0M705 -201h0M706 -164h0M720 -180h0M722 -162h0M720 -220h0M721 -225h0M722 -239h0M720 -211h0M584 -133h0M612 -442h0M643 -426h0M591 -230h0M679 -396h0M669 -355h0M657 -436h0M648 -382h0M617 -184h0M604 -291h0M667 -222h0M655 -310h0M632 -198h0M679 -282h0M679 -152h0M656 -312h0M650 -165h0M662 -281h0"/>
<path id="mFH3" vector-effect="non-scaling-stroke" d="M462 -291h0M464 -300h0M464 -332h0M462 -331h0M464 -314h0M479 -154h0M503 -202h0M504 -244h0M500 -188h0M503 -197h0M501 -175h0M502 -132h0M502 -217h0M503 -141h0M500 -150h0M500 -327h0M502 -281h0M534 -173h0M534 -175h0M536 -261h0M550 -353h0M550 -388h0M550 -376h0M551 -313h0M554 -110h0M568 -127h0M567 -136h0M565 -166h0M566 -182h0M567 -140h0M579 -343h0M577 -329h0M580 -357h0M579 -35h0M577 -100h0M578 -71h0M595 -61h0M597 -132h0M596 -100h0M596 -64h0M597 -121h0M602 -536h0M604 -432h0M602 -485h0M604 -450h0M604 -432h0M603 -485h0M603 -173h0M613 -548h0M614 -403h0M612 -416h0M612 -367h0M632 -178h0M623 -175h0M632 -122h0M622 -263h0M623 -198h0M632 -214h0M622 -101h0M623 -297h0M621 -149h0M621 -260h0M632 -147h0M622 -326h0M651 -461h0M653 -466h0M650 -451h0M650 -519h0M652 -463h0M649 -348h0M652 -344h0M666 -356h0M662 -434h0M672 -354h0M661 -458h0M673 -376h0M672 -421h0M673 -197h0M672 -445h0M672 -441h0M661 -466h0M666 -237h0M673 -279h0M662 -277h0M663 -227h0M667 -264h0M671 -105h0M672 -525h0M666 -73h0M672 -410h0M662 -477h0M672 -202h0M661 -162h0M667 -280h0M663 -334h0M671 -251h0M673 -227h0M671 -322h0M661 -281h0M667 -293h0M667 -192h0M666 -160h0M672 -271h0M667 -153h0M673 -306h0M667 -160h0M666 -337h0M673 -261h0M672 -272h0M661 -162h0M661 -320h0M667 -174h0M667 -234h0M673 -246h0M672 -243h0M666 -304h0M667 -256h0M661 -276h0M692 -149h0M693 -163h0M692 -187h0M691 -268h0M690 -153h0M689 -215h0M689 -132h0M704 -154h0M721 -213h0M722 -188h0M721 -222h0M722 -174h0M721 -223h0M739 -330h0M752 -317h0M744 -352h0M581 -271h0M681 -99h0M621 -138h0M660 -378h0M589 -279h0M671 -266h0M637 -377h0M605 -115h0M660 -91h0M616 -277h0M649 -184h0M639 -168h0M601 -305h0M604 -422h0M605 -315h0M664 -258h0M600 -294h0M642 -279h0M681 -166h0M654 -307h0M680 -242h0M642 -230h0M662 -349h0M656 -270h0M630 -140h0"/>
<path id="mFH4" vector-effect="non-scaling-stroke" d="M463 -328h0M464 -298h0M463 -320h0M462 -313h0M503 -175h0M504 -210h0M501 -180h0M500 -128h0M504 -186h0M534 -215h0M535 -280h0M536 -214h0M535 -262h0M537 -264h0M533 -171h0M536 -267h0M535 -184h0M535 -173h0M551 -308h0M550 -344h0M552 -311h0M578 -362h0M579 -377h0M578 -337h0M577 -326h0M576 -349h0M579 -306h0M578 -88h0M579 -129h0M595 -62h0M596 -115h0M595 -131h0M595 -146h0M602 -447h0M602 -566h0M604 -426h0M603 -422h0M613 -476h0M614 -517h0M614 -446h0M613 -525h0M613 -402h0M631 -179h0M623 -290h0M632 -70h0M622 -210h0M631 -279h0M623 -289h0M622 -58h0M631 -168h0M623 -174h0M630 -59h0M623 -172h0M632 -244h0M631 -311h0M622 -217h0M632 -287h0M631 -53h0M623 -142h0M623 -255h0M622 -108h0M632 -238h0M623 -270h0M621 -59h0M622 -144h0M651 -414h0M652 -422h0M652 -402h0M649 -346h0M653 -459h0M651 -372h0M652 -369h0M650 -398h0M651 -423h0M652 -461h0M672 -86h0M661 -471h0M662 -240h0M662 -231h0M672 -408h0M672 -473h0M672 -430h0M671 -495h0M673 -441h0M666 -474h0M673 -531h0M661 -458h0M662 -74h0M672 -417h0M666 -434h0M662 -291h0M672 -111h0M666 -430h0M673 -430h0M662 -171h0M673 -275h0M666 -216h0M667 -209h0M662 -286h0M663 -336h0M672 -278h0M661 -232h0M672 -329h0M666 -164h0M667 -335h0M672 -213h0M663 -312h0M673 -334h0M667 -208h0M662 -306h0M662 -180h0M693 -207h0M692 -215h0M692 -234h0M693 -169h0M704 -171h0M722 -180h0M721 -181h0M721 -211h0M634 -83h0M666 -268h0M617 -445h0M659 -249h0M677 -413h0M669 -402h0M601 -207h0M659 -164h0M667 -451h0M629 -148h0M670 -244h0M659 -244h0M680 -254h0M631 -245h0M631 -329h0M680 -236h0M637 -158h0M668 -115h0M637 -343h0M631 -303h0M631 -333h0M637 -322h0"/>
<path id="mFH5" vector-effect="non-scaling-stroke" d="M462 -299h0M464 -282h0M463 -279h0M464 -311h0M501 -234h0M503 -186h0M501 -200h0M502 -229h0M500 -238h0M503 -212h0M503 -213h0M503 -288h0M536 -231h0M535 -250h0M534 -249h0M549 -311h0M551 -358h0M556 -167h0M567 -134h0M567 -127h0M567 -169h0M568 -162h0M566 -173h0M579 -383h0M578 -372h0M577 -361h0M576 -361h0M577 -198h0M578 -54h0M577 -111h0M580 -96h0M595 -29h0M595 -92h0M597 -100h0M595 -52h0M597 -35h0M596 -44h0M596 -148h0M597 -69h0M596 -91h0M603 -420h0M602 -372h0M604 -553h0M602 -367h0M604 -419h0M602 -562h0M602 -375h0M602 -511h0M603 -206h0M612 -430h0M614 -329h0M612 -385h0M613 -349h0M612 -424h0M631 -99h0M623 -299h0M622 -88h0M623 -217h0M622 -330h0M623 -330h0M631 -84h0M623 -129h0M631 -61h0M622 -150h0M623 -276h0M622 -312h0M631 -226h0M623 -80h0M632 -294h0M632 -227h0M623 -125h0M623 -232h0M622 -82h0M623 -155h0M631 -329h0M649 -407h0M652 -476h0M673 -447h0M673 -535h0M666 -208h0M673 -349h0M673 -471h0M661 -501h0M662 -254h0M663 -534h0M672 -115h0M662 -255h0M672 -512h0M663 -432h0M661 -509h0M662 -508h0M668 -394h0M661 -174h0M671 -126h0M667 -239h0M662 -91h0M673 -277h0M663 -416h0M672 -253h0M661 -287h0M661 -236h0M672 -158h0M673 -318h0M673 -226h0M672 -281h0M672 -318h0M672 -223h0M662 -214h0M672 -153h0M666 -265h0M673 -316h0M671 -287h0M673 -299h0M671 -319h0M673 -262h0M662 -270h0M663 -335h0M671 -277h0M673 -277h0M673 -309h0M672 -184h0M667 -236h0M673 -335h0M672 -299h0M661 -245h0M689 -255h0M690 -194h0M692 -218h0M690 -143h0M689 -132h0M692 -249h0M691 -268h0M693 -163h0M690 -250h0M704 -178h0M706 -216h0M721 -214h0M721 -160h0M744 -316h0M741 -293h0M740 -332h0M589 -205h0M573 -379h0M671 -400h0M683 -333h0M672 -253h0M624 -274h0M664 -102h0M661 -302h0M662 -414h0M640 -248h0M666 -444h0M637 -407h0M640 -412h0M641 -447h0M600 -267h0M619 -422h0M650 -158h0M675 -345h0"/>
<path id="mFH6" vector-effect="non-scaling-stroke" d="M464 -325h0M463 -303h0M464 -332h0M463 -321h0M463 -269h0M463 -314h0M463 -313h0M478 -161h0M504 -220h0M501 -198h0M502 -215h0M501 -125h0M502 -233h0M502 -241h0M504 -143h0M501 -122h0M503 -255h0M503 -316h0M534 -247h0M535 -183h0M534 -168h0M552 -303h0M552 -340h0M552 -348h0M551 -317h0M569 -141h0M577 -386h0M577 -338h0M578 -342h0M578 -42h0M577 -150h0M576 -39h0M579 -118h0M597 -130h0M597 -105h0M597 -55h0M597 -128h0M597 -84h0M596 -31h0M602 -448h0M603 -434h0M604 -427h0M603 -447h0M602 -558h0M614 -459h0M612 -397h0M613 -529h0M613 -457h0M614 -558h0M612 -368h0M623 -230h0M632 -260h0M623 -294h0M623 -213h0M623 -150h0M623 -107h0M631 -93h0M631 -119h0M623 -262h0M631 -158h0M631 -72h0M622 -87h0M623 -231h0M631 -92h0M621 -152h0M631 -322h0M623 -146h0M653 -439h0M650 -493h0M651 -489h0M650 -387h0M653 -407h0M651 -459h0M650 -365h0M666 -365h0M662 -216h0M662 -100h0M663 -441h0M666 -518h0M666 -427h0M673 -420h0M672 -488h0M662 -212h0M662 -146h0M662 -183h0M663 -431h0M671 -266h0M672 -258h0M662 -172h0M672 -173h0M671 -153h0M672 -325h0M662 -285h0M666 -192h0M662 -325h0M667 -187h0M661 -289h0M663 -175h0M672 -170h0M662 -223h0M672 -306h0M672 -170h0M661 -163h0M667 -193h0M672 -305h0M673 -252h0M661 -190h0M667 -191h0M663 -236h0M690 -241h0M692 -243h0M692 -166h0M691 -258h0M706 -229h0M706 -218h0M722 -206h0M720 -241h0M721 -176h0M721 -184h0M751 -307h0M745 -319h0M741 -316h0M617 -218h0M608 -339h0M662 -254h0M582 -153h0M602 -349h0M641 -129h0M618 -206h0M657 -90h0M675 -316h0M630 -202h0M634 -213h0M620 -107h0M626 -112h0M674 -444h0M634 -330h0M667 -360h0M644 -231h0M636 -380h0M679 -118h0M677 -316h0M632 -194h0M652 -145h0M620 -81h0M639 -235h0M673 -170h0M650 -284h0M668 -275h0M655 -154h0M662 -276h0M662 -172h0M637 -307h0M662 -231h0M655 -195h0M681 -340h0M655 -285h0M655 -329h0"/>
<path id="mFH7" vector-effect="non-scaling-stroke" d="M463 -318h0M464 -304h0M464 -281h0M464 -270h0M500 -200h0M502 -193h0M502 -245h0M502 -193h0M536 -223h0M536 -206h0M537 -277h0M536 -243h0M535 -166h0M550 -362h0M551 -345h0M550 -305h0M551 -361h0M553 -387h0M550 -372h0M551 -380h0M568 -174h0M567 -141h0M569 -155h0M566 -155h0M567 -129h0M566 -131h0M567 -120h0M578 -375h0M578 -369h0M578 -307h0M577 -41h0M579 -137h0M578 -48h0M578 -159h0M576 -163h0M596 -30h0M596 -67h0M597 -71h0M595 -59h0M602 -384h0M602 -499h0M603 -458h0M604 -426h0M603 -517h0M603 -444h0M614 -374h0M612 -360h0M612 -494h0M612 -392h0M623 -224h0M623 -279h0M631 -107h0M631 -157h0M632 -320h0M631 -166h0M621 -337h0M623 -296h0M623 -183h0M632 -188h0M623 -321h0M622 -271h0M622 -335h0M622 -146h0M631 -182h0M631 -229h0M623 -179h0M622 -123h0M632 -112h0M650 -390h0M651 -438h0M653 -392h0M651 -376h0M652 -499h0M653 -331h0M652 -344h0M652 -338h0M662 -363h0M663 -429h0M667 -369h0M666 -485h0M673 -131h0M662 -175h0M662 -181h0M673 -488h0M672 -326h0M666 -221h0M662 -191h0M672 -189h0M671 -75h0M662 -420h0M672 -442h0M672 -391h0M666 -191h0M667 -412h0M666 -205h0M661 -120h0M666 -315h0M672 -278h0M667 -235h0M672 -163h0M672 -314h0M671 -161h0M665 -210h0M672 -171h0M673 -151h0M666 -232h0M667 -229h0M671 -313h0M690 -140h0M693 -232h0M692 -136h0M692 -235h0M690 -209h0M690 -201h0M693 -151h0M704 -189h0M705 -207h0M705 -194h0M705 -219h0M706 -211h0M722 -236h0M720 -180h0M739 -294h0M751 -324h0M622 -154h0M585 -421h0M680 -163h0M594 -260h0M660 -342h0M632 -114h0M654 -453h0M606 -458h0M606 -132h0M679 -90h0M679 -144h0M633 -434h0M629 -376h0M634 -175h0M613 -346h0M631 -205h0M655 -161h0M668 -161h0M630 -237h0M661 -265h0M638 -219h0M649 -316h0M656 -163h0"/>
<path id="mFH8" vector-effect="non-scaling-stroke" d="M464 -326h0M462 -288h0M464 -335h0M501 -244h0M501 -246h0M501 -220h0M503 -237h0M501 -201h0M500 -205h0M502 -240h0M501 -134h0M503 -320h0M536 -197h0M536 -227h0M536 -282h0M537 -187h0M536 -264h0M553 -351h0M553 -311h0M549 -322h0M552 -341h0M553 -322h0M552 -314h0M551 -310h0M553 -381h0M550 -349h0M565 -182h0M568 -166h0M567 -151h0M576 -301h0M577 -300h0M580 -48h0M595 -65h0M597 -90h0M596 -143h0M597 -35h0M596 -112h0M595 -117h0M597 -35h0M596 -119h0M597 -124h0M603 -435h0M603 -543h0M602 -466h0M602 -543h0M603 -501h0M604 -505h0M604 -515h0M604 -173h0M602 -171h0M604 -162h0M613 -530h0M614 -480h0M613 -540h0M612 -404h0M613 -528h0M633 -110h0M621 -91h0M623 -149h0M623 -222h0M632 -236h0M623 -297h0M623 -142h0M631 -287h0M632 -297h0M623 -135h0M631 -230h0M632 -232h0M623 -125h0M630 -215h0M622 -303h0M631 -144h0M621 -229h0M631 -308h0M623 -60h0M622 -59h0M633 -311h0M631 -222h0M622 -331h0M649 -325h0M649 -444h0M649 -436h0M671 -409h0M661 -465h0M673 -396h0M672 -229h0M673 -295h0M666 -228h0M662 -85h0M667 -256h0M672 -211h0M661 -355h0M662 -473h0M672 -198h0M672 -384h0M667 -131h0M673 -191h0M667 -267h0M666 -221h0M662 -340h0M673 -315h0M672 -166h0M673 -293h0M671 -207h0M672 -214h0M673 -327h0M673 -271h0M667 -292h0M662 -262h0M672 -337h0M671 -219h0M663 -258h0M662 -283h0M662 -179h0M690 -157h0M689 -250h0M689 -223h0M692 -162h0M705 -176h0M704 -188h0M706 -211h0M706 -186h0M706 -203h0M721 -186h0M722 -244h0M721 -170h0M720 -206h0M721 -184h0M741 -331h0M674 -271h0M579 -449h0M588 -105h0M648 -218h0M623 -432h0M664 -98h0M668 -163h0M606 -359h0M666 -316h0M630 -89h0M642 -375h0M646 -240h0M668 -192h0M619 -391h0M620 -182h0M612 -335h0M654 -246h0M668 -188h0M605 -302h0M602 -194h0M637 -133h0M668 -110h0M679 -160h0M669 -273h0M679 -302h0M680 -119h0M643 -110h0M643 -249h0"/>
<path id="mFH9" vector-effect="non-scaling-stroke" d="M464 -318h0M462 -331h0M462 -313h0M463 -284h0M479 -158h0M504 -225h0M502 -157h0M501 -178h0M503 -201h0M501 -140h0M504 -211h0M501 -127h0M500 -196h0M504 -181h0M503 -203h0M502 -234h0M501 -150h0M501 -263h0M534 -195h0M533 -226h0M536 -272h0M536 -168h0M536 -283h0M550 -311h0M550 -387h0M553 -336h0M552 -381h0M552 -336h0M550 -334h0M549 -368h0M549 -307h0M553 -313h0M552 -311h0M552 -309h0M554 -166h0M557 -110h0M568 -142h0M567 -133h0M576 -380h0M578 -359h0M577 -325h0M580 -78h0M580 -80h0M578 -133h0M597 -131h0M596 -28h0M597 -68h0M595 -92h0M597 -101h0M597 -72h0M604 -461h0M604 -501h0M603 -392h0M602 -359h0M614 -372h0M614 -455h0M612 -477h0M613 -370h0M613 -505h0M613 -354h0M622 -169h0M623 -330h0M621 -317h0M623 -70h0M621 -137h0M621 -312h0M632 -285h0M631 -312h0M632 -61h0M632 -254h0M623 -297h0M623 -171h0M623 -340h0M623 -221h0M632 -266h0M652 -497h0M649 -354h0M649 -342h0M652 -427h0M650 -488h0M651 -363h0M662 -479h0M666 -104h0M667 -192h0M672 -487h0M667 -170h0M666 -140h0M662 -443h0M672 -523h0M673 -222h0M668 -190h0M661 -538h0M663 -343h0M662 -423h0M672 -252h0M661 -324h0M671 -200h0M672 -496h0M673 -441h0M672 -316h0M662 -317h0M663 -207h0M671 -257h0M668 -244h0M661 -199h0M673 -339h0M673 -259h0M673 -257h0M673 -170h0M662 -158h0M666 -297h0M666 -173h0M673 -275h0M673 -210h0M663 -323h0M667 -154h0M662 -245h0M662 -258h0M661 -216h0M671 -320h0M662 -265h0M692 -201h0M692 -242h0M689 -237h0M690 -258h0M690 -248h0M690 -152h0M705 -171h0M721 -198h0M722 -197h0M721 -238h0M720 -165h0M739 -356h0M574 -364h0M682 -388h0M578 -183h0M606 -392h0M669 -358h0M647 -269h0M675 -353h0M663 -382h0M611 -108h0M627 -166h0M677 -154h0M633 -295h0M667 -371h0M640 -429h0M613 -170h0M605 -332h0M613 -126h0M620 -296h0M613 -412h0M678 -455h0M678 -152h0M668 -236h0M631 -324h0M630 -169h0M637 -252h0M638 -301h0M632 -190h0M661 -123h0M643 -307h0M631 -201h0M679 -153h0"/>
<path id="mFH10" vector-effect="non-scaling-stroke" d="M462 -321h0M463 -278h0M500 -217h0M502 -190h0M501 -211h0M502 -126h0M501 -287h0M536 -282h0M535 -284h0M534 -219h0M549 -305h0M549 -376h0M550 -341h0M550 -318h0M550 -352h0M550 -329h0M566 -133h0M568 -168h0M568 -174h0M566 -121h0M576 -341h0M579 -369h0M576 -355h0M596 -57h0M597 -66h0M595 -33h0M595 -58h0M596 -32h0M596 -128h0M597 -99h0M602 -424h0M604 -482h0M603 -515h0M604 -507h0M604 -473h0M602 -182h0M603 -189h0M612 -356h0M613 -369h0M612 -522h0M614 -415h0M613 -325h0M612 -548h0M631 -209h0M622 -333h0M623 -342h0M623 -270h0M622 -134h0M621 -335h0M632 -113h0M622 -107h0M621 -264h0M621 -315h0M631 -313h0M623 -149h0M630 -321h0M621 -162h0M622 -197h0M630 -262h0M650 -516h0M649 -448h0M650 -475h0M652 -461h0M650 -377h0M662 -110h0M672 -543h0M666 -527h0M673 -537h0M662 -536h0M671 -395h0M662 -117h0M672 -222h0M661 -366h0M672 -433h0M661 -443h0M671 -155h0M673 -541h0M673 -368h0M662 -118h0M672 -254h0M662 -274h0M673 -213h0M662 -283h0M661 -183h0M661 -324h0M661 -172h0M673 -155h0M666 -196h0M666 -226h0M666 -206h0M671 -329h0M673 -219h0M663 -273h0M667 -202h0M667 -208h0M661 -334h0M663 -191h0M672 -277h0M671 -186h0M673 -166h0M663 -273h0M662 -314h0M672 -200h0M665 -288h0M667 -299h0M672 -314h0M661 -159h0M662 -160h0M662 -180h0M672 -230h0M672 -170h0M673 -324h0M693 -264h0M690 -238h0M690 -146h0M693 -132h0M704 -194h0M706 -170h0M706 -195h0M706 -226h0M704 -223h0M705 -165h0M705 -195h0M720 -155h0M720 -206h0M721 -201h0M720 -161h0M752 -291h0M688 -253h0M580 -184h0M586 -86h0M607 -380h0M610 -351h0M659 -87h0M629 -375h0M659 -171h0M624 -360h0M642 -383h0M605 -281h0M609 -122h0M639 -325h0M603 -351h0M627 -144h0M650 -456h0M641 -391h0M616 -372h0M627 -278h0M629 -260h0M661 -448h0M664 -213h0M641 -159h0M645 -356h0M638 -373h0M647 -200h0M660 -98h0M666 -370h0M615 -310h0M608 -265h0M654 -280h0M681 -115h0M674 -277h0M662 -159h0M631 -344h0M676 -112h0M650 -234h0"/>
<path id="mFH11" vector-effect="non-scaling-stroke" d="M462 -323h0M462 -333h0M462 -271h0M464 -331h0M463 -324h0M462 -325h0M463 -291h0M464 -303h0M478 -139h0M503 -196h0M504 -169h0M500 -212h0M503 -148h0M502 -129h0M501 -191h0M500 -139h0M502 -180h0M501 -177h0M501 -258h0M536 -253h0M536 -169h0M535 -187h0M535 -252h0M533 -175h0M551 -354h0M551 -367h0M551 -306h0M549 -342h0M553 -319h0M568 -124h0M568 -152h0M578 -137h0M597 -125h0M595 -122h0M595 -25h0M596 -138h0M597 -154h0M597 -137h0M603 -369h0M602 -452h0M602 -522h0M603 -507h0M603 -383h0M612 -398h0M613 -438h0M613 -532h0M612 -369h0M612 -462h0M612 -478h0M622 -165h0M623 -100h0M631 -326h0M622 -145h0M631 -315h0M622 -109h0M623 -83h0M621 -209h0M631 -142h0M632 -253h0M623 -239h0M622 -205h0M631 -119h0M631 -108h0M622 -297h0M622 -61h0M632 -140h0M632 -212h0M621 -197h0M622 -52h0M631 -147h0M632 -189h0M622 -280h0M632 -70h0M622 -233h0M631 -231h0M631 -205h0M652 -404h0M650 -383h0M651 -418h0M650 -341h0M651 -321h0M653 -451h0M652 -496h0M651 -510h0M672 -288h0M662 -114h0M662 -410h0M662 -394h0M662 -419h0M662 -291h0M672 -121h0M665 -227h0M673 -96h0M665 -379h0M662 -263h0M663 -424h0M662 -385h0M661 -68h0M662 -463h0M663 -542h0M672 -482h0M671 -132h0M673 -502h0M666 -524h0M662 -400h0M667 -147h0M662 -170h0M672 -228h0M662 -227h0M661 -248h0M666 -275h0M666 -181h0M662 -201h0M661 -292h0M672 -151h0M663 -312h0M667 -176h0M672 -230h0M671 -231h0M672 -273h0M661 -211h0M673 -266h0M667 -340h0M662 -154h0M673 -246h0M673 -232h0M690 -254h0M692 -154h0M691 -245h0M691 -136h0M691 -220h0M705 -217h0M705 -203h0M704 -166h0M704 -200h0M705 -227h0M705 -216h0M705 -167h0M722 -212h0M722 -224h0M721 -205h0M722 -220h0M722 -221h0M752 -348h0M632 -152h0M666 -216h0M631 -245h0M620 -255h0M658 -438h0M623 -169h0M624 -321h0M626 -353h0M623 -458h0M609 -392h0M625 -342h0M676 -382h0M667 -179h0M662 -124h0M636 -276h0M630 -237h0M656 -172h0M631 -156h0M636 -294h0M643 -264h0M656 -218h0M656 -315h0M668 -212h0M631 -110h0"/>
<path id="mFH12" vector-effect="non-scaling-stroke" d="M462 -329h0M464 -275h0M462 -320h0M463 -315h0M463 -311h0M479 -163h0M502 -163h0M503 -124h0M501 -156h0M501 -126h0M502 -188h0M504 -197h0M501 -135h0M503 -307h0M536 -280h0M537 -186h0M533 -200h0M534 -240h0M534 -241h0M535 -214h0M535 -243h0M533 -168h0M535 -283h0M533 -257h0M551 -315h0M555 -138h0M566 -180h0M567 -180h0M567 -160h0M577 -376h0M577 -366h0M576 -314h0M580 -355h0M595 -158h0M597 -123h0M596 -62h0M596 -120h0M597 -120h0M595 -134h0M596 -69h0M597 -147h0M603 -424h0M602 -445h0M602 -542h0M603 -419h0M603 -484h0M603 -536h0M603 -463h0M603 -179h0M614 -349h0M614 -362h0M613 -398h0M612 -423h0M614 -468h0M632 -228h0M621 -86h0M631 -118h0M632 -294h0M622 -57h0M632 -258h0M623 -102h0M621 -304h0M631 -52h0M622 -281h0M622 -191h0M631 -232h0M621 -303h0M622 -285h0M623 -241h0M622 -336h0M623 -119h0M651 -402h0M650 -354h0M649 -386h0M653 -447h0M649 -459h0M662 -384h0M667 -194h0M661 -101h0M672 -235h0M672 -410h0M661 -214h0M663 -155h0M661 -99h0M662 -228h0M672 -456h0M662 -388h0M662 -285h0M672 -482h0M663 -498h0M671 -234h0M663 -328h0M672 -242h0M667 -315h0M673 -204h0M663 -240h0M673 -330h0M663 -170h0M672 -157h0M673 -164h0M666 -234h0M667 -157h0M663 -300h0M666 -155h0M667 -156h0M667 -320h0M673 -327h0M690 -178h0M692 -163h0M690 -270h0M692 -149h0M691 -160h0M690 -227h0M692 -238h0M705 -196h0M705 -190h0M705 -185h0M705 -169h0M704 -222h0M720 -245h0M720 -160h0M720 -241h0M744 -321h0M751 -297h0M740 -308h0M635 -130h0M663 -337h0M645 -394h0M592 -332h0M640 -317h0M638 -162h0M676 -353h0M613 -411h0M657 -396h0M624 -178h0M618 -168h0M672 -441h0M673 -374h0M643 -215h0M638 -417h0M603 -88h0M655 -206h0M649 -309h0M642 -223h0M668 -256h0"/>
<path id="mFH13" vector-effect="non-scaling-stroke" d="M462 -329h0M462 -334h0M463 -320h0M479 -185h0M501 -196h0M503 -129h0M502 -126h0M501 -168h0M504 -205h0M501 -169h0M501 -206h0M533 -182h0M535 -182h0M536 -171h0M534 -254h0M550 -380h0M569 -150h0M567 -161h0M579 -361h0M580 -364h0M577 -360h0M577 -62h0M595 -25h0M595 -149h0M596 -108h0M595 -91h0M596 -97h0M596 -24h0M595 -66h0M604 -488h0M603 -450h0M612 -535h0M612 -304h0M613 -358h0M614 -351h0M613 -312h0M613 -430h0M614 -490h0M613 -401h0M612 -465h0M621 -340h0M631 -71h0M623 -135h0M632 -150h0M623 -190h0M632 -116h0M623 -270h0M623 -292h0M631 -268h0M623 -338h0M621 -107h0M622 -298h0M653 -449h0M650 -501h0M649 -393h0M650 -378h0M653 -497h0M650 -484h0M652 -324h0M662 -533h0M672 -306h0M662 -170h0M673 -303h0M673 -390h0M673 -422h0M661 -456h0M667 -185h0M673 -516h0M667 -541h0M667 -396h0M662 -191h0M666 -447h0M666 -207h0M662 -488h0M666 -378h0M668 -147h0M672 -169h0M673 -282h0M673 -254h0M673 -212h0M673 -246h0M666 -308h0M672 -214h0M673 -194h0M672 -324h0M662 -216h0M673 -325h0M667 -328h0M661 -190h0M663 -151h0M671 -276h0M667 -197h0M672 -297h0M690 -230h0M690 -201h0M690 -201h0M690 -164h0M689 -163h0M691 -191h0M720 -226h0M722 -154h0M721 -241h0M722 -240h0M722 -227h0M720 -155h0M745 -352h0M745 -302h0M674 -388h0M575 -447h0M656 -335h0M641 -110h0M679 -359h0M610 -99h0M614 -335h0M649 -122h0M616 -453h0M677 -96h0M636 -211h0M608 -183h0M608 -119h0M644 -90h0M669 -249h0M612 -83h0M608 -187h0M642 -299h0M669 -272h0M675 -175h0M656 -171h0M642 -323h0M680 -241h0M668 -121h0M655 -238h0M674 -178h0M675 -130h0M636 -164h0M669 -238h0"/>
<path id="mFA0" vector-effect="non-scaling-stroke" d="M556 -387h0"/>
<path id="mFA1" vector-effect="non-scaling-stroke" d="M554 -255h0M604 -392h0M608 -236h0M608 -378h0M563 -159h0M545 -382h0"/>
<path id="mFA2" vector-effect="non-scaling-stroke" d="M526 -250h0M592 -387h0"/>
<path id="mFA3" vector-effect="non-scaling-stroke" d="M585 -336h0M607 -326h0M555 -362h0"/>
<path id="mFA4" vector-effect="non-scaling-stroke" d="M581 -385h0"/>
<path id="mFA5" vector-effect="non-scaling-stroke" d="M435 -461h0M567 -375h0M550 -282h0"/>
<path id="mFA6" vector-effect="non-scaling-stroke" d="M556 -220h0M582 -435h0"/>
<path id="mFA7" vector-effect="non-scaling-stroke" d="M565 -411h0M596 -320h0M590 -314h0M590 -231h0"/>
<path id="mFA8" vector-effect="non-scaling-stroke" d="M529 -212h0M585 -209h0"/>
<path id="mFA9" vector-effect="non-scaling-stroke" d="M603 -363h0M601 -211h0M597 -201h0"/>
<path id="mFA10" vector-effect="non-scaling-stroke" d="M435 -451h0M559 -392h0"/>
<path id="mFA11" vector-effect="non-scaling-stroke" d="M546 -400h0M578 -229h0M561 -339h0"/>
<path id="mFA12" vector-effect="non-scaling-stroke" d="M572 -400h0M518 -262h0M577 -401h0M559 -262h0M608 -200h0M525 -283h0"/>
<path id="mFA13" vector-effect="non-scaling-stroke" d="M565 -285h0M573 -336h0"/>
<path id="mTA0" vector-effect="non-scaling-stroke" d="M432 -301h0M431 -298h0M432 -354h0M432 -325h0M473 -468h0M474 -392h0M543 -416h0M546 -487h0M543 -383h0M569 -428h0M569 -301h0M567 -272h0M569 -462h0M571 -419h0M634 -278h0M634 -258h0M640 -296h0M640 -267h0M640 -341h0M639 -332h0M633 -400h0M633 -344h0M640 -387h0M633 -427h0M639 -336h0M627 -277h0M632 -445h0M641 -314h0M639 -312h0M686 -336h0M672 -316h0M684 -369h0M685 -286h0M679 -434h0M658 -274h0M666 -258h0M685 -303h0M678 -379h0M673 -275h0M678 -449h0M684 -349h0M677 -316h0M685 -288h0M672 -321h0M685 -302h0M677 -254h0M658 -381h0M673 -320h0M686 -423h0M671 -311h0M658 -275h0M672 -430h0M672 -288h0M678 -430h0M678 -362h0M678 -420h0M664 -266h0M671 -250h0M664 -266h0M684 -256h0M658 -279h0M679 -365h0M686 -439h0M678 -338h0M672 -267h0M660 -380h0M679 -404h0M679 -432h0M678 -378h0M672 -304h0M678 -305h0M709 -367h0M696 -454h0M690 -423h0M704 -265h0M691 -303h0M690 -330h0M691 -409h0M715 -436h0M695 -285h0M690 -451h0M690 -306h0M690 -434h0M697 -319h0M697 -349h0M690 -232h0M696 -252h0M692 -292h0M696 -256h0M708 -455h0M691 -314h0M692 -265h0M734 -325h0M729 -414h0M748 -402h0M734 -375h0M748 -396h0M734 -334h0M735 -438h0M723 -353h0M735 -430h0M717 -345h0M717 -307h0M730 -352h0M748 -359h0M717 -355h0M747 -434h0M747 -344h0M755 -354h0M766 -361h0M755 -407h0M763 -379h0M756 -427h0M674 -482h0M591 -360h0M684 -391h0M621 -399h0M581 -416h0M544 -317h0M682 -253h0M598 -279h0M690 -282h0M672 -253h0M638 -379h0M671 -289h0M671 -249h0M771 -354h0M583 -332h0M631 -426h0M666 -327h0M760 -323h0M743 -402h0M779 -412h0M739 -359h0M716 -517h0M669 -516h0M473 -244h0M517 -384h0M514 -262h0M495 -381h0M494 -288h0"/>
<path id="mTA1" vector-effect="non-scaling-stroke" d="M431 -316h0M433 -278h0M432 -312h0M473 -434h0M474 -351h0M503 -322h0M503 -314h0M503 -297h0M544 -329h0M569 -457h0M572 -350h0M572 -352h0M571 -404h0M570 -466h0M568 -457h0M568 -421h0M568 -440h0M572 -274h0M568 -425h0M633 -344h0M640 -284h0M639 -272h0M640 -343h0M633 -323h0M626 -304h0M633 -341h0M640 -427h0M634 -267h0M633 -431h0M639 -375h0M666 -390h0M685 -393h0M673 -380h0M673 -415h0M673 -313h0M686 -372h0M672 -326h0M686 -361h0M659 -396h0M678 -326h0M678 -332h0M672 -325h0M665 -374h0M678 -444h0M679 -445h0M658 -425h0M685 -371h0M679 -339h0M678 -411h0M671 -332h0M684 -374h0M666 -432h0M672 -299h0M678 -290h0M671 -406h0M679 -343h0M658 -304h0M658 -363h0M679 -410h0M679 -324h0M658 -282h0M673 -424h0M709 -445h0M715 -344h0M710 -383h0M709 -468h0M703 -355h0M690 -374h0M690 -333h0M696 -290h0M702 -463h0M692 -389h0M691 -357h0M709 -436h0M696 -247h0M691 -318h0M709 -244h0M708 -367h0M691 -436h0M702 -353h0M696 -256h0M709 -328h0M703 -453h0M696 -303h0M696 -354h0M703 -432h0M691 -375h0M691 -272h0M704 -394h0M702 -274h0M690 -395h0M704 -338h0M716 -304h0M748 -392h0M731 -350h0M717 -415h0M715 -393h0M742 -358h0M747 -398h0M743 -342h0M741 -304h0M748 -387h0M717 -361h0M743 -308h0M729 -420h0M742 -437h0M735 -339h0M715 -420h0M742 -392h0M763 -280h0M768 -372h0M772 -436h0M755 -346h0M767 -406h0M756 -387h0M768 -388h0M669 -504h0M661 -551h0M705 -472h0M706 -545h0M690 -231h0M541 -457h0M612 -283h0M545 -287h0M671 -318h0M692 -238h0M697 -390h0M755 -237h0M740 -399h0M564 -472h0M680 -597h0M584 -550h0M465 -397h0M514 -288h0M513 -355h0M514 -383h0M493 -295h0M495 -427h0"/>
<path id="mTA2" vector-effect="non-scaling-stroke" d="M387 -325h0M430 -518h0M435 -325h0M433 -356h0M435 -324h0M475 -349h0M472 -453h0M489 -318h0M545 -217h0M543 -469h0M543 -442h0M544 -455h0M544 -387h0M543 -383h0M542 -416h0M544 -410h0M567 -304h0M634 -370h0M634 -267h0M640 -262h0M633 -275h0M632 -357h0M634 -395h0M626 -310h0M633 -363h0M639 -396h0M639 -292h0M639 -418h0M634 -375h0M633 -326h0M640 -339h0M627 -319h0M634 -421h0M633 -442h0M679 -288h0M679 -382h0M686 -384h0M664 -258h0M671 -387h0M671 -361h0M685 -281h0M665 -301h0M679 -339h0M664 -392h0M659 -416h0M685 -365h0M684 -283h0M659 -404h0M686 -278h0M678 -345h0M665 -391h0M685 -353h0M686 -270h0M659 -307h0M671 -443h0M671 -419h0M671 -441h0M672 -338h0M659 -322h0M672 -322h0M678 -258h0M659 -295h0M666 -262h0M659 -296h0M666 -368h0M673 -422h0M671 -448h0M709 -323h0M690 -455h0M691 -332h0M691 -447h0M708 -295h0M704 -357h0M715 -247h0M717 -366h0M715 -303h0M709 -234h0M697 -304h0M704 -295h0M708 -430h0M697 -395h0M716 -323h0M710 -357h0M691 -408h0M704 -308h0M715 -266h0M697 -336h0M717 -266h0M695 -442h0M717 -337h0M722 -366h0M730 -305h0M722 -310h0M717 -332h0M716 -390h0M723 -321h0M735 -384h0M736 -399h0M736 -344h0M749 -410h0M743 -388h0M748 -426h0M717 -366h0M716 -338h0M734 -372h0M735 -318h0M716 -345h0M741 -371h0M717 -343h0M716 -313h0M772 -419h0M766 -414h0M764 -394h0M773 -345h0M755 -425h0M756 -297h0M762 -385h0M756 -456h0M763 -325h0M767 -347h0M767 -356h0M730 -583h0M563 -372h0M573 -221h0M662 -388h0M690 -359h0M690 -307h0M659 -356h0M624 -232h0M675 -442h0M667 -240h0M648 -355h0M687 -426h0M769 -279h0M718 -444h0M662 -574h0M647 -562h0M471 -357h0M504 -348h0M490 -335h0M497 -429h0M504 -329h0M477 -266h0M516 -298h0M516 -392h0M495 -318h0M496 -446h0"/>
<path id="mTA3" vector-effect="non-scaling-stroke" d="M409 -498h0M434 -358h0M432 -264h0M433 -306h0M432 -314h0M488 -301h0M487 -346h0M490 -352h0M502 -248h0M542 -419h0M542 -294h0M544 -375h0M545 -368h0M571 -292h0M568 -270h0M568 -407h0M570 -358h0M567 -421h0M639 -430h0M633 -294h0M633 -386h0M640 -343h0M639 -324h0M639 -382h0M640 -264h0M634 -293h0M627 -337h0M640 -422h0M627 -424h0M641 -389h0M633 -410h0M627 -285h0M634 -332h0M641 -285h0M633 -339h0M626 -387h0M633 -382h0M672 -397h0M684 -350h0M671 -313h0M672 -357h0M686 -348h0M678 -429h0M658 -274h0M672 -317h0M659 -339h0M678 -302h0M679 -338h0M658 -405h0M685 -359h0M665 -390h0M658 -385h0M673 -396h0M685 -361h0M660 -258h0M658 -393h0M679 -372h0M678 -415h0M685 -259h0M666 -301h0M685 -422h0M679 -251h0M658 -397h0M677 -288h0M686 -377h0M671 -305h0M686 -347h0M673 -349h0M686 -260h0M692 -259h0M695 -462h0M691 -365h0M690 -368h0M697 -249h0M690 -264h0M709 -394h0M715 -398h0M690 -455h0M709 -381h0M704 -243h0M709 -419h0M690 -397h0M690 -349h0M716 -253h0M704 -343h0M715 -458h0M695 -372h0M736 -356h0M717 -304h0M741 -396h0M716 -330h0M735 -402h0M743 -411h0M729 -311h0M729 -415h0M742 -406h0M742 -432h0M735 -361h0M735 -310h0M747 -387h0M735 -350h0M716 -382h0M763 -381h0M768 -323h0M762 -371h0M763 -425h0M767 -426h0M690 -514h0M614 -301h0M671 -255h0M615 -359h0M618 -335h0M745 -235h0M625 -500h0M685 -500h0M609 -474h0M508 -248h0M513 -428h0M516 -353h0M497 -424h0"/>
<path id="mTA4" vector-effect="non-scaling-stroke" d="M350 -325h0M410 -411h0M434 -304h0M432 -343h0M431 -301h0M473 -325h0M475 -437h0M543 -301h0M545 -276h0M545 -343h0M542 -398h0M567 -334h0M569 -451h0M568 -346h0M571 -326h0M639 -442h0M633 -384h0M627 -454h0M634 -434h0M633 -423h0M639 -290h0M633 -352h0M633 -450h0M627 -332h0M634 -456h0M640 -290h0M626 -308h0M640 -271h0M640 -357h0M641 -404h0M634 -395h0M633 -373h0M633 -344h0M660 -440h0M673 -290h0M678 -266h0M658 -296h0M672 -337h0M678 -367h0M685 -357h0M665 -445h0M666 -309h0M671 -270h0M686 -381h0M671 -400h0M678 -385h0M658 -261h0M679 -368h0M659 -334h0M671 -276h0M672 -263h0M666 -289h0M666 -315h0M671 -449h0M672 -299h0M678 -306h0M678 -384h0M686 -251h0M673 -349h0M686 -355h0M666 -263h0M685 -292h0M679 -341h0M672 -429h0M685 -392h0M666 -363h0M673 -271h0M658 -336h0M690 -347h0M710 -376h0M692 -373h0M691 -365h0M704 -349h0M703 -235h0M696 -346h0M690 -331h0M690 -353h0M704 -397h0M704 -286h0M704 -323h0M703 -267h0M695 -365h0M709 -332h0M716 -418h0M704 -412h0M709 -401h0M690 -416h0M708 -468h0M703 -466h0M715 -353h0M710 -453h0M704 -337h0M697 -329h0M691 -374h0M691 -278h0M730 -350h0M734 -415h0M742 -301h0M722 -380h0M734 -439h0M724 -381h0M730 -410h0M747 -376h0M729 -329h0M748 -399h0M716 -422h0M724 -378h0M734 -427h0M742 -311h0M749 -312h0M735 -411h0M749 -329h0M747 -364h0M729 -428h0M748 -385h0M722 -310h0M755 -401h0M756 -402h0M767 -416h0M768 -392h0M762 -435h0M756 -277h0M756 -364h0M666 -593h0M586 -221h0M547 -398h0M546 -426h0M568 -360h0M608 -284h0M552 -234h0M599 -453h0M664 -350h0M588 -404h0M671 -308h0M554 -312h0M725 -316h0M763 -235h0M740 -257h0M767 -358h0M567 -367h0M765 -445h0M638 -324h0M689 -460h0M756 -420h0M691 -406h0M682 -310h0M485 -407h0M464 -407h0M497 -352h0M484 -245h0M473 -318h0M516 -388h0M513 -288h0"/>
<path id="mTA5" vector-effect="non-scaling-stroke" d="M432 -281h0M431 -318h0M435 -277h0M433 -265h0M431 -274h0M488 -334h0M490 -313h0M504 -325h0M545 -513h0M545 -336h0M543 -325h0M543 -407h0M545 -427h0M571 -417h0M567 -383h0M572 -373h0M570 -279h0M568 -269h0M571 -334h0M567 -385h0M567 -397h0M571 -301h0M634 -269h0M641 -339h0M639 -423h0M641 -383h0M639 -296h0M634 -280h0M634 -327h0M627 -278h0M640 -403h0M626 -340h0M633 -282h0M626 -388h0M640 -321h0M633 -346h0M627 -280h0M633 -261h0M627 -396h0M625 -258h0M627 -262h0M665 -300h0M671 -324h0M666 -295h0M679 -410h0M685 -397h0M665 -429h0M678 -445h0M665 -272h0M679 -291h0M679 -281h0M685 -432h0M679 -279h0M659 -376h0M685 -299h0M672 -390h0M678 -397h0M665 -384h0M665 -250h0M686 -426h0M660 -374h0M685 -319h0M658 -293h0M672 -427h0M672 -412h0M684 -314h0M673 -373h0M665 -274h0M673 -251h0M685 -257h0M684 -273h0M686 -362h0M677 -403h0M672 -427h0M671 -300h0M666 -258h0M672 -420h0M684 -350h0M665 -289h0M659 -399h0M677 -286h0M672 -425h0M665 -383h0M686 -335h0M692 -294h0M690 -401h0M696 -238h0M708 -304h0M691 -274h0M709 -267h0M702 -240h0M709 -389h0M709 -261h0M691 -276h0M690 -323h0M690 -328h0M715 -300h0M709 -358h0M690 -312h0M716 -231h0M708 -447h0M747 -320h0M742 -380h0M743 -305h0M723 -355h0M735 -374h0M742 -349h0M743 -380h0M735 -384h0M742 -419h0M724 -342h0M735 -399h0M717 -332h0M742 -428h0M715 -421h0M741 -314h0M723 -437h0M763 -422h0M755 -263h0M762 -321h0M772 -264h0M767 -368h0M755 -318h0M762 -418h0M767 -454h0M726 -541h0M579 -290h0M562 -355h0M558 -335h0M708 -358h0M617 -427h0M763 -453h0M563 -264h0M762 -297h0M580 -393h0M758 -279h0M756 -252h0M602 -291h0M668 -293h0M572 -399h0M640 -278h0M554 -247h0M678 -494h0M578 -594h0M497 -308h0M515 -369h0M514 -403h0M497 -398h0M493 -314h0"/>
<path id="mTA6" vector-effect="non-scaling-stroke" d="M351 -288h0M390 -329h0M432 -385h0M432 -309h0M431 -292h0M435 -352h0M432 -319h0M433 -281h0M473 -456h0M502 -233h0M545 -238h0M545 -401h0M570 -320h0M571 -480h0M571 -462h0M634 -412h0M632 -395h0M626 -408h0M633 -317h0M634 -416h0M625 -345h0M639 -381h0M633 -273h0M640 -405h0M626 -379h0M639 -314h0M639 -272h0M634 -299h0M640 -312h0M634 -341h0M672 -275h0M658 -443h0M685 -390h0M686 -426h0M679 -312h0M679 -342h0M686 -411h0M666 -384h0M684 -285h0M686 -285h0M684 -264h0M684 -325h0M659 -334h0M659 -307h0M659 -408h0M672 -425h0M678 -253h0M665 -425h0M659 -338h0M685 -291h0M666 -272h0M659 -350h0M658 -385h0M659 -269h0M686 -427h0M665 -371h0M671 -424h0M685 -295h0M666 -441h0M679 -372h0M658 -386h0M665 -364h0M685 -347h0M665 -290h0M685 -446h0M684 -293h0M691 -294h0M697 -279h0M704 -443h0M690 -310h0M708 -249h0M717 -393h0M692 -409h0M696 -469h0M715 -448h0M690 -245h0M691 -375h0M691 -413h0M703 -337h0M703 -396h0M691 -465h0M710 -338h0M692 -250h0M709 -283h0M708 -399h0M716 -419h0M692 -266h0M709 -284h0M690 -254h0M703 -304h0M696 -422h0M716 -310h0M716 -236h0M697 -469h0M691 -346h0M715 -314h0M723 -414h0M748 -408h0M748 -327h0M736 -405h0M734 -367h0M747 -359h0M730 -317h0M747 -395h0M735 -335h0M717 -428h0M716 -352h0M741 -351h0M729 -305h0M747 -342h0M773 -441h0M755 -299h0M756 -330h0M588 -259h0M688 -384h0M626 -426h0M554 -365h0M646 -448h0M664 -278h0M774 -377h0M696 -258h0M614 -352h0M546 -547h0M604 -593h0M478 -411h0M489 -416h0M515 -418h0M514 -368h0M514 -383h0"/>
<path id="mTA7" vector-effect="non-scaling-stroke" d="M348 -326h0M351 -291h0M434 -289h0M433 -375h0M434 -290h0M431 -308h0M431 -290h0M432 -343h0M433 -300h0M473 -448h0M545 -296h0M543 -383h0M568 -383h0M567 -418h0M570 -395h0M566 -317h0M640 -401h0M634 -384h0M634 -296h0M641 -375h0M640 -324h0M639 -270h0M639 -433h0M633 -258h0M632 -266h0M639 -298h0M633 -368h0M634 -303h0M633 -371h0M627 -384h0M632 -337h0M639 -315h0M634 -378h0M639 -419h0M640 -387h0M634 -429h0M633 -304h0M625 -280h0M633 -312h0M672 -449h0M684 -281h0M658 -362h0M684 -412h0M671 -355h0M678 -366h0M678 -442h0M671 -350h0M673 -270h0M671 -348h0M658 -294h0M672 -351h0M686 -321h0M671 -439h0M666 -435h0M679 -346h0M665 -393h0M665 -447h0M677 -261h0M678 -364h0M685 -374h0M686 -330h0M673 -278h0M673 -259h0M684 -256h0M665 -329h0M673 -381h0M685 -429h0M672 -274h0M684 -387h0M672 -335h0M673 -388h0M686 -317h0M678 -346h0M672 -293h0M658 -431h0M684 -353h0M678 -264h0M677 -376h0M658 -324h0M678 -320h0M678 -434h0M666 -427h0M685 -347h0M666 -445h0M685 -355h0M664 -285h0M658 -277h0M659 -350h0M679 -385h0M690 -258h0M697 -367h0M692 -273h0M708 -429h0M704 -321h0M716 -339h0M715 -246h0M697 -430h0M690 -280h0M715 -458h0M704 -258h0M691 -456h0M697 -317h0M702 -459h0M692 -361h0M703 -444h0M697 -307h0M697 -268h0M716 -263h0M696 -349h0M690 -428h0M696 -415h0M696 -235h0M696 -307h0M723 -379h0M717 -411h0M747 -320h0M730 -382h0M723 -343h0M743 -440h0M723 -357h0M743 -377h0M748 -311h0M742 -312h0M716 -416h0M742 -405h0M717 -307h0M724 -312h0M735 -389h0M748 -345h0M748 -419h0M747 -437h0M742 -307h0M736 -431h0M756 -291h0M774 -449h0M767 -426h0M767 -384h0M755 -469h0M697 -552h0M557 -248h0M600 -305h0M660 -342h0M646 -449h0M674 -393h0M651 -291h0M725 -339h0M685 -424h0M628 -443h0M739 -304h0M478 -336h0M484 -362h0M517 -288h0M516 -247h0M496 -400h0M494 -306h0"/>
<path id="mTA8" vector-effect="non-scaling-stroke" d="M349 -321h0M387 -312h0M433 -316h0M472 -450h0M488 -318h0M545 -425h0M544 -264h0M542 -516h0M542 -388h0M544 -415h0M545 -422h0M545 -383h0M545 -380h0M544 -376h0M572 -376h0M569 -301h0M639 -438h0M639 -343h0M633 -375h0M633 -325h0M640 -397h0M633 -283h0M639 -443h0M633 -404h0M640 -375h0M625 -422h0M627 -333h0M634 -431h0M640 -283h0M633 -446h0M640 -408h0M639 -375h0M640 -349h0M640 -281h0M639 -350h0M634 -424h0M626 -280h0M627 -364h0M665 -289h0M671 -381h0M665 -256h0M685 -348h0M685 -398h0M660 -273h0M685 -346h0M685 -355h0M679 -356h0M679 -448h0M671 -353h0M677 -388h0M686 -382h0M684 -428h0M686 -420h0M678 -292h0M685 -278h0M684 -260h0M664 -324h0M659 -337h0M685 -273h0M673 -398h0M672 -289h0M671 -405h0M672 -385h0M658 -404h0M673 -285h0M659 -435h0M677 -386h0M678 -327h0M685 -375h0M659 -308h0M684 -290h0M671 -373h0M659 -289h0M684 -392h0M666 -265h0M685 -322h0M673 -259h0M686 -375h0M678 -338h0M665 -406h0M660 -325h0M671 -280h0M677 -286h0M671 -407h0M686 -393h0M665 -395h0M686 -428h0M709 -351h0M696 -444h0M703 -337h0M690 -389h0M691 -248h0M704 -442h0M691 -299h0M690 -450h0M690 -331h0M696 -409h0M695 -415h0M689 -450h0M692 -314h0M690 -417h0M691 -366h0M715 -333h0M697 -308h0M691 -260h0M696 -415h0M709 -285h0M695 -269h0M722 -358h0M723 -306h0M742 -384h0M743 -431h0M730 -339h0M741 -323h0M742 -382h0M723 -309h0M742 -382h0M742 -409h0M716 -420h0M743 -407h0M741 -422h0M716 -360h0M742 -373h0M716 -417h0M747 -301h0M716 -368h0M735 -338h0M735 -384h0M735 -359h0M734 -378h0M729 -325h0M723 -393h0M730 -345h0M716 -335h0M717 -427h0M773 -336h0M773 -322h0M762 -255h0M755 -365h0M756 -367h0M756 -304h0M756 -323h0M767 -326h0M575 -236h0M688 -258h0M545 -407h0M543 -415h0M576 -306h0M672 -286h0M555 -389h0M545 -437h0M744 -425h0M778 -302h0M737 -434h0M643 -432h0M691 -431h0M699 -267h0M603 -347h0M759 -295h0M733 -451h0M705 -518h0M473 -259h0M502 -458h0M514 -367h0M485 -416h0M483 -411h0M496 -320h0"/>
<path id="mTA9" vector-effect="non-scaling-stroke" d="M430 -456h0M435 -321h0M433 -400h0M472 -382h0M502 -254h0M544 -295h0M546 -445h0M544 -342h0M543 -428h0M545 -410h0M542 -365h0M545 -376h0M566 -423h0M567 -324h0M570 -382h0M571 -329h0M570 -336h0M571 -338h0M633 -302h0M640 -455h0M626 -396h0M633 -263h0M640 -279h0M634 -264h0M634 -288h0M627 -383h0M641 -444h0M640 -432h0M625 -394h0M639 -341h0M686 -355h0M659 -339h0M679 -390h0M679 -421h0M673 -350h0M658 -293h0M678 -417h0M665 -282h0M665 -388h0M672 -352h0M672 -330h0M672 -383h0M686 -328h0M678 -402h0M685 -448h0M672 -316h0M672 -353h0M685 -299h0M658 -309h0M672 -291h0M658 -440h0M658 -442h0M672 -338h0M684 -292h0M679 -416h0M685 -293h0M666 -266h0M673 -263h0M679 -371h0M685 -268h0M660 -429h0M679 -408h0M686 -339h0M685 -440h0M678 -383h0M658 -383h0M666 -295h0M696 -403h0M717 -386h0M703 -258h0M691 -320h0M691 -233h0M704 -364h0M691 -307h0M696 -370h0M708 -399h0M690 -422h0M690 -252h0M709 -346h0M715 -426h0M703 -236h0M708 -367h0M692 -401h0M691 -255h0M695 -298h0M690 -245h0M716 -426h0M708 -414h0M709 -356h0M692 -318h0M690 -322h0M695 -394h0M690 -234h0M697 -347h0M708 -468h0M708 -445h0M735 -337h0M734 -332h0M748 -335h0M716 -433h0M734 -397h0M723 -350h0M716 -385h0M730 -414h0M715 -391h0M735 -400h0M736 -378h0M748 -387h0M749 -410h0M741 -390h0M741 -332h0M735 -429h0M715 -381h0M734 -418h0M767 -455h0M763 -366h0M768 -362h0M767 -441h0M768 -391h0M763 -307h0M748 -535h0M637 -448h0M611 -276h0M647 -303h0M548 -277h0M641 -403h0M620 -332h0M588 -304h0M689 -316h0M558 -363h0M730 -244h0M547 -300h0M712 -439h0M637 -267h0M559 -400h0M756 -444h0M633 -406h0M772 -289h0M676 -422h0M777 -259h0M766 -595h0M503 -397h0M471 -443h0M484 -400h0M504 -346h0M515 -339h0"/>
<path id="mTA10" vector-effect="non-scaling-stroke" d="M351 -323h0M433 -307h0M433 -330h0M433 -390h0M472 -411h0M486 -358h0M504 -312h0M545 -253h0M542 -244h0M545 -444h0M543 -400h0M545 -376h0M544 -382h0M567 -338h0M572 -328h0M568 -314h0M567 -468h0M572 -309h0M569 -341h0M570 -308h0M627 -333h0M640 -440h0M634 -441h0M634 -267h0M640 -356h0M634 -255h0M626 -392h0M634 -454h0M639 -443h0M640 -380h0M633 -332h0M640 -265h0M640 -262h0M634 -312h0M633 -420h0M639 -401h0M671 -319h0M679 -442h0M686 -301h0M666 -446h0M673 -285h0M678 -433h0M684 -290h0M665 -393h0M671 -349h0M679 -385h0M659 -256h0M671 -355h0M659 -318h0M677 -362h0M666 -255h0M685 -428h0M673 -324h0M679 -376h0M686 -403h0M685 -276h0M686 -356h0M672 -397h0M684 -365h0M678 -395h0M666 -394h0M685 -403h0M678 -443h0M679 -437h0M666 -301h0M686 -286h0M678 -312h0M672 -257h0M678 -449h0M658 -430h0M659 -342h0M686 -307h0M658 -441h0M672 -436h0M665 -347h0M666 -424h0M672 -254h0M686 -342h0M677 -344h0M685 -365h0M658 -276h0M691 -366h0M691 -257h0M691 -468h0M709 -284h0M703 -240h0M704 -269h0M691 -232h0M709 -243h0M709 -318h0M709 -265h0M695 -267h0M709 -402h0M715 -423h0M704 -464h0M690 -445h0M717 -305h0M729 -359h0M748 -364h0M729 -429h0M748 -406h0M729 -322h0M717 -332h0M734 -301h0M730 -316h0M716 -307h0M716 -352h0M742 -338h0M723 -433h0M768 -277h0M763 -320h0M756 -467h0M762 -362h0M672 -569h0M714 -556h0M558 -305h0M546 -223h0M645 -351h0M656 -284h0M708 -317h0M576 -454h0M610 -378h0M611 -443h0M646 -459h0M580 -496h0M649 -475h0M568 -525h0M503 -405h0M516 -294h0M516 -386h0M514 -340h0M495 -352h0"/>
<path id="mTA11" vector-effect="non-scaling-stroke" d="M411 -463h0M435 -272h0M431 -291h0M435 -369h0M433 -370h0M432 -391h0M474 -307h0M505 -335h0M502 -241h0M544 -258h0M543 -378h0M572 -472h0M567 -339h0M568 -297h0M571 -403h0M570 -406h0M568 -390h0M569 -299h0M570 -327h0M569 -391h0M639 -327h0M640 -372h0M634 -266h0M639 -437h0M640 -292h0M633 -257h0M633 -338h0M639 -366h0M634 -307h0M639 -271h0M639 -440h0M625 -354h0M626 -448h0M633 -329h0M639 -345h0M626 -367h0M633 -444h0M633 -407h0M633 -273h0M639 -362h0M640 -309h0M641 -307h0M639 -442h0M679 -275h0M665 -367h0M672 -304h0M673 -350h0M666 -390h0M679 -281h0M671 -352h0M659 -375h0M679 -378h0M671 -392h0M678 -396h0M659 -306h0M679 -283h0M671 -397h0M685 -385h0M679 -373h0M671 -316h0M671 -373h0M677 -447h0M678 -368h0M666 -304h0M666 -381h0M665 -340h0M672 -369h0M679 -402h0M666 -365h0M673 -447h0M671 -350h0M685 -285h0M664 -405h0M672 -391h0M666 -413h0M659 -387h0M672 -440h0M672 -428h0M678 -305h0M685 -409h0M659 -267h0M658 -409h0M677 -263h0M672 -357h0M658 -282h0M666 -306h0M665 -313h0M659 -264h0M665 -307h0M659 -347h0M658 -334h0M658 -287h0M685 -274h0M684 -344h0M685 -345h0M672 -424h0M673 -447h0M697 -324h0M696 -462h0M709 -448h0M691 -467h0M690 -426h0M692 -429h0M696 -423h0M690 -375h0M690 -452h0M697 -260h0M691 -247h0M697 -468h0M709 -341h0M690 -390h0M715 -281h0M690 -349h0M715 -299h0M696 -310h0M704 -262h0M717 -367h0M691 -424h0M730 -381h0M747 -426h0M734 -439h0M742 -302h0M742 -358h0M717 -372h0M729 -432h0M741 -374h0M735 -338h0M729 -432h0M742 -301h0M742 -434h0M717 -323h0M748 -434h0M748 -357h0M748 -408h0M743 -385h0M747 -313h0M742 -388h0M763 -320h0M773 -283h0M767 -438h0M754 -405h0M763 -445h0M747 -505h0M715 -477h0M550 -232h0M681 -335h0M660 -455h0M698 -283h0M662 -430h0M602 -397h0M650 -311h0M573 -387h0M551 -268h0M547 -255h0M748 -395h0M584 -333h0M611 -452h0M734 -516h0M701 -553h0M483 -236h0M509 -331h0M515 -364h0"/>
<path id="mTA12" vector-effect="non-scaling-stroke" d="M348 -286h0M349 -303h0M433 -317h0M432 -324h0M435 -270h0M432 -396h0M431 -276h0M431 -368h0M431 -359h0M433 -349h0M434 -298h0M432 -338h0M474 -384h0M486 -313h0M505 -240h0M503 -337h0M544 -315h0M544 -364h0M545 -500h0M545 -421h0M544 -236h0M545 -379h0M566 -353h0M571 -308h0M568 -391h0M569 -465h0M570 -404h0M566 -421h0M641 -445h0M634 -288h0M640 -281h0M634 -420h0M633 -262h0M634 -258h0M634 -418h0M633 -345h0M640 -363h0M634 -342h0M633 -454h0M634 -258h0M640 -359h0M634 -305h0M640 -407h0M640 -433h0M634 -402h0M686 -325h0M672 -426h0M686 -434h0M659 -307h0M685 -309h0M666 -380h0M671 -444h0M678 -437h0M678 -280h0M665 -417h0M679 -403h0M678 -370h0M659 -260h0M672 -332h0M677 -291h0M678 -446h0M672 -297h0M686 -373h0M679 -425h0M672 -382h0M666 -433h0M678 -269h0M671 -341h0M659 -310h0M658 -414h0M672 -423h0M679 -368h0M671 -425h0M671 -404h0M666 -346h0M666 -317h0M677 -391h0M660 -413h0M671 -411h0M666 -253h0M686 -372h0M686 -392h0M679 -422h0M686 -428h0M671 -382h0M671 -399h0M685 -340h0M658 -372h0M685 -418h0M691 -385h0M708 -308h0M697 -248h0M696 -361h0M715 -447h0M690 -310h0M704 -371h0M696 -346h0M690 -416h0M696 -389h0M716 -355h0M690 -284h0M691 -394h0M690 -470h0M716 -266h0M691 -241h0M697 -319h0M691 -315h0M696 -276h0M708 -458h0M742 -351h0M748 -362h0M717 -378h0M717 -427h0M734 -374h0M724 -307h0M723 -314h0M729 -393h0M742 -414h0M747 -410h0M748 -327h0M731 -432h0M724 -341h0M748 -329h0M717 -341h0M748 -425h0M748 -343h0M735 -321h0M729 -422h0M730 -351h0M766 -283h0M756 -286h0M763 -409h0M713 -594h0M682 -467h0M630 -245h0M697 -380h0M611 -372h0M707 -428h0M659 -340h0M565 -451h0M557 -276h0M726 -367h0M773 -237h0M568 -447h0M636 -403h0M685 -389h0M688 -394h0M602 -567h0M612 -571h0M508 -317h0M496 -300h0M494 -314h0M496 -311h0"/>
<path id="mTA13" vector-effect="non-scaling-stroke" d="M390 -312h0M416 -492h0M432 -298h0M431 -284h0M434 -290h0M433 -295h0M544 -522h0M542 -415h0M544 -425h0M544 -422h0M543 -380h0M542 -404h0M544 -375h0M545 -369h0M544 -376h0M570 -360h0M568 -300h0M566 -264h0M568 -290h0M639 -426h0M641 -448h0M627 -390h0M632 -283h0M640 -382h0M626 -329h0M634 -380h0M641 -379h0M627 -409h0M634 -381h0M641 -289h0M632 -314h0M633 -368h0M627 -352h0M625 -456h0M633 -326h0M640 -412h0M641 -271h0M634 -311h0M634 -269h0M626 -320h0M640 -278h0M634 -350h0M640 -296h0M641 -368h0M627 -427h0M633 -324h0M640 -303h0M679 -299h0M666 -267h0M685 -324h0M684 -381h0M671 -422h0M671 -368h0M672 -409h0M685 -302h0M684 -289h0M673 -443h0M673 -449h0M685 -426h0M659 -285h0M684 -270h0M672 -447h0M678 -389h0M679 -332h0M685 -393h0M684 -371h0M658 -347h0M673 -425h0M679 -432h0M671 -345h0M685 -287h0M671 -446h0M658 -419h0M673 -369h0M678 -291h0M665 -271h0M671 -264h0M673 -388h0M678 -436h0M685 -430h0M684 -341h0M686 -358h0M686 -252h0M686 -424h0M678 -432h0M703 -282h0M695 -456h0M697 -432h0M690 -356h0M691 -271h0M691 -259h0M690 -332h0M691 -345h0M716 -278h0M697 -248h0M716 -240h0M715 -346h0M691 -283h0M715 -362h0M708 -359h0M692 -363h0M709 -433h0M691 -407h0M690 -462h0M695 -237h0M742 -343h0M730 -301h0M735 -372h0M742 -439h0M748 -334h0M716 -366h0M748 -418h0M723 -331h0M748 -412h0M722 -413h0M735 -310h0M724 -360h0M747 -328h0M741 -373h0M736 -352h0M748 -387h0M749 -418h0M717 -315h0M762 -290h0M763 -463h0M764 -404h0M755 -262h0M756 -253h0M699 -598h0M614 -258h0M694 -245h0M756 -363h0M677 -267h0M622 -357h0M741 -332h0M689 -426h0M542 -345h0M733 -568h0M466 -354h0M504 -258h0M517 -439h0M483 -254h0M517 -350h0M493 -305h0M496 -419h0"/>
<path id="mTH0" vector-effect="non-scaling-stroke" d="M433 -165h0M435 -152h0M435 -303h0M434 -408h0M433 -396h0M433 -256h0M434 -271h0M434 -385h0M435 -401h0M549 -262h0M549 -222h0M630 -439h0M631 -412h0M631 -305h0M670 -257h0M669 -183h0M671 -191h0M672 -219h0M672 -205h0M726 -298h0M729 -428h0"/>
<path id="mTH1" vector-effect="non-scaling-stroke" d="M433 -179h0M433 -332h0M434 -296h0M433 -349h0M434 -340h0M549 -232h0M629 -422h0M630 -283h0M631 -304h0M672 -194h0M673 -240h0M669 -176h0M671 -204h0M672 -181h0M672 -228h0M671 -198h0M728 -241h0"/>
<path id="mTH2" vector-effect="non-scaling-stroke" d="M434 -121h0M433 -111h0M435 -198h0M434 -114h0M435 -415h0M434 -448h0M433 -276h0M548 -217h0M547 -239h0M628 -328h0M628 -274h0M630 -347h0M669 -224h0M671 -269h0M673 -221h0M671 -217h0M669 -254h0M669 -246h0M672 -253h0M726 -234h0M728 -285h0M727 -399h0M727 -259h0M728 -391h0M728 -187h0"/>
<path id="mTH3" vector-effect="non-scaling-stroke" d="M433 -179h0M434 -174h0M435 -323h0M547 -244h0M549 -205h0M630 -339h0M628 -381h0M627 -426h0M672 -193h0M671 -252h0M670 -257h0M670 -245h0M673 -240h0M669 -223h0M670 -228h0M670 -298h0M670 -308h0M729 -302h0M728 -356h0M728 -255h0"/>
<path id="mTH4" vector-effect="non-scaling-stroke" d="M434 -168h0M435 -400h0M433 -259h0M435 -419h0M547 -204h0M631 -286h0M630 -384h0M673 -268h0M669 -202h0M670 -261h0M671 -360h0M726 -299h0M727 -200h0M726 -243h0M727 -238h0"/>
<path id="mTH5" vector-effect="non-scaling-stroke" d="M435 -130h0M435 -160h0M435 -335h0M547 -216h0M630 -370h0M630 -352h0M630 -268h0M629 -427h0M630 -300h0M671 -238h0M672 -207h0M671 -179h0M670 -256h0M673 -183h0M670 -245h0M672 -180h0M672 -238h0M670 -258h0M672 -201h0M672 -194h0M670 -258h0M670 -341h0M671 -314h0M728 -324h0"/>
<path id="mTH6" vector-effect="non-scaling-stroke" d="M433 -338h0M434 -389h0M433 -308h0M435 -343h0M548 -225h0M629 -367h0M627 -395h0M628 -347h0M629 -422h0M629 -300h0M627 -309h0M629 -312h0M671 -176h0M673 -211h0M673 -228h0M670 -275h0M669 -242h0M670 -383h0M670 -372h0M670 -321h0M728 -303h0"/>
<path id="mTH7" vector-effect="non-scaling-stroke" d="M433 -169h0M433 -420h0M434 -348h0M549 -257h0M631 -298h0M628 -387h0M631 -275h0M630 -420h0M629 -311h0M629 -407h0M672 -193h0M672 -260h0M669 -185h0M670 -193h0M672 -200h0M672 -258h0M670 -307h0M672 -326h0M728 -349h0M726 -247h0M727 -184h0"/>
<path id="mTH8" vector-effect="non-scaling-stroke" d="M435 -141h0M435 -192h0M435 -398h0M434 -281h0M433 -411h0M547 -211h0M547 -228h0M548 -217h0M631 -392h0M629 -391h0M673 -254h0M671 -274h0M670 -234h0M671 -186h0M673 -199h0M671 -177h0M670 -244h0M672 -260h0M672 -385h0M725 -361h0M726 -438h0"/>
<path id="mTH9" vector-effect="non-scaling-stroke" d="M629 -308h0M631 -334h0M630 -388h0M631 -366h0M672 -272h0M673 -246h0M672 -234h0M672 -176h0M673 -243h0M672 -262h0M671 -266h0M671 -335h0M670 -346h0M673 -302h0M671 -354h0M672 -385h0M728 -183h0M728 -206h0M728 -351h0M727 -246h0M725 -312h0"/>
<path id="mTH10" vector-effect="non-scaling-stroke" d="M434 -186h0M434 -285h0M434 -381h0M548 -206h0M548 -261h0M629 -319h0M630 -315h0M629 -369h0M673 -223h0M669 -234h0M672 -203h0M670 -196h0M671 -192h0M672 -196h0M673 -251h0M729 -251h0M727 -329h0M729 -255h0"/>
<path id="mTH11" vector-effect="non-scaling-stroke" d="M434 -139h0M433 -285h0M435 -294h0M434 -324h0M435 -411h0M628 -323h0M629 -425h0M673 -217h0M672 -220h0M673 -212h0M670 -185h0M673 -186h0M671 -393h0M728 -254h0M726 -264h0M725 -329h0M728 -379h0M726 -287h0"/>
<path id="mTH12" vector-effect="non-scaling-stroke" d="M434 -140h0M435 -138h0M433 -336h0M434 -301h0M673 -189h0M673 -229h0M671 -180h0M672 -278h0M670 -266h0M670 -284h0M669 -371h0M671 -341h0M725 -374h0M726 -418h0M729 -199h0M726 -305h0M729 -253h0M726 -200h0"/>
<path id="mTH13" vector-effect="non-scaling-stroke" d="M433 -124h0M435 -171h0M434 -423h0M435 -439h0M548 -278h0M549 -213h0M629 -359h0M629 -306h0M672 -205h0M672 -252h0M670 -218h0M670 -251h0M669 -180h0M672 -260h0M670 -331h0M671 -358h0M727 -288h0M726 -434h0M726 -238h0"/><rect id="mk0" x="459.5" y="-330.0" width="7.0" height="58.0"/>
<rect id="mk1" x="498.5" y="-242.0" width="7.0" height="117.0"/>
<rect id="mk2" x="531.5" y="-282.0" width="7.0" height="117.0"/>
<rect id="mk3" x="547.5" y="-386.0" width="7.0" height="78.0"/>
<rect id="mk4" x="563.5" y="-180.0" width="7.0" height="55.0"/>
<rect id="mk5" x="574.5" y="-385.0" width="7.0" height="80.0"/>
<rect id="mk6" x="592.5" y="-150.0" width="7.0" height="115.0"/>
<rect id="mk7" x="599.5" y="-550.0" width="7.0" height="180.0"/>
<rect id="mk8" x="609.5" y="-540.0" width="7.0" height="230.0"/>
<rect id="mk9" x="623.5" y="-335.0" width="7.0" height="275.0"/>
<rect id="mk10" x="647.5" y="-510.0" width="7.0" height="185.0"/>
<rect id="mk11" x="661.0" y="-450.0" width="12.0" height="370.0"/>
<rect id="mk12" x="687.5" y="-265.0" width="7.0" height="130.0"/>
<rect id="mk13" x="701.5" y="-230.0" width="7.0" height="80.0"/>
<rect id="mk14" x="717.5" y="-242.0" width="7.0" height="84.0"/>
<rect id="mk15" x="430.0" y="-395.0" width="6.0" height="130.0"/>
<rect id="mk16" x="541.0" y="-430.0" width="6.0" height="70.0"/>
<rect id="mk17" x="566.0" y="-460.0" width="6.0" height="190.0"/>
<rect id="mk18" x="626.0" y="-440.0" width="14.0" height="180.0"/>
<rect id="mk19" x="660.0" y="-430.0" width="24.0" height="170.0"/>
<rect id="mk20" x="690.0" y="-420.0" width="20.0" height="160.0"/>
<rect id="mk21" x="718.0" y="-410.0" width="28.0" height="110.0"/>
<rect id="mk22" x="756.0" y="-430.0" width="16.0" height="150.0"/>
<rect id="mk23" x="669.0" y="-270.0" width="4.0" height="85.0"/><clipPath id="cE"><rect x="22.90" y="572.00" width="282.10" height="222.50"/></clipPath><clipPath id="cFF"><rect x="370.90" y="572.20" width="137.40" height="222.30"/></clipPath><clipPath id="cFT"><rect x="515.00" y="572.20" width="137.30" height="222.30"/></clipPath></defs>
<g clip-path="url(#cE)"><g filter="url(#soft)"><g transform="matrix(0.51400,0,0,0.29000,-118.800,785.100)"><use href="#mk15" fill="#DAA520" fill-opacity="0.75"/><use href="#mk16" fill="#DAA520" fill-opacity="0.5"/><use href="#mk17" fill="#DAA520" fill-opacity="0.55"/><use href="#mk18" fill="#DAA520" fill-opacity="0.5"/><use href="#mk19" fill="#DAA520" fill-opacity="0.6"/><use href="#mk20" fill="#DAA520" fill-opacity="0.3"/><use href="#mk21" fill="#DAA520" fill-opacity="0.25"/><use href="#mk22" fill="#DAA520" fill-opacity="0.2"/><use href="#mk23" fill="#DAA520" fill-opacity="0.6"/><use href="#mk0" fill="#00CED1" fill-opacity="0.85"/><use href="#mk1" fill="#00CED1" fill-opacity="0.85"/><use href="#mk2" fill="#00CED1" fill-opacity="0.85"/><use href="#mk3" fill="#00CED1" fill-opacity="0.85"/><use href="#mk4" fill="#00CED1" fill-opacity="0.8"/><use href="#mk5" fill="#00CED1" fill-opacity="0.6"/><use href="#mk6" fill="#00CED1" fill-opacity="0.85"/><use href="#mk7" fill="#00CED1" fill-opacity="0.75"/><use href="#mk8" fill="#00CED1" fill-opacity="0.6"/><use href="#mk9" fill="#00CED1" fill-opacity="0.85"/><use href="#mk10" fill="#00CED1" fill-opacity="0.8"/><use href="#mk11" fill="#00CED1" fill-opacity="0.88"/><use href="#mk12" fill="#00CED1" fill-opacity="0.85"/><use href="#mk13" fill="#00CED1" fill-opacity="0.7"/><use href="#mk14" fill="#00CED1" fill-opacity="0.85"/></g></g><g transform="matrix(0.51400,0,0,0.29000,-118.800,785.100)" fill="none" stroke-width="4.2" stroke-linecap="round" stroke-opacity="0.115"><use href="#mTA0" stroke="#DAA520"/><use href="#mFA0" stroke="#00CED1"/><use href="#mTH0" stroke="#DAA520"/><use href="#mFH0" stroke="#00CED1"/><use href="#mTA1" stroke="#DAA520"/><use href="#mFA1" stroke="#00CED1"/><use href="#mTH1" stroke="#DAA520"/><use href="#mFH1" stroke="#00CED1"/><use href="#mTA2" stroke="#DAA520"/><use href="#mFA2" stroke="#00CED1"/><use href="#mTH2" stroke="#DAA520"/><use href="#mFH2" stroke="#00CED1"/><use href="#mTA3" stroke="#DAA520"/><use href="#mFA3" stroke="#00CED1"/><use href="#mTH3" stroke="#DAA520"/><use href="#mFH3" stroke="#00CED1"/><use href="#mTA4" stroke="#DAA520"/><use href="#mFA4" stroke="#00CED1"/><use href="#mTH4" stroke="#DAA520"/><use href="#mFH4" stroke="#00CED1"/><use href="#mTA5" stroke="#DAA520"/><use href="#mFA5" stroke="#00CED1"/><use href="#mTH5" stroke="#DAA520"/><use href="#mFH5" stroke="#00CED1"/><use href="#mTA6" stroke="#DAA520"/><use href="#mFA6" stroke="#00CED1"/><use href="#mTH6" stroke="#DAA520"/><use href="#mFH6" stroke="#00CED1"/><use href="#mTA7" stroke="#DAA520"/><use href="#mFA7" stroke="#00CED1"/><use href="#mTH7" stroke="#DAA520"/><use href="#mFH7" stroke="#00CED1"/><use href="#mTA8" stroke="#DAA520"/><use href="#mFA8" stroke="#00CED1"/><use href="#mTH8" stroke="#DAA520"/><use href="#mFH8" stroke="#00CED1"/><use href="#mTA9" stroke="#DAA520"/><use href="#mFA9" stroke="#00CED1"/><use href="#mTH9" stroke="#DAA520"/><use href="#mFH9" stroke="#00CED1"/><use href="#mTA10" stroke="#DAA520"/><use href="#mFA10" stroke="#00CED1"/><use href="#mTH10" stroke="#DAA520"/><use href="#mFH10" stroke="#00CED1"/><use href="#mTA11" stroke="#DAA520"/><use href="#mFA11" stroke="#00CED1"/><use href="#mTH11" stroke="#DAA520"/><use href="#mFH11" stroke="#00CED1"/><use href="#mTA12" stroke="#DAA520"/><use href="#mFA12" stroke="#00CED1"/><use href="#mTH12" stroke="#DAA520"/><use href="#mFH12" stroke="#00CED1"/><use href="#mTA13" stroke="#DAA520"/><use href="#mFA13" stroke="#00CED1"/><use href="#mTH13" stroke="#DAA520"/><use href="#mFH13" stroke="#00CED1"/></g></g>
<g clip-path="url(#cFF)"><g><g transform="matrix(0.25200,0,0,0.29000,300.800,785.100)"><use href="#mk0" fill="#008B8B" fill-opacity="0.85"/><use href="#mk1" fill="#008B8B" fill-opacity="0.85"/><use href="#mk2" fill="#008B8B" fill-opacity="0.85"/><use href="#mk3" fill="#008B8B" fill-opacity="0.85"/><use href="#mk4" fill="#008B8B" fill-opacity="0.8"/><use href="#mk5" fill="#008B8B" fill-opacity="0.6"/><use href="#mk6" fill="#008B8B" fill-opacity="0.85"/><use href="#mk7" fill="#008B8B" fill-opacity="0.75"/><use href="#mk8" fill="#008B8B" fill-opacity="0.6"/><use href="#mk9" fill="#008B8B" fill-opacity="0.85"/><use href="#mk10" fill="#008B8B" fill-opacity="0.8"/><use href="#mk11" fill="#008B8B" fill-opacity="0.88"/><use href="#mk12" fill="#008B8B" fill-opacity="0.85"/><use href="#mk13" fill="#008B8B" fill-opacity="0.7"/><use href="#mk14" fill="#008B8B" fill-opacity="0.85"/></g></g><g transform="matrix(0.25200,0,0,0.29000,300.800,785.100)" fill="none" stroke-width="4.2" stroke-linecap="round" stroke-opacity="0.115"><use href="#mFA0" stroke="#00FFFF"/><use href="#mFA1" stroke="#00FFFF"/><use href="#mFA2" stroke="#00FFFF"/><use href="#mFA3" stroke="#00FFFF"/><use href="#mFA4" stroke="#00FFFF"/><use href="#mFA5" stroke="#00FFFF"/><use href="#mFA6" stroke="#00FFFF"/><use href="#mFA7" stroke="#00FFFF"/><use href="#mFA8" stroke="#00FFFF"/><use href="#mFA9" stroke="#00FFFF"/><use href="#mFA10" stroke="#00FFFF"/><use href="#mFA11" stroke="#00FFFF"/><use href="#mFA12" stroke="#00FFFF"/><use href="#mFA13" stroke="#00FFFF"/><use href="#mFH0" stroke="#008B8B"/><use href="#mFH1" stroke="#008B8B"/><use href="#mFH2" stroke="#008B8B"/><use href="#mFH3" stroke="#008B8B"/><use href="#mFH4" stroke="#008B8B"/><use href="#mFH5" stroke="#008B8B"/><use href="#mFH6" stroke="#008B8B"/><use href="#mFH7" stroke="#008B8B"/><use href="#mFH8" stroke="#008B8B"/><use href="#mFH9" stroke="#008B8B"/><use href="#mFH10" stroke="#008B8B"/><use href="#mFH11" stroke="#008B8B"/><use href="#mFH12" stroke="#008B8B"/><use href="#mFH13" stroke="#008B8B"/></g></g>
<g clip-path="url(#cFT)"><g><g transform="matrix(0.25100,0,0,0.29000,445.200,785.100)"><use href="#mk15" fill="#FFC125" fill-opacity="0.75"/><use href="#mk16" fill="#FFC125" fill-opacity="0.5"/><use href="#mk17" fill="#FFC125" fill-opacity="0.55"/><use href="#mk18" fill="#FFC125" fill-opacity="0.5"/><use href="#mk19" fill="#FFC125" fill-opacity="0.6"/><use href="#mk20" fill="#FFC125" fill-opacity="0.3"/><use href="#mk21" fill="#FFC125" fill-opacity="0.25"/><use href="#mk22" fill="#FFC125" fill-opacity="0.2"/><use href="#mk23" fill="#8B6914" fill-opacity="0.6"/></g></g><g transform="matrix(0.25100,0,0,0.29000,445.200,785.100)" fill="none" stroke-width="4.2" stroke-linecap="round" stroke-opacity="0.115"><use href="#mTA0" stroke="#FFC125"/><use href="#mTA1" stroke="#FFC125"/><use href="#mTA2" stroke="#FFC125"/><use href="#mTA3" stroke="#FFC125"/><use href="#mTA4" stroke="#FFC125"/><use href="#mTA5" stroke="#FFC125"/><use href="#mTA6" stroke="#FFC125"/><use href="#mTA7" stroke="#FFC125"/><use href="#mTA8" stroke="#FFC125"/><use href="#mTA9" stroke="#FFC125"/><use href="#mTA10" stroke="#FFC125"/><use href="#mTA11" stroke="#FFC125"/><use href="#mTA12" stroke="#FFC125"/><use href="#mTA13" stroke="#FFC125"/><use href="#mTH0" stroke="#8B6914"/><use href="#mTH1" stroke="#8B6914"/><use href="#mTH2" stroke="#8B6914"/><use href="#mTH3" stroke="#8B6914"/><use href="#mTH4" stroke="#8B6914"/><use href="#mTH5" stroke="#8B6914"/><use href="#mTH6" stroke="#8B6914"/><use href="#mTH7" stroke="#8B6914"/><use href="#mTH8" stroke="#8B6914"/><use href="#mTH9" stroke="#8B6914"/><use href="#mTH10" stroke="#8B6914"/><use href="#mTH11" stroke="#8B6914"/><use href="#mTH12" stroke="#8B6914"/><use href="#mTH13" stroke="#8B6914"/></g></g>
<line x1="35.40" y1="725.94" x2="292.40" y2="684.76" stroke="#00CED1" stroke-width="2.1"/>
<line x1="34.30" y1="694.37" x2="293.50" y2="684.72" stroke="#DAA520" stroke-width="2.2" stroke-dasharray="2.2 6.04"/>
<line x1="376.40" y1="732.61" x2="502.40" y2="685.63" stroke="#008B8B" stroke-width="2.1"/>
<line x1="375.34" y1="719.85" x2="503.46" y2="684.47" stroke="#00FFFF" stroke-width="2.2" stroke-dasharray="2.2 6.04"/>
<line x1="519.40" y1="689.72" x2="647.10" y2="686.47" stroke="#FFC125" stroke-width="2.2" stroke-dasharray="2.2 6.04"/>
<line x1="519.41" y1="698.53" x2="647.09" y2="682.01" stroke="#8B6914" stroke-width="2.2" stroke-dasharray="2.2 6.04"/>
<line x1="40.00" y1="116.80" x2="290.00" y2="95.20" stroke="#A9A9A9" stroke-width="2.1"/>
<line x1="387.50" y1="173.00" x2="637.50" y2="125.80" stroke="#458B00" stroke-width="2.1"/>
<line x1="386.40" y1="60.78" x2="638.60" y2="65.12" stroke="#D2691E" stroke-width="2.2" stroke-dasharray="2.2 6.04"/>
<line x1="40.00" y1="432.40" x2="290.00" y2="399.20" stroke="#00CED1" stroke-width="2.1"/>
<line x1="38.90" y1="410.60" x2="291.10" y2="410.60" stroke="#DAA520" stroke-width="2.2" stroke-dasharray="2.2 6.04"/>
<line x1="381.30" y1="390.00" x2="503.70" y2="377.00" stroke="#008B8B" stroke-width="2.1"/>
<line x1="381.30" y1="474.00" x2="503.70" y2="421.40" stroke="#00FFFF" stroke-width="2.1"/>
<line x1="521.50" y1="455.00" x2="643.90" y2="435.30" stroke="#FFC125" stroke-width="2.1"/>
<line x1="520.41" y1="365.02" x2="644.99" y2="385.78" stroke="#8B6914" stroke-width="2.2" stroke-dasharray="2.2 6.04"/>
<line x1="27.50" y1="0.00" x2="27.50" y2="242.13" stroke="#000" stroke-width="1.07" />
<line x1="24.75" y1="11.40" x2="27.50" y2="11.40" stroke="#000" stroke-width="1.07" />
<text x="22.50" y="14.50" font-size="8.8" fill="#4D4D4D" text-anchor="end">−1</text>
<line x1="24.75" y1="55.25" x2="27.50" y2="55.25" stroke="#000" stroke-width="1.07" />
<text x="22.50" y="58.35" font-size="8.8" fill="#4D4D4D" text-anchor="end">−2</text>
<line x1="24.75" y1="99.10" x2="27.50" y2="99.10" stroke="#000" stroke-width="1.07" />
<text x="22.50" y="102.20" font-size="8.8" fill="#4D4D4D" text-anchor="end">−3</text>
<line x1="24.75" y1="142.95" x2="27.50" y2="142.95" stroke="#000" stroke-width="1.07" />
<text x="22.50" y="146.05" font-size="8.8" fill="#4D4D4D" text-anchor="end">−4</text>
<line x1="24.75" y1="186.80" x2="27.50" y2="186.80" stroke="#000" stroke-width="1.07" />
<text x="22.50" y="189.90" font-size="8.8" fill="#4D4D4D" text-anchor="end">−5</text>
<line x1="24.75" y1="230.65" x2="27.50" y2="230.65" stroke="#000" stroke-width="1.07" />
<text x="22.50" y="233.75" font-size="8.8" fill="#4D4D4D" text-anchor="end">−6</text>
<text transform="translate(8.50,120.80) rotate(-90)" font-size="10.5" fill="#000" text-anchor="middle">logit(N)</text>
<line x1="303.00" y1="0.00" x2="303.00" y2="242.13" stroke="#000" stroke-width="1.07" />
<line x1="303.00" y1="11.40" x2="305.75" y2="11.40" stroke="#000" stroke-width="1.07" />
<text x="307.90" y="14.50" font-size="8.8" fill="#4D4D4D" text-anchor="start">26.9</text>
<line x1="303.00" y1="55.25" x2="305.75" y2="55.25" stroke="#000" stroke-width="1.07" />
<text x="307.90" y="58.35" font-size="8.8" fill="#4D4D4D" text-anchor="start">11.9</text>
<line x1="303.00" y1="99.10" x2="305.75" y2="99.10" stroke="#000" stroke-width="1.07" />
<text x="307.90" y="102.20" font-size="8.8" fill="#4D4D4D" text-anchor="start">4.7</text>
<line x1="303.00" y1="142.95" x2="305.75" y2="142.95" stroke="#000" stroke-width="1.07" />
<text x="307.90" y="146.05" font-size="8.8" fill="#4D4D4D" text-anchor="start">1.8</text>
<line x1="303.00" y1="186.80" x2="305.75" y2="186.80" stroke="#000" stroke-width="1.07" />
<text x="307.90" y="189.90" font-size="8.8" fill="#4D4D4D" text-anchor="start">0.7</text>
<line x1="303.00" y1="230.65" x2="305.75" y2="230.65" stroke="#000" stroke-width="1.07" />
<text x="307.90" y="233.75" font-size="8.8" fill="#4D4D4D" text-anchor="start">0.2</text>
<text transform="translate(329.20,120.80) rotate(90)" font-size="10.5" fill="#000" text-anchor="middle">N (% dry mass)</text>
<line x1="26.96" y1="241.60" x2="303.00" y2="241.60" stroke="#000" stroke-width="1.07" />
<line x1="40.00" y1="241.60" x2="40.00" y2="244.35" stroke="#000" stroke-width="1.07" />
<text x="40.00" y="253.10" font-size="8.8" fill="#4D4D4D" text-anchor="middle">3</text>
<line x1="90.00" y1="241.60" x2="90.00" y2="244.35" stroke="#000" stroke-width="1.07" />
<text x="90.00" y="253.10" font-size="8.8" fill="#4D4D4D" text-anchor="middle">4</text>
<line x1="140.00" y1="241.60" x2="140.00" y2="244.35" stroke="#000" stroke-width="1.07" />
<text x="140.00" y="253.10" font-size="8.8" fill="#4D4D4D" text-anchor="middle">5</text>
<line x1="190.00" y1="241.60" x2="190.00" y2="244.35" stroke="#000" stroke-width="1.07" />
<text x="190.00" y="253.10" font-size="8.8" fill="#4D4D4D" text-anchor="middle">6</text>
<line x1="240.00" y1="241.60" x2="240.00" y2="244.35" stroke="#000" stroke-width="1.07" />
<text x="240.00" y="253.10" font-size="8.8" fill="#4D4D4D" text-anchor="middle">7</text>
<line x1="290.00" y1="241.60" x2="290.00" y2="244.35" stroke="#000" stroke-width="1.07" />
<text x="290.00" y="253.10" font-size="8.8" fill="#4D4D4D" text-anchor="middle">8</text>
<line x1="375.00" y1="0.00" x2="375.00" y2="242.13" stroke="#000" stroke-width="1.07" />
<line x1="372.25" y1="11.40" x2="375.00" y2="11.40" stroke="#000" stroke-width="1.07" />
<text x="370.00" y="14.50" font-size="8.8" fill="#4D4D4D" text-anchor="end">−1</text>
<line x1="372.25" y1="55.25" x2="375.00" y2="55.25" stroke="#000" stroke-width="1.07" />
<text x="370.00" y="58.35" font-size="8.8" fill="#4D4D4D" text-anchor="end">−2</text>
<line x1="372.25" y1="99.10" x2="375.00" y2="99.10" stroke="#000" stroke-width="1.07" />
<text x="370.00" y="102.20" font-size="8.8" fill="#4D4D4D" text-anchor="end">−3</text>
<line x1="372.25" y1="142.95" x2="375.00" y2="142.95" stroke="#000" stroke-width="1.07" />
<text x="370.00" y="146.05" font-size="8.8" fill="#4D4D4D" text-anchor="end">−4</text>
<line x1="372.25" y1="186.80" x2="375.00" y2="186.80" stroke="#000" stroke-width="1.07" />
<text x="370.00" y="189.90" font-size="8.8" fill="#4D4D4D" text-anchor="end">−5</text>
<line x1="372.25" y1="230.65" x2="375.00" y2="230.65" stroke="#000" stroke-width="1.07" />
<text x="370.00" y="233.75" font-size="8.8" fill="#4D4D4D" text-anchor="end">−6</text>
<text transform="translate(356.00,120.80) rotate(-90)" font-size="10.5" fill="#000" text-anchor="middle">logit(N)</text>
<line x1="650.40" y1="0.00" x2="650.40" y2="242.13" stroke="#000" stroke-width="1.07" />
<line x1="650.40" y1="11.40" x2="653.15" y2="11.40" stroke="#000" stroke-width="1.07" />
<text x="655.30" y="14.50" font-size="8.8" fill="#4D4D4D" text-anchor="start">26.9</text>
<line x1="650.40" y1="55.25" x2="653.15" y2="55.25" stroke="#000" stroke-width="1.07" />
<text x="655.30" y="58.35" font-size="8.8" fill="#4D4D4D" text-anchor="start">11.9</text>
<line x1="650.40" y1="99.10" x2="653.15" y2="99.10" stroke="#000" stroke-width="1.07" />
<text x="655.30" y="102.20" font-size="8.8" fill="#4D4D4D" text-anchor="start">4.7</text>
<line x1="650.40" y1="142.95" x2="653.15" y2="142.95" stroke="#000" stroke-width="1.07" />
<text x="655.30" y="146.05" font-size="8.8" fill="#4D4D4D" text-anchor="start">1.8</text>
<line x1="650.40" y1="186.80" x2="653.15" y2="186.80" stroke="#000" stroke-width="1.07" />
<text x="655.30" y="189.90" font-size="8.8" fill="#4D4D4D" text-anchor="start">0.7</text>
<line x1="650.40" y1="230.65" x2="653.15" y2="230.65" stroke="#000" stroke-width="1.07" />
<text x="655.30" y="233.75" font-size="8.8" fill="#4D4D4D" text-anchor="start">0.2</text>
<text transform="translate(676.60,120.80) rotate(90)" font-size="10.5" fill="#000" text-anchor="middle">N (% dry mass)</text>
<line x1="374.46" y1="241.60" x2="650.40" y2="241.60" stroke="#000" stroke-width="1.07" />
<line x1="387.50" y1="241.60" x2="387.50" y2="244.35" stroke="#000" stroke-width="1.07" />
<text x="387.50" y="253.10" font-size="8.8" fill="#4D4D4D" text-anchor="middle">3</text>
<line x1="437.50" y1="241.60" x2="437.50" y2="244.35" stroke="#000" stroke-width="1.07" />
<text x="437.50" y="253.10" font-size="8.8" fill="#4D4D4D" text-anchor="middle">4</text>
<line x1="487.50" y1="241.60" x2="487.50" y2="244.35" stroke="#000" stroke-width="1.07" />
<text x="487.50" y="253.10" font-size="8.8" fill="#4D4D4D" text-anchor="middle">5</text>
<line x1="537.50" y1="241.60" x2="537.50" y2="244.35" stroke="#000" stroke-width="1.07" />
<text x="537.50" y="253.10" font-size="8.8" fill="#4D4D4D" text-anchor="middle">6</text>
<line x1="587.50" y1="241.60" x2="587.50" y2="244.35" stroke="#000" stroke-width="1.07" />
<text x="587.50" y="253.10" font-size="8.8" fill="#4D4D4D" text-anchor="middle">7</text>
<line x1="637.50" y1="241.60" x2="637.50" y2="244.35" stroke="#000" stroke-width="1.07" />
<text x="637.50" y="253.10" font-size="8.8" fill="#4D4D4D" text-anchor="middle">8</text>
<line x1="27.50" y1="294.40" x2="27.50" y2="519.93" stroke="#000" stroke-width="1.07" />
<line x1="24.75" y1="338.80" x2="27.50" y2="338.80" stroke="#000" stroke-width="1.07" />
<text x="22.50" y="341.90" font-size="8.8" fill="#4D4D4D" text-anchor="end">−1</text>
<line x1="24.75" y1="372.98" x2="27.50" y2="372.98" stroke="#000" stroke-width="1.07" />
<text x="22.50" y="376.08" font-size="8.8" fill="#4D4D4D" text-anchor="end">−2</text>
<line x1="24.75" y1="407.16" x2="27.50" y2="407.16" stroke="#000" stroke-width="1.07" />
<text x="22.50" y="410.26" font-size="8.8" fill="#4D4D4D" text-anchor="end">−3</text>
<line x1="24.75" y1="441.34" x2="27.50" y2="441.34" stroke="#000" stroke-width="1.07" />
<text x="22.50" y="444.44" font-size="8.8" fill="#4D4D4D" text-anchor="end">−4</text>
<line x1="24.75" y1="475.52" x2="27.50" y2="475.52" stroke="#000" stroke-width="1.07" />
<text x="22.50" y="478.62" font-size="8.8" fill="#4D4D4D" text-anchor="end">−5</text>
<line x1="24.75" y1="509.70" x2="27.50" y2="509.70" stroke="#000" stroke-width="1.07" />
<text x="22.50" y="512.80" font-size="8.8" fill="#4D4D4D" text-anchor="end">−6</text>
<text transform="translate(8.50,406.90) rotate(-90)" font-size="10.5" fill="#000" text-anchor="middle">logit(N)</text>
<line x1="302.60" y1="294.40" x2="302.60" y2="519.93" stroke="#000" stroke-width="1.07" />
<line x1="302.60" y1="338.80" x2="305.35" y2="338.80" stroke="#000" stroke-width="1.07" />
<text x="307.50" y="341.90" font-size="8.8" fill="#4D4D4D" text-anchor="start">26.9</text>
<line x1="302.60" y1="372.98" x2="305.35" y2="372.98" stroke="#000" stroke-width="1.07" />
<text x="307.50" y="376.08" font-size="8.8" fill="#4D4D4D" text-anchor="start">11.9</text>
<line x1="302.60" y1="407.16" x2="305.35" y2="407.16" stroke="#000" stroke-width="1.07" />
<text x="307.50" y="410.26" font-size="8.8" fill="#4D4D4D" text-anchor="start">4.7</text>
<line x1="302.60" y1="441.34" x2="305.35" y2="441.34" stroke="#000" stroke-width="1.07" />
<text x="307.50" y="444.44" font-size="8.8" fill="#4D4D4D" text-anchor="start">1.8</text>
<line x1="302.60" y1="475.52" x2="305.35" y2="475.52" stroke="#000" stroke-width="1.07" />
<text x="307.50" y="478.62" font-size="8.8" fill="#4D4D4D" text-anchor="start">0.7</text>
<line x1="302.60" y1="509.70" x2="305.35" y2="509.70" stroke="#000" stroke-width="1.07" />
<text x="307.50" y="512.80" font-size="8.8" fill="#4D4D4D" text-anchor="start">0.2</text>
<text transform="translate(329.20,406.90) rotate(90)" font-size="10.5" fill="#000" text-anchor="middle">N (% dry mass)</text>
<line x1="26.96" y1="519.40" x2="302.60" y2="519.40" stroke="#000" stroke-width="1.07" />
<line x1="40.00" y1="519.40" x2="40.00" y2="522.15" stroke="#000" stroke-width="1.07" />
<text x="40.00" y="530.90" font-size="8.8" fill="#4D4D4D" text-anchor="middle">3</text>
<line x1="90.00" y1="519.40" x2="90.00" y2="522.15" stroke="#000" stroke-width="1.07" />
<text x="90.00" y="530.90" font-size="8.8" fill="#4D4D4D" text-anchor="middle">4</text>
<line x1="140.00" y1="519.40" x2="140.00" y2="522.15" stroke="#000" stroke-width="1.07" />
<text x="140.00" y="530.90" font-size="8.8" fill="#4D4D4D" text-anchor="middle">5</text>
<line x1="190.00" y1="519.40" x2="190.00" y2="522.15" stroke="#000" stroke-width="1.07" />
<text x="190.00" y="530.90" font-size="8.8" fill="#4D4D4D" text-anchor="middle">6</text>
<line x1="240.00" y1="519.40" x2="240.00" y2="522.15" stroke="#000" stroke-width="1.07" />
<text x="240.00" y="530.90" font-size="8.8" fill="#4D4D4D" text-anchor="middle">7</text>
<line x1="290.00" y1="519.40" x2="290.00" y2="522.15" stroke="#000" stroke-width="1.07" />
<text x="290.00" y="530.90" font-size="8.8" fill="#4D4D4D" text-anchor="middle">8</text>
<line x1="375.40" y1="294.40" x2="375.40" y2="519.93" stroke="#000" stroke-width="1.07" />
<line x1="372.65" y1="338.80" x2="375.40" y2="338.80" stroke="#000" stroke-width="1.07" />
<text x="370.40" y="341.90" font-size="8.8" fill="#4D4D4D" text-anchor="end">−1</text>
<line x1="372.65" y1="372.98" x2="375.40" y2="372.98" stroke="#000" stroke-width="1.07" />
<text x="370.40" y="376.08" font-size="8.8" fill="#4D4D4D" text-anchor="end">−2</text>
<line x1="372.65" y1="407.16" x2="375.40" y2="407.16" stroke="#000" stroke-width="1.07" />
<text x="370.40" y="410.26" font-size="8.8" fill="#4D4D4D" text-anchor="end">−3</text>
<line x1="372.65" y1="441.34" x2="375.40" y2="441.34" stroke="#000" stroke-width="1.07" />
<text x="370.40" y="444.44" font-size="8.8" fill="#4D4D4D" text-anchor="end">−4</text>
<line x1="372.65" y1="475.52" x2="375.40" y2="475.52" stroke="#000" stroke-width="1.07" />
<text x="370.40" y="478.62" font-size="8.8" fill="#4D4D4D" text-anchor="end">−5</text>
<line x1="372.65" y1="509.70" x2="375.40" y2="509.70" stroke="#000" stroke-width="1.07" />
<text x="370.40" y="512.80" font-size="8.8" fill="#4D4D4D" text-anchor="end">−6</text>
<text transform="translate(356.00,406.90) rotate(-90)" font-size="10.5" fill="#000" text-anchor="middle">logit(N)</text>
<line x1="650.40" y1="294.40" x2="650.40" y2="519.93" stroke="#000" stroke-width="1.07" />
<line x1="650.40" y1="338.80" x2="653.15" y2="338.80" stroke="#000" stroke-width="1.07" />
<text x="655.30" y="341.90" font-size="8.8" fill="#4D4D4D" text-anchor="start">26.9</text>
<line x1="650.40" y1="372.98" x2="653.15" y2="372.98" stroke="#000" stroke-width="1.07" />
<text x="655.30" y="376.08" font-size="8.8" fill="#4D4D4D" text-anchor="start">11.9</text>
<line x1="650.40" y1="407.16" x2="653.15" y2="407.16" stroke="#000" stroke-width="1.07" />
<text x="655.30" y="410.26" font-size="8.8" fill="#4D4D4D" text-anchor="start">4.7</text>
<line x1="650.40" y1="441.34" x2="653.15" y2="441.34" stroke="#000" stroke-width="1.07" />
<text x="655.30" y="444.44" font-size="8.8" fill="#4D4D4D" text-anchor="start">1.8</text>
<line x1="650.40" y1="475.52" x2="653.15" y2="475.52" stroke="#000" stroke-width="1.07" />
<text x="655.30" y="478.62" font-size="8.8" fill="#4D4D4D" text-anchor="start">0.7</text>
<line x1="650.40" y1="509.70" x2="653.15" y2="509.70" stroke="#000" stroke-width="1.07" />
<text x="655.30" y="512.80" font-size="8.8" fill="#4D4D4D" text-anchor="start">0.2</text>
<text transform="translate(676.60,406.90) rotate(90)" font-size="10.5" fill="#000" text-anchor="middle">N (% dry mass)</text>
<line x1="374.86" y1="519.40" x2="510.00" y2="519.40" stroke="#000" stroke-width="1.07" />
<line x1="381.30" y1="519.40" x2="381.30" y2="522.15" stroke="#000" stroke-width="1.07" />
<text x="381.30" y="530.90" font-size="8.8" fill="#4D4D4D" text-anchor="middle">3</text>
<line x1="405.78" y1="519.40" x2="405.78" y2="522.15" stroke="#000" stroke-width="1.07" />
<text x="405.78" y="530.90" font-size="8.8" fill="#4D4D4D" text-anchor="middle">4</text>
<line x1="430.26" y1="519.40" x2="430.26" y2="522.15" stroke="#000" stroke-width="1.07" />
<text x="430.26" y="530.90" font-size="8.8" fill="#4D4D4D" text-anchor="middle">5</text>
<line x1="454.74" y1="519.40" x2="454.74" y2="522.15" stroke="#000" stroke-width="1.07" />
<text x="454.74" y="530.90" font-size="8.8" fill="#4D4D4D" text-anchor="middle">6</text>
<line x1="479.22" y1="519.40" x2="479.22" y2="522.15" stroke="#000" stroke-width="1.07" />
<text x="479.22" y="530.90" font-size="8.8" fill="#4D4D4D" text-anchor="middle">7</text>
<line x1="503.70" y1="519.40" x2="503.70" y2="522.15" stroke="#000" stroke-width="1.07" />
<text x="503.70" y="530.90" font-size="8.8" fill="#4D4D4D" text-anchor="middle">8</text>
<line x1="515.40" y1="519.40" x2="650.40" y2="519.40" stroke="#000" stroke-width="1.07" />
<line x1="521.50" y1="519.40" x2="521.50" y2="522.15" stroke="#000" stroke-width="1.07" />
<text x="521.50" y="530.90" font-size="8.8" fill="#4D4D4D" text-anchor="middle">3</text>
<line x1="545.98" y1="519.40" x2="545.98" y2="522.15" stroke="#000" stroke-width="1.07" />
<text x="545.98" y="530.90" font-size="8.8" fill="#4D4D4D" text-anchor="middle">4</text>
<line x1="570.46" y1="519.40" x2="570.46" y2="522.15" stroke="#000" stroke-width="1.07" />
<text x="570.46" y="530.90" font-size="8.8" fill="#4D4D4D" text-anchor="middle">5</text>
<line x1="594.94" y1="519.40" x2="594.94" y2="522.15" stroke="#000" stroke-width="1.07" />
<text x="594.94" y="530.90" font-size="8.8" fill="#4D4D4D" text-anchor="middle">6</text>
<line x1="619.42" y1="519.40" x2="619.42" y2="522.15" stroke="#000" stroke-width="1.07" />
<text x="619.42" y="530.90" font-size="8.8" fill="#4D4D4D" text-anchor="middle">7</text>
<line x1="643.90" y1="519.40" x2="643.90" y2="522.15" stroke="#000" stroke-width="1.07" />
<text x="643.90" y="530.90" font-size="8.8" fill="#4D4D4D" text-anchor="middle">8</text>
<rect x="375.40" y="278.60" width="134.60" height="15.80" fill="#fff" stroke="#000" stroke-width="1.07"/>
<text x="442.70" y="289.50" font-size="8.4" fill="#1A1A1A" text-anchor="middle">FRESHWATER</text>
<rect x="515.60" y="278.60" width="134.80" height="15.80" fill="#fff" stroke="#000" stroke-width="1.07"/>
<text x="583.00" y="289.50" font-size="8.4" fill="#1A1A1A" text-anchor="middle">TERRESTRIAL</text>
<line x1="22.40" y1="572.00" x2="22.40" y2="795.53" stroke="#000" stroke-width="1.07" />
<line x1="19.65" y1="785.10" x2="22.40" y2="785.10" stroke="#000" stroke-width="1.07" />
<text x="17.40" y="788.20" font-size="8.8" fill="#4D4D4D" text-anchor="end">0</text>
<line x1="19.65" y1="756.10" x2="22.40" y2="756.10" stroke="#000" stroke-width="1.07" />
<text x="17.40" y="759.20" font-size="8.8" fill="#4D4D4D" text-anchor="end">1</text>
<line x1="19.65" y1="727.10" x2="22.40" y2="727.10" stroke="#000" stroke-width="1.07" />
<text x="17.40" y="730.20" font-size="8.8" fill="#4D4D4D" text-anchor="end">2</text>
<line x1="19.65" y1="698.10" x2="22.40" y2="698.10" stroke="#000" stroke-width="1.07" />
<text x="17.40" y="701.20" font-size="8.8" fill="#4D4D4D" text-anchor="end">3</text>
<line x1="19.65" y1="669.10" x2="22.40" y2="669.10" stroke="#000" stroke-width="1.07" />
<text x="17.40" y="672.20" font-size="8.8" fill="#4D4D4D" text-anchor="end">4</text>
<line x1="19.65" y1="640.10" x2="22.40" y2="640.10" stroke="#000" stroke-width="1.07" />
<text x="17.40" y="643.20" font-size="8.8" fill="#4D4D4D" text-anchor="end">5</text>
<text transform="translate(8.50,683.50) rotate(-90)" font-size="10.5" fill="#000" text-anchor="middle">log(N:P)</text>
<line x1="305.50" y1="572.00" x2="305.50" y2="795.53" stroke="#000" stroke-width="1.07" />
<line x1="305.50" y1="785.10" x2="308.25" y2="785.10" stroke="#000" stroke-width="1.07" />
<text x="310.40" y="788.20" font-size="8.8" fill="#4D4D4D" text-anchor="start">1</text>
<line x1="305.50" y1="756.10" x2="308.25" y2="756.10" stroke="#000" stroke-width="1.07" />
<text x="310.40" y="759.20" font-size="8.8" fill="#4D4D4D" text-anchor="start">3</text>
<line x1="305.50" y1="727.10" x2="308.25" y2="727.10" stroke="#000" stroke-width="1.07" />
<text x="310.40" y="730.20" font-size="8.8" fill="#4D4D4D" text-anchor="start">7</text>
<line x1="305.50" y1="698.10" x2="308.25" y2="698.10" stroke="#000" stroke-width="1.07" />
<text x="310.40" y="701.20" font-size="8.8" fill="#4D4D4D" text-anchor="start">20</text>
<line x1="305.50" y1="669.10" x2="308.25" y2="669.10" stroke="#000" stroke-width="1.07" />
<text x="310.40" y="672.20" font-size="8.8" fill="#4D4D4D" text-anchor="start">55</text>
<line x1="305.50" y1="640.10" x2="308.25" y2="640.10" stroke="#000" stroke-width="1.07" />
<text x="310.40" y="643.20" font-size="8.8" fill="#4D4D4D" text-anchor="start">148</text>
<text transform="translate(329.20,683.50) rotate(90)" font-size="10.5" fill="#000" text-anchor="middle">N:P (molar ratio)</text>
<line x1="21.86" y1="795.00" x2="305.50" y2="795.00" stroke="#000" stroke-width="1.07" />
<line x1="35.40" y1="795.00" x2="35.40" y2="797.75" stroke="#000" stroke-width="1.07" />
<text x="35.40" y="806.50" font-size="8.8" fill="#4D4D4D" text-anchor="middle">3</text>
<line x1="86.80" y1="795.00" x2="86.80" y2="797.75" stroke="#000" stroke-width="1.07" />
<text x="86.80" y="806.50" font-size="8.8" fill="#4D4D4D" text-anchor="middle">4</text>
<line x1="138.20" y1="795.00" x2="138.20" y2="797.75" stroke="#000" stroke-width="1.07" />
<text x="138.20" y="806.50" font-size="8.8" fill="#4D4D4D" text-anchor="middle">5</text>
<line x1="189.60" y1="795.00" x2="189.60" y2="797.75" stroke="#000" stroke-width="1.07" />
<text x="189.60" y="806.50" font-size="8.8" fill="#4D4D4D" text-anchor="middle">6</text>
<line x1="241.00" y1="795.00" x2="241.00" y2="797.75" stroke="#000" stroke-width="1.07" />
<text x="241.00" y="806.50" font-size="8.8" fill="#4D4D4D" text-anchor="middle">7</text>
<line x1="292.40" y1="795.00" x2="292.40" y2="797.75" stroke="#000" stroke-width="1.07" />
<text x="292.40" y="806.50" font-size="8.8" fill="#4D4D4D" text-anchor="middle">8</text>
<text x="163.95" y="819.30" font-size="10.5" fill="#000" text-anchor="middle">log(N deposition)</text>
<line x1="370.40" y1="572.20" x2="370.40" y2="795.53" stroke="#000" stroke-width="1.07" />
<line x1="367.65" y1="785.10" x2="370.40" y2="785.10" stroke="#000" stroke-width="1.07" />
<text x="365.40" y="788.20" font-size="8.8" fill="#4D4D4D" text-anchor="end">0</text>
<line x1="367.65" y1="756.10" x2="370.40" y2="756.10" stroke="#000" stroke-width="1.07" />
<text x="365.40" y="759.20" font-size="8.8" fill="#4D4D4D" text-anchor="end">1</text>
<line x1="367.65" y1="727.10" x2="370.40" y2="727.10" stroke="#000" stroke-width="1.07" />
<text x="365.40" y="730.20" font-size="8.8" fill="#4D4D4D" text-anchor="end">2</text>
<line x1="367.65" y1="698.10" x2="370.40" y2="698.10" stroke="#000" stroke-width="1.07" />
<text x="365.40" y="701.20" font-size="8.8" fill="#4D4D4D" text-anchor="end">3</text>
<line x1="367.65" y1="669.10" x2="370.40" y2="669.10" stroke="#000" stroke-width="1.07" />
<text x="365.40" y="672.20" font-size="8.8" fill="#4D4D4D" text-anchor="end">4</text>
<line x1="367.65" y1="640.10" x2="370.40" y2="640.10" stroke="#000" stroke-width="1.07" />
<text x="365.40" y="643.20" font-size="8.8" fill="#4D4D4D" text-anchor="end">5</text>
<text transform="translate(356.00,683.60) rotate(-90)" font-size="10.5" fill="#000" text-anchor="middle">log(N:P)</text>
<line x1="652.80" y1="572.20" x2="652.80" y2="795.53" stroke="#000" stroke-width="1.07" />
<line x1="652.80" y1="785.10" x2="655.55" y2="785.10" stroke="#000" stroke-width="1.07" />
<text x="657.70" y="788.20" font-size="8.8" fill="#4D4D4D" text-anchor="start">1</text>
<line x1="652.80" y1="756.10" x2="655.55" y2="756.10" stroke="#000" stroke-width="1.07" />
<text x="657.70" y="759.20" font-size="8.8" fill="#4D4D4D" text-anchor="start">3</text>
<line x1="652.80" y1="727.10" x2="655.55" y2="727.10" stroke="#000" stroke-width="1.07" />
<text x="657.70" y="730.20" font-size="8.8" fill="#4D4D4D" text-anchor="start">7</text>
<line x1="652.80" y1="698.10" x2="655.55" y2="698.10" stroke="#000" stroke-width="1.07" />
<text x="657.70" y="701.20" font-size="8.8" fill="#4D4D4D" text-anchor="start">20</text>
<line x1="652.80" y1="669.10" x2="655.55" y2="669.10" stroke="#000" stroke-width="1.07" />
<text x="657.70" y="672.20" font-size="8.8" fill="#4D4D4D" text-anchor="start">55</text>
<line x1="652.80" y1="640.10" x2="655.55" y2="640.10" stroke="#000" stroke-width="1.07" />
<text x="657.70" y="643.20" font-size="8.8" fill="#4D4D4D" text-anchor="start">148</text>
<text transform="translate(677.80,683.60) rotate(90)" font-size="10.5" fill="#000" text-anchor="middle">N:P (molar ratio)</text>
<line x1="369.86" y1="795.00" x2="508.80" y2="795.00" stroke="#000" stroke-width="1.07" />
<line x1="376.40" y1="795.00" x2="376.40" y2="797.75" stroke="#000" stroke-width="1.07" />
<text x="376.40" y="806.50" font-size="8.8" fill="#4D4D4D" text-anchor="middle">3</text>
<line x1="401.60" y1="795.00" x2="401.60" y2="797.75" stroke="#000" stroke-width="1.07" />
<text x="401.60" y="806.50" font-size="8.8" fill="#4D4D4D" text-anchor="middle">4</text>
<line x1="426.80" y1="795.00" x2="426.80" y2="797.75" stroke="#000" stroke-width="1.07" />
<text x="426.80" y="806.50" font-size="8.8" fill="#4D4D4D" text-anchor="middle">5</text>
<line x1="452.00" y1="795.00" x2="452.00" y2="797.75" stroke="#000" stroke-width="1.07" />
<text x="452.00" y="806.50" font-size="8.8" fill="#4D4D4D" text-anchor="middle">6</text>
<line x1="477.20" y1="795.00" x2="477.20" y2="797.75" stroke="#000" stroke-width="1.07" />
<text x="477.20" y="806.50" font-size="8.8" fill="#4D4D4D" text-anchor="middle">7</text>
<line x1="502.40" y1="795.00" x2="502.40" y2="797.75" stroke="#000" stroke-width="1.07" />
<text x="502.40" y="806.50" font-size="8.8" fill="#4D4D4D" text-anchor="middle">8</text>
<line x1="514.30" y1="795.00" x2="652.80" y2="795.00" stroke="#000" stroke-width="1.07" />
<line x1="520.50" y1="795.00" x2="520.50" y2="797.75" stroke="#000" stroke-width="1.07" />
<text x="520.50" y="806.50" font-size="8.8" fill="#4D4D4D" text-anchor="middle">3</text>
<line x1="545.60" y1="795.00" x2="545.60" y2="797.75" stroke="#000" stroke-width="1.07" />
<text x="545.60" y="806.50" font-size="8.8" fill="#4D4D4D" text-anchor="middle">4</text>
<line x1="570.70" y1="795.00" x2="570.70" y2="797.75" stroke="#000" stroke-width="1.07" />
<text x="570.70" y="806.50" font-size="8.8" fill="#4D4D4D" text-anchor="middle">5</text>
<line x1="595.80" y1="795.00" x2="595.80" y2="797.75" stroke="#000" stroke-width="1.07" />
<text x="595.80" y="806.50" font-size="8.8" fill="#4D4D4D" text-anchor="middle">6</text>
<line x1="620.90" y1="795.00" x2="620.90" y2="797.75" stroke="#000" stroke-width="1.07" />
<text x="620.90" y="806.50" font-size="8.8" fill="#4D4D4D" text-anchor="middle">7</text>
<line x1="646.00" y1="795.00" x2="646.00" y2="797.75" stroke="#000" stroke-width="1.07" />
<text x="646.00" y="806.50" font-size="8.8" fill="#4D4D4D" text-anchor="middle">8</text>
<rect x="370.40" y="556.60" width="138.40" height="15.60" fill="#fff" stroke="#000" stroke-width="1.07"/>
<text x="439.60" y="567.40" font-size="8.4" fill="#1A1A1A" text-anchor="middle">FRESHWATER</text>
<rect x="514.50" y="556.60" width="138.30" height="15.60" fill="#fff" stroke="#000" stroke-width="1.07"/>
<text x="583.65" y="567.40" font-size="8.4" fill="#1A1A1A" text-anchor="middle">TERRESTRIAL</text>
<text x="511.60" y="819.30" font-size="10.5" fill="#000" text-anchor="middle">log(N deposition)</text>
<text x="35.90" y="14.70" font-size="11" fill="#000" text-anchor="start" font-weight="bold">A</text>
<text x="383.50" y="14.70" font-size="11" fill="#000" text-anchor="start" font-weight="bold">B</text>
<text x="36.20" y="308.80" font-size="11" fill="#000" text-anchor="start" font-weight="bold">C</text>
<text x="377.00" y="308.80" font-size="11" fill="#000" text-anchor="start" font-weight="bold">D</text>
<text x="31.80" y="586.90" font-size="11" fill="#000" text-anchor="start" font-weight="bold">E</text>
<text x="373.40" y="586.90" font-size="11" fill="#000" text-anchor="start" font-weight="bold">F</text>
<circle cx="142.50" cy="11.70" r="2.1" fill="#A9A9A9"/>
<text x="156.90" y="14.70" font-size="8.4" fill="#000" text-anchor="start">OVERALL</text>
<circle cx="436.70" cy="11.60" r="2.1" fill="#458B00"/>
<text x="451.00" y="14.60" font-size="8.4" fill="#000" text-anchor="start">AUTOTROPH</text>
<circle cx="517.30" cy="11.60" r="2.1" fill="#D2691E"/>
<text x="531.50" y="14.60" font-size="8.4" fill="#000" text-anchor="start">HETEROTROPH</text>
<circle cx="89.20" cy="305.20" r="2.1" fill="#00CED1"/>
<text x="103.10" y="308.20" font-size="8.4" fill="#000" text-anchor="start">FRESHWATER</text>
<circle cx="175.90" cy="305.20" r="2.1" fill="#DAA520"/>
<text x="190.40" y="308.20" font-size="8.4" fill="#000" text-anchor="start">TERRESTRIAL</text>
<circle cx="430.40" cy="313.00" r="2.1" fill="#00FFFF"/>
<text x="444.40" y="316.00" font-size="8.4" fill="#000" text-anchor="start">AUTOTROPH</text>
<circle cx="430.40" cy="329.60" r="2.1" fill="#008B8B"/>
<text x="444.40" y="332.60" font-size="8.4" fill="#000" text-anchor="start">HETEROTROPH</text>
<circle cx="523.60" cy="313.00" r="2.1" fill="#FFC125"/>
<text x="538.00" y="316.00" font-size="8.4" fill="#000" text-anchor="start">AUTOTROPH</text>
<circle cx="523.60" cy="329.60" r="2.1" fill="#8B6914"/>
<text x="538.00" y="332.60" font-size="8.4" fill="#000" text-anchor="start">HETEROTROPH</text>
<circle cx="87.90" cy="583.50" r="2.1" fill="#00CED1"/>
<text x="101.80" y="586.50" font-size="8.4" fill="#000" text-anchor="start">FRESHWATER</text>
<circle cx="174.10" cy="583.50" r="2.1" fill="#DAA520"/>
<text x="188.50" y="586.50" font-size="8.4" fill="#000" text-anchor="start">TERRESTRIAL</text>
<circle cx="429.30" cy="591.30" r="2.1" fill="#00FFFF"/>
<text x="443.10" y="594.30" font-size="8.4" fill="#000" text-anchor="start">AUTOTROPH</text>
<circle cx="429.30" cy="607.60" r="2.1" fill="#008B8B"/>
<text x="443.10" y="610.60" font-size="8.4" fill="#000" text-anchor="start">HETEROTROPH</text>
<circle cx="522.50" cy="591.30" r="2.1" fill="#FFC125"/>
<text x="536.30" y="594.30" font-size="8.4" fill="#000" text-anchor="start">AUTOTROPH</text>
<circle cx="522.50" cy="607.60" r="2.1" fill="#8B6914"/>
<text x="536.30" y="610.60" font-size="8.4" fill="#000" text-anchor="start">HETEROTROPH</text>
</svg>
</body></html>
